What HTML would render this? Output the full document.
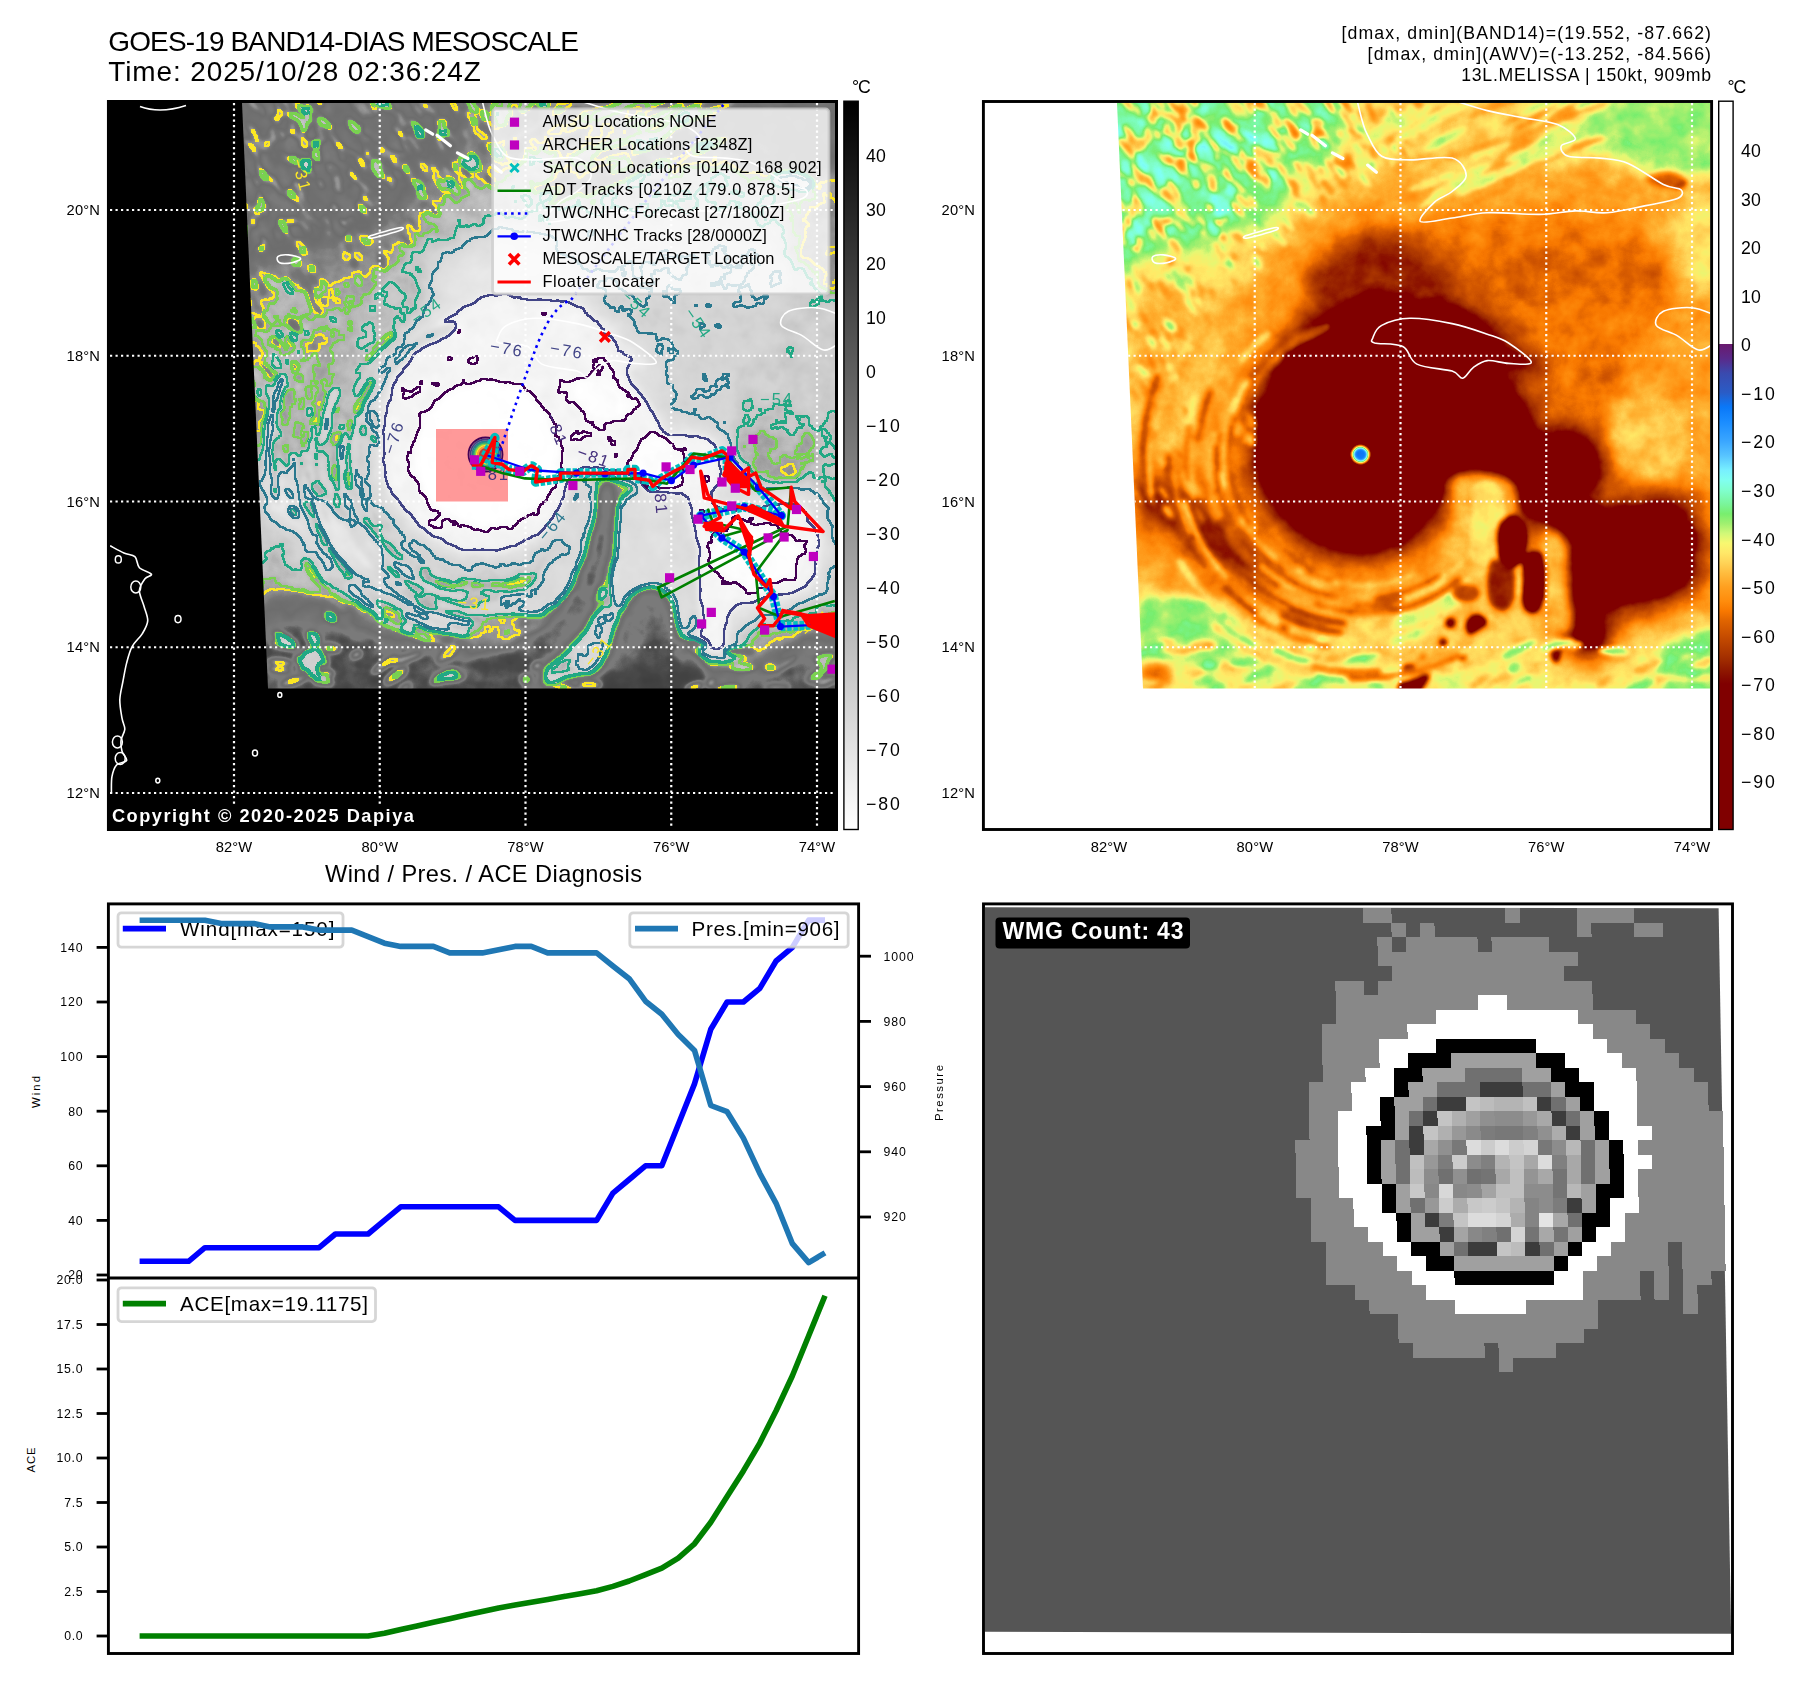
<!DOCTYPE html>
<html><head><meta charset="utf-8"><title>GOES-19 BAND14-DIAS MESOSCALE</title>
<style>html,body{margin:0;padding:0;background:#fff}svg{display:block}text{font-family:"Liberation Sans",sans-serif}</style>
</head><body>
<svg width="1801" height="1690" viewBox="0 0 1801 1690">
<rect width="1801" height="1690" fill="#fff"/>
<defs>
<linearGradient id="cb1" x1="0" y1="0" x2="0" y2="1"><stop offset="0" stop-color="#000"/><stop offset="1" stop-color="#fff"/></linearGradient>
<linearGradient id="cb2" x1="0" y1="0" x2="0" y2="1"><stop offset="0" stop-color="#fff"/><stop offset="0.3333" stop-color="#fff"/><stop offset="0.3333" stop-color="#6a1a6e"/><stop offset="0.3533" stop-color="#5a2a8a"/><stop offset="0.3733" stop-color="#3a4aae"/><stop offset="0.4000" stop-color="#2a5cc6"/><stop offset="0.4200" stop-color="#0a78f8"/><stop offset="0.4400" stop-color="#1a8cff"/><stop offset="0.4667" stop-color="#3aa6ff"/><stop offset="0.4867" stop-color="#58c4ff"/><stop offset="0.5067" stop-color="#78f0ff"/><stop offset="0.5200" stop-color="#80fff0"/><stop offset="0.5333" stop-color="#80ffd0"/><stop offset="0.5533" stop-color="#7af59a"/><stop offset="0.5667" stop-color="#78ee6e"/><stop offset="0.5800" stop-color="#a0f070"/><stop offset="0.5933" stop-color="#d0f878"/><stop offset="0.6067" stop-color="#f8f870"/><stop offset="0.6200" stop-color="#ffe868"/><stop offset="0.6333" stop-color="#ffd458"/><stop offset="0.6467" stop-color="#ffbe40"/><stop offset="0.6667" stop-color="#ffa020"/><stop offset="0.6867" stop-color="#ff8c0c"/><stop offset="0.7000" stop-color="#f87800"/><stop offset="0.7133" stop-color="#e06400"/><stop offset="0.7333" stop-color="#c84e00"/><stop offset="0.7533" stop-color="#b03a00"/><stop offset="0.7667" stop-color="#a02c00"/><stop offset="0.7800" stop-color="#901a00"/><stop offset="0.7933" stop-color="#840800"/><stop offset="0.8000" stop-color="#800000"/><stop offset="1.0000" stop-color="#800000"/></linearGradient>
<clipPath id="clip1"><path d="M242 103H835V688.5H268Z"/></clipPath>
<clipPath id="clip2"><path d="M1117 103H1710.2V688.5H1143Z"/></clipPath>
<clipPath id="clip3"><rect x="109.8" y="905.3" width="747.4" height="746.8"/></clipPath>
<clipPath id="clipax1"><rect x="109.8" y="102.9" width="725.3" height="725.2"/></clipPath>
</defs>

<defs>
<filter id="bl" filterUnits="userSpaceOnUse" x="200" y="60" width="680" height="680"><feGaussianBlur stdDeviation="11"/></filter>
<filter id="bm" filterUnits="userSpaceOnUse" x="200" y="60" width="680" height="680"><feGaussianBlur stdDeviation="5"/></filter>
<filter id="bs" filterUnits="userSpaceOnUse" x="200" y="60" width="680" height="680"><feGaussianBlur stdDeviation="2"/></filter>
<filter id="bx" filterUnits="userSpaceOnUse" x="200" y="60" width="680" height="680"><feGaussianBlur stdDeviation="1.3"/></filter>
<g id="field">
<rect x="200" y="60" width="680" height="680" fill="#808080"/>
<g filter="url(#bl)"><path d="M230.0 90.0C285.8 32.3 513.3 79.2 565.0 90.0C616.7 100.8 560.0 135.8 540.0 155.0C520.0 174.2 470.0 187.8 445.0 205.0C420.0 222.2 408.2 238.8 390.0 258.0C371.8 277.2 352.3 296.7 336.0 320.0C319.7 343.3 304.0 379.3 292.0 398.0C280.0 416.7 274.3 425.7 264.0 432.0C253.7 438.3 235.7 493.0 230.0 436.0C224.3 379.0 174.2 147.7 230.0 90.0Z" fill="#969696"/>
<path d="M225.0 85.0C270.3 55.5 453.5 82.0 497.0 85.0C540.5 88.0 492.2 95.5 486.0 103.0C479.8 110.5 465.8 120.8 460.0 130.0C454.2 139.2 458.5 150.2 451.0 158.0C443.5 165.8 422.5 168.8 415.0 177.0C407.5 185.2 413.5 199.0 406.0 207.0C398.5 215.0 382.0 219.0 370.0 225.0C358.0 231.0 349.0 238.5 334.0 243.0C319.0 247.5 298.2 248.8 280.0 252.0C261.8 255.2 234.2 289.8 225.0 262.0C215.8 234.2 179.7 114.5 225.0 85.0Z" fill="#b6b6b6"/>
<path d="M492.0 85.0C523.2 72.5 686.5 74.2 722.0 85.0C757.5 95.8 717.0 133.8 705.0 150.0C693.0 166.2 667.5 174.0 650.0 182.0C632.5 190.0 615.0 196.7 600.0 198.0C585.0 199.3 570.8 196.3 560.0 190.0C549.2 183.7 546.3 177.5 535.0 160.0C523.7 142.5 460.8 97.5 492.0 85.0Z" fill="#8f8f8f"/>
<path d="M705.0 85.0C736.7 79.2 825.8 70.5 850.0 85.0C874.2 99.5 862.5 156.8 850.0 172.0C837.5 187.2 796.3 179.0 775.0 176.0C753.7 173.0 737.8 156.7 722.0 154.0C706.2 151.3 690.3 165.7 680.0 160.0C669.7 154.3 655.8 132.5 660.0 120.0C664.2 107.5 673.3 90.8 705.0 85.0Z" fill="#a9a9a9"/>
<path d="M800.0 205.0C807.5 192.5 841.7 191.7 850.0 205.0C858.3 218.3 857.5 272.5 850.0 285.0C842.5 297.5 813.3 293.3 805.0 280.0C796.7 266.7 792.5 217.5 800.0 205.0Z" fill="#969696"/>
<path d="M545.0 222.0C567.5 211.2 659.2 211.2 700.0 215.0C740.8 218.8 773.3 230.8 790.0 245.0C806.7 259.2 804.2 283.3 800.0 300.0C795.8 316.7 775.0 325.0 765.0 345.0C755.0 365.0 750.8 405.8 740.0 420.0C729.2 434.2 715.0 434.2 700.0 430.0C685.0 425.8 665.0 411.7 650.0 395.0C635.0 378.3 624.2 349.2 610.0 330.0C595.8 310.8 575.8 298.0 565.0 280.0C554.2 262.0 522.5 232.8 545.0 222.0Z" fill="#707070"/>
<path d="M255.0 580.0C262.5 561.7 284.2 595.7 300.0 600.0C315.8 604.3 331.7 604.3 350.0 606.0C368.3 607.7 390.0 609.3 410.0 610.0C430.0 610.7 450.0 611.0 470.0 610.0C490.0 609.0 512.5 607.3 530.0 604.0C547.5 600.7 563.3 596.3 575.0 590.0C586.7 583.7 589.2 566.8 600.0 566.0C610.8 565.2 625.0 572.7 640.0 585.0C655.0 597.3 666.7 632.8 690.0 640.0C713.3 647.2 753.3 632.7 780.0 628.0C806.7 623.3 838.3 598.3 850.0 612.0C861.7 625.7 949.2 693.7 850.0 710.0C750.8 726.3 354.2 731.7 255.0 710.0C155.8 688.3 247.5 598.3 255.0 580.0Z" fill="#8f8f8f"/>
<path d="M255.0 606.0C262.5 587.0 284.8 596.0 300.0 596.0C315.2 596.0 334.0 599.3 346.0 606.0C358.0 612.7 362.7 628.0 372.0 636.0C381.3 644.0 384.0 651.3 402.0 654.0C420.0 656.7 457.0 652.7 480.0 652.0C503.0 651.3 513.3 648.3 540.0 650.0C566.7 651.7 610.0 659.0 640.0 662.0C670.0 665.0 695.0 671.0 720.0 668.0C745.0 665.0 768.3 649.3 790.0 644.0C811.7 638.7 840.0 625.0 850.0 636.0C860.0 647.0 949.2 697.7 850.0 710.0C750.8 722.3 354.2 727.3 255.0 710.0C155.8 692.7 247.5 625.0 255.0 606.0Z" fill="#9c9c9c"/>
<path d="M258.0 440.0C265.0 428.0 284.7 441.7 300.0 450.0C315.3 458.3 334.2 474.2 350.0 490.0C365.8 505.8 386.3 528.0 395.0 545.0C403.7 562.0 409.5 584.2 402.0 592.0C394.5 599.8 368.3 598.7 350.0 592.0C331.7 585.3 307.3 563.7 292.0 552.0C276.7 540.3 263.7 540.7 258.0 522.0C252.3 503.3 251.0 452.0 258.0 440.0Z" fill="#6c6c6c"/>
<path d="M262.0 300.0C273.3 273.3 313.7 285.0 330.0 290.0C346.3 295.0 358.3 311.7 360.0 330.0C361.7 348.3 346.7 380.0 340.0 400.0C333.3 420.0 333.0 441.7 320.0 450.0C307.0 458.3 271.7 475.0 262.0 450.0C252.3 425.0 250.7 326.7 262.0 300.0Z" fill="#898989"/>
<path d="M379.9 452.1C379.5 443.1 381.4 418.9 383.5 409.9C385.5 400.8 393.0 382.9 397.5 374.6C402.1 366.4 415.6 346.8 422.2 339.4C428.8 332.0 444.8 317.0 453.9 311.3C462.9 305.5 491.0 291.8 499.6 290.1C508.3 288.5 518.8 295.5 527.8 297.2C536.9 298.8 567.3 300.9 577.1 304.2C587.0 307.5 604.9 319.6 612.3 325.4C619.7 331.1 635.4 349.2 640.5 353.5C645.6 357.8 657.6 360.1 656.3 362.3C655.1 364.6 631.0 368.6 629.9 372.9C628.9 377.2 643.4 392.1 647.5 399.3C651.6 406.5 660.2 430.6 665.1 434.5C670.1 438.4 684.0 432.1 689.8 432.7C695.5 433.4 710.3 435.1 714.4 439.8C718.5 444.5 725.2 466.5 725.0 473.2C724.8 480.0 711.4 493.8 712.7 497.9C713.9 502.0 728.4 507.8 735.6 508.5C742.8 509.1 766.1 503.4 774.3 503.2C782.5 503.0 800.6 502.4 806.0 506.7C811.3 511.0 819.2 531.3 820.1 540.1C820.9 549.0 818.4 575.4 813.0 582.4C807.7 589.4 783.7 596.7 774.3 600.0C764.8 603.3 737.8 604.8 732.0 610.6C726.3 616.3 728.9 645.4 725.0 649.3C721.1 653.2 702.7 650.6 698.6 644.0C694.5 637.4 691.2 604.7 689.8 593.0C688.4 581.3 688.3 551.9 686.3 543.7C684.2 535.4 676.7 525.8 672.2 522.5C667.7 519.2 651.8 519.6 647.5 515.5C643.2 511.4 639.3 492.0 635.2 487.3C631.1 482.6 619.1 476.4 612.3 475.0C605.5 473.6 582.9 471.5 577.1 475.0C571.4 478.5 567.1 498.2 563.0 504.9C558.9 511.7 548.5 527.8 541.9 533.1C535.3 538.4 514.9 548.4 506.7 550.7C498.5 553.0 479.7 553.7 471.5 552.5C463.3 551.2 443.7 544.5 436.3 540.1C428.9 535.8 413.8 521.7 408.1 515.5C402.3 509.3 390.3 494.7 387.0 487.3C383.7 479.9 380.3 461.2 379.9 452.1Z" fill="#535353" stroke="#535353" stroke-width="34" stroke-linejoin="round"/>
<path d="M436.3 265.5C442.7 256.1 458.6 246.7 471.5 240.8C484.4 235.0 502.0 230.3 513.7 230.3C525.5 230.3 531.3 234.4 541.9 240.8C552.5 247.3 571.2 258.5 577.1 269.0C583.0 279.6 585.3 299.5 577.1 304.2C568.9 308.9 540.7 299.5 527.8 297.2C514.9 294.8 512.0 287.8 499.6 290.1C487.3 292.5 465.0 310.1 453.9 311.3C442.7 312.4 435.7 304.8 432.7 297.2C429.8 289.6 429.8 274.9 436.3 265.5Z" fill="#4c4c4c"/></g>
<g filter="url(#bm)"><path d="M379.9 452.1C379.5 443.1 381.4 418.9 383.5 409.9C385.5 400.8 393.0 382.9 397.5 374.6C402.1 366.4 415.6 346.8 422.2 339.4C428.8 332.0 444.8 317.0 453.9 311.3C462.9 305.5 491.0 291.8 499.6 290.1C508.3 288.5 518.8 295.5 527.8 297.2C536.9 298.8 567.3 300.9 577.1 304.2C587.0 307.5 604.9 319.6 612.3 325.4C619.7 331.1 635.4 349.2 640.5 353.5C645.6 357.8 657.6 360.1 656.3 362.3C655.1 364.6 631.0 368.6 629.9 372.9C628.9 377.2 643.4 392.1 647.5 399.3C651.6 406.5 660.2 430.6 665.1 434.5C670.1 438.4 684.0 432.1 689.8 432.7C695.5 433.4 710.3 435.1 714.4 439.8C718.5 444.5 725.2 466.5 725.0 473.2C724.8 480.0 711.4 493.8 712.7 497.9C713.9 502.0 728.4 507.8 735.6 508.5C742.8 509.1 766.1 503.4 774.3 503.2C782.5 503.0 800.6 502.4 806.0 506.7C811.3 511.0 819.2 531.3 820.1 540.1C820.9 549.0 818.4 575.4 813.0 582.4C807.7 589.4 783.7 596.7 774.3 600.0C764.8 603.3 737.8 604.8 732.0 610.6C726.3 616.3 728.9 645.4 725.0 649.3C721.1 653.2 702.7 650.6 698.6 644.0C694.5 637.4 691.2 604.7 689.8 593.0C688.4 581.3 688.3 551.9 686.3 543.7C684.2 535.4 676.7 525.8 672.2 522.5C667.7 519.2 651.8 519.6 647.5 515.5C643.2 511.4 639.3 492.0 635.2 487.3C631.1 482.6 619.1 476.4 612.3 475.0C605.5 473.6 582.9 471.5 577.1 475.0C571.4 478.5 567.1 498.2 563.0 504.9C558.9 511.7 548.5 527.8 541.9 533.1C535.3 538.4 514.9 548.4 506.7 550.7C498.5 553.0 479.7 553.7 471.5 552.5C463.3 551.2 443.7 544.5 436.3 540.1C428.9 535.8 413.8 521.7 408.1 515.5C402.3 509.3 390.3 494.7 387.0 487.3C383.7 479.9 380.3 461.2 379.9 452.1Z" fill="#2b2b2b"/>
<ellipse cx="486.5" cy="454.5" rx="73" ry="73" fill="#101010"/>
<ellipse cx="655" cy="470" rx="26" ry="34" fill="#131313"/>
<ellipse cx="755" cy="555" rx="45" ry="32" fill="#131313"/>
<ellipse cx="600" cy="400" rx="30" ry="22" fill="#161616" transform="rotate(30 600 400)"/>
<path d="M268.0 478.0C273.7 475.0 288.0 481.3 300.0 488.0C312.0 494.7 327.2 508.3 340.0 518.0C352.8 527.7 371.3 537.0 377.0 546.0C382.7 555.0 380.2 569.3 374.0 572.0C367.8 574.7 352.3 568.7 340.0 562.0C327.7 555.3 312.3 541.3 300.0 532.0C287.7 522.7 271.3 515.0 266.0 506.0C260.7 497.0 262.3 481.0 268.0 478.0Z" fill="#494949"/>
<path d="M580.6 478.5C589.7 472.9 623.5 475.9 633.5 482.0C643.4 488.2 641.7 502.9 640.5 515.5C639.3 528.1 632.9 543.7 626.4 557.7C620.0 571.8 612.3 587.1 601.8 600.0C591.2 612.9 577.7 624.6 563.0 635.2C548.4 645.8 524.9 661.0 513.7 663.4C502.6 665.7 492.0 658.7 496.1 649.3C500.2 639.9 526.6 622.3 538.4 607.0C550.1 591.8 559.8 573.0 566.5 557.7C573.3 542.5 576.5 528.7 578.9 515.5C581.2 502.3 571.5 484.1 580.6 478.5Z" fill="#898989"/>
<path d="M520.0 614.0C526.7 604.0 548.3 597.7 560.0 592.0C571.7 586.3 585.7 578.3 590.0 580.0C594.3 581.7 591.7 594.0 586.0 602.0C580.3 610.0 567.0 619.7 556.0 628.0C545.0 636.3 526.0 654.3 520.0 652.0C514.0 649.7 513.3 624.0 520.0 614.0Z" fill="#a3a3a3"/>
<path d="M666.9 536.6C671.0 529.0 685.4 530.8 689.8 540.1C694.2 549.5 692.4 578.3 693.3 593.0C694.2 607.6 698.6 622.3 695.1 628.2C691.5 634.0 677.2 635.2 672.2 628.2C667.2 621.1 666.0 601.2 665.1 585.9C664.3 570.7 662.8 544.2 666.9 536.6Z" fill="#898989"/>
<ellipse cx="645" cy="277" rx="50" ry="20" fill="#666666" transform="rotate(-8 645 277)"/>
<ellipse cx="730" cy="272" rx="52" ry="20" fill="#696969" transform="rotate(5 730 272)"/>
<ellipse cx="720" cy="375" rx="18" ry="9" fill="#666666"/>
<path d="M745.0 400.0C755.8 394.2 788.3 396.7 800.0 405.0C811.7 413.3 816.7 437.5 815.0 450.0C813.3 462.5 800.8 476.7 790.0 480.0C779.2 483.3 759.2 476.7 750.0 470.0C740.8 463.3 735.8 451.7 735.0 440.0C734.2 428.3 734.2 405.8 745.0 400.0Z" fill="#8c8c8c"/>
<ellipse cx="282" cy="676" rx="16" ry="14" fill="#6c6c6c"/>
<path d="M266.0 604.0C271.7 595.0 286.8 595.7 300.0 596.0C313.2 596.3 334.0 599.7 345.0 606.0C356.0 612.3 363.5 625.5 366.0 634.0C368.5 642.5 371.0 652.3 360.0 657.0C349.0 661.7 315.7 663.2 300.0 662.0C284.3 660.8 271.7 659.7 266.0 650.0C260.3 640.3 260.3 613.0 266.0 604.0Z" fill="#acacac"/>
<path d="M791.0 644.0C800.8 633.3 840.2 626.7 850.0 636.0C859.8 645.3 859.8 689.3 850.0 700.0C840.2 710.7 800.8 709.3 791.0 700.0C781.2 690.7 781.2 654.7 791.0 644.0Z" fill="#acacac"/></g>
<g filter="url(#bs)"><path d="M598.2 485.6C603.1 481.2 621.7 480.0 626.4 489.1C631.1 498.2 629.3 527.5 626.4 540.1C623.5 552.8 614.1 562.4 608.8 564.8C603.5 567.1 596.6 562.4 594.7 554.2C592.8 546.0 596.9 526.9 597.5 515.5C598.1 504.0 593.4 490.0 598.2 485.6Z" fill="#969696"/>
<path d="M645.8 540.1C645.8 544.8 646.4 559.5 645.8 568.3C645.2 577.1 642.8 588.8 642.3 593.0" fill="none" stroke="#999999" stroke-width="6" stroke-linecap="round" stroke-linejoin="round"/>
<path d="M624.6 522.5C628.0 517.3 637.7 513.7 642.3 515.5C646.8 517.3 650.9 525.5 651.8 533.1C652.6 540.7 651.2 555.4 647.5 561.3C643.9 567.1 634.2 570.7 629.9 568.3C625.7 566.0 623.1 554.8 622.2 547.2C621.3 539.6 621.3 527.8 624.6 522.5Z" fill="#262626"/>
<path d="M615.8 561.3C619.7 556.0 632.9 563.0 637.0 568.3C641.1 573.6 641.7 585.9 640.5 593.0C639.3 600.0 634.3 609.4 629.9 610.6C625.5 611.7 616.4 608.2 614.1 600.0C611.7 591.8 612.0 566.5 615.8 561.3Z" fill="#4c4c4c"/>
<path d="M649.3 556.0C652.6 551.9 663.6 548.1 666.9 554.2C670.2 560.4 670.2 583.3 669.4 593.0C668.5 602.6 665.0 610.0 661.6 612.3C658.3 614.7 651.8 612.6 649.3 607.0C646.8 601.5 646.8 587.4 646.8 578.9C646.8 570.4 646.0 560.1 649.3 556.0Z" fill="#262626"/>
<ellipse cx="601.7605633802817" cy="626.4084507042254" rx="11" ry="12" fill="#262626"/>
<ellipse cx="575.3521126760563" cy="622.887323943662" rx="5" ry="5" fill="#2d2d2d"/>
<ellipse cx="568.3098591549297" cy="642.2535211267606" rx="4" ry="4" fill="#333333"/>
<ellipse cx="587.6760563380282" cy="656.3380281690141" rx="4" ry="5" fill="#333333"/>
<ellipse cx="680.9859154929577" cy="651.0563380281691" rx="5" ry="12" fill="#2d2d2d"/>
<path d="M524.3 695.1C522.2 690.4 523.1 676.9 526.1 670.4C529.0 664.0 536.6 658.1 541.9 656.3C547.2 654.6 556.0 655.8 557.7 659.9C559.5 664.0 555.7 674.5 552.5 681.0C549.2 687.4 543.1 696.2 538.4 698.6C533.7 700.9 526.3 699.8 524.3 695.1Z" fill="#2d2d2d"/>
<ellipse cx="591.1971830985915" cy="592.9577464788733" rx="14" ry="9" fill="#595959"/>
<ellipse cx="408.09859154929575" cy="628.1690140845071" rx="6" ry="5" fill="#606060"/>
<ellipse cx="802" cy="183" rx="10" ry="6" fill="#4c4c4c"/>
<ellipse cx="790" cy="180" rx="18" ry="8" fill="#666666"/>
<ellipse cx="320.4" cy="124.4" rx="8.8" ry="2.1" fill="#858585" transform="rotate(44.7 320.4 124.4)"/>
<ellipse cx="256.0" cy="182.2" rx="4.6" ry="1.7" fill="#6e6e6e" transform="rotate(53.4 256.0 182.2)"/>
<ellipse cx="344.7" cy="234.0" rx="9.6" ry="3.2" fill="#717171" transform="rotate(48.4 344.7 234.0)"/>
<ellipse cx="381.7" cy="164.3" rx="11.7" ry="2.0" fill="#929292" transform="rotate(44.1 381.7 164.3)"/>
<ellipse cx="276.9" cy="119.1" rx="5.6" ry="2.5" fill="#787878" transform="rotate(62.6 276.9 119.1)"/>
<ellipse cx="396.6" cy="160.3" rx="4.5" ry="1.9" fill="#818181" transform="rotate(44.5 396.6 160.3)"/>
<ellipse cx="406.7" cy="169.3" rx="8.1" ry="2.0" fill="#787878" transform="rotate(57.1 406.7 169.3)"/>
<ellipse cx="301.1" cy="193.1" rx="10.6" ry="2.0" fill="#808080" transform="rotate(64.0 301.1 193.1)"/>
<ellipse cx="343.2" cy="222.7" rx="4.4" ry="2.7" fill="#727272" transform="rotate(54.7 343.2 222.7)"/>
<ellipse cx="382.3" cy="173.9" rx="8.3" ry="2.7" fill="#8d8d8d" transform="rotate(65.7 382.3 173.9)"/>
<ellipse cx="256.7" cy="213.6" rx="11.4" ry="2.0" fill="#858585" transform="rotate(66.8 256.7 213.6)"/>
<ellipse cx="335.4" cy="208.3" rx="5.5" ry="1.7" fill="#6d6d6d" transform="rotate(54.1 335.4 208.3)"/>
<ellipse cx="256.3" cy="224.5" rx="7.5" ry="3.0" fill="#717171" transform="rotate(48.9 256.3 224.5)"/>
<ellipse cx="261.5" cy="172.8" rx="11.4" ry="3.0" fill="#818181" transform="rotate(64.2 261.5 172.8)"/>
<ellipse cx="309.4" cy="167.3" rx="12.6" ry="1.8" fill="#7a7a7a" transform="rotate(64.2 309.4 167.3)"/>
<ellipse cx="284.6" cy="137.6" rx="9.3" ry="2.0" fill="#757575" transform="rotate(54.6 284.6 137.6)"/>
<ellipse cx="243.0" cy="167.9" rx="12.6" ry="2.7" fill="#7a7a7a" transform="rotate(56.6 243.0 167.9)"/>
<ellipse cx="366.7" cy="200.1" rx="12.1" ry="2.9" fill="#868686" transform="rotate(44.3 366.7 200.1)"/>
<ellipse cx="337.0" cy="164.6" rx="4.6" ry="1.6" fill="#707070" transform="rotate(58.2 337.0 164.6)"/>
<ellipse cx="292.5" cy="126.3" rx="4.0" ry="1.8" fill="#797979" transform="rotate(44.3 292.5 126.3)"/>
<ellipse cx="266.6" cy="158.9" rx="9.5" ry="1.8" fill="#6d6d6d" transform="rotate(64.0 266.6 158.9)"/>
<ellipse cx="303.0" cy="156.3" rx="11.6" ry="3.2" fill="#7a7a7a" transform="rotate(45.9 303.0 156.3)"/>
<ellipse cx="354.8" cy="178.4" rx="7.1" ry="2.0" fill="#707070" transform="rotate(45.5 354.8 178.4)"/>
<ellipse cx="442.6" cy="126.2" rx="8.8" ry="1.8" fill="#6d6d6d" transform="rotate(65.8 442.6 126.2)"/>
<ellipse cx="373.4" cy="104.4" rx="11.8" ry="2.7" fill="#818181" transform="rotate(66.5 373.4 104.4)"/>
<ellipse cx="305.2" cy="159.4" rx="8.8" ry="2.9" fill="#737373" transform="rotate(61.5 305.2 159.4)"/>
<ellipse cx="321.8" cy="136.1" rx="11.7" ry="2.9" fill="#8b8b8b" transform="rotate(66.6 321.8 136.1)"/>
<ellipse cx="296.9" cy="183.9" rx="4.3" ry="2.0" fill="#7a7a7a" transform="rotate(43.7 296.9 183.9)"/>
<ellipse cx="304.7" cy="212.2" rx="12.4" ry="3.2" fill="#919191" transform="rotate(53.7 304.7 212.2)"/>
<ellipse cx="295.4" cy="136.7" rx="9.6" ry="3.1" fill="#747474" transform="rotate(47.9 295.4 136.7)"/>
<ellipse cx="262.5" cy="207.0" rx="10.8" ry="2.3" fill="#8f8f8f" transform="rotate(61.8 262.5 207.0)"/>
<ellipse cx="285.2" cy="227.8" rx="12.7" ry="2.2" fill="#797979" transform="rotate(62.2 285.2 227.8)"/>
<ellipse cx="417.4" cy="127.5" rx="12.1" ry="2.9" fill="#717171" transform="rotate(46.6 417.4 127.5)"/>
<ellipse cx="277.4" cy="233.9" rx="7.2" ry="2.5" fill="#929292" transform="rotate(58.8 277.4 233.9)"/>
<ellipse cx="273.7" cy="102.3" rx="8.7" ry="3.1" fill="#929292" transform="rotate(58.6 273.7 102.3)"/>
<ellipse cx="441.9" cy="134.2" rx="6.2" ry="2.5" fill="#767676" transform="rotate(50.0 441.9 134.2)"/>
<ellipse cx="304.8" cy="167.9" rx="7.2" ry="2.3" fill="#717171" transform="rotate(64.8 304.8 167.9)"/>
<ellipse cx="363.4" cy="186.2" rx="8.0" ry="1.8" fill="#808080" transform="rotate(43.4 363.4 186.2)"/>
<ellipse cx="243.0" cy="229.5" rx="10.5" ry="2.5" fill="#737373" transform="rotate(54.4 243.0 229.5)"/>
<ellipse cx="320.9" cy="184.0" rx="5.0" ry="2.5" fill="#828282" transform="rotate(61.8 320.9 184.0)"/>
<ellipse cx="302.1" cy="144.9" rx="9.1" ry="2.8" fill="#8a8a8a" transform="rotate(55.2 302.1 144.9)"/>
<ellipse cx="390.2" cy="181.9" rx="8.1" ry="2.4" fill="#808080" transform="rotate(59.6 390.2 181.9)"/>
<ellipse cx="445.3" cy="122.2" rx="4.7" ry="1.9" fill="#717171" transform="rotate(53.6 445.3 122.2)"/>
<ellipse cx="259.7" cy="208.5" rx="5.4" ry="2.8" fill="#8a8a8a" transform="rotate(64.5 259.7 208.5)"/>
<ellipse cx="401.8" cy="123.2" rx="6.0" ry="3.2" fill="#8e8e8e" transform="rotate(66.2 401.8 123.2)"/>
<ellipse cx="338.4" cy="178.9" rx="5.5" ry="2.3" fill="#929292" transform="rotate(63.0 338.4 178.9)"/>
<ellipse cx="366.8" cy="154.9" rx="10.5" ry="1.5" fill="#747474" transform="rotate(50.6 366.8 154.9)"/>
<ellipse cx="376.1" cy="171.4" rx="9.6" ry="2.4" fill="#6d6d6d" transform="rotate(51.0 376.1 171.4)"/>
<ellipse cx="267.4" cy="143.0" rx="6.4" ry="1.7" fill="#6e6e6e" transform="rotate(61.7 267.4 143.0)"/>
<ellipse cx="440.2" cy="141.9" rx="9.1" ry="2.7" fill="#727272" transform="rotate(65.1 440.2 141.9)"/>
<ellipse cx="263.6" cy="109.3" rx="4.7" ry="3.1" fill="#878787" transform="rotate(53.2 263.6 109.3)"/>
<ellipse cx="262.3" cy="238.7" rx="8.1" ry="2.1" fill="#6f6f6f" transform="rotate(63.7 262.3 238.7)"/>
<ellipse cx="306.8" cy="120.9" rx="5.0" ry="1.8" fill="#818181" transform="rotate(48.7 306.8 120.9)"/>
<ellipse cx="254.2" cy="132.7" rx="10.8" ry="2.0" fill="#787878" transform="rotate(50.3 254.2 132.7)"/>
<ellipse cx="363.0" cy="128.8" rx="6.3" ry="1.5" fill="#7a7a7a" transform="rotate(43.4 363.0 128.8)"/>
<ellipse cx="287.8" cy="176.9" rx="11.4" ry="2.3" fill="#909090" transform="rotate(45.6 287.8 176.9)"/>
<ellipse cx="337.1" cy="182.1" rx="7.1" ry="3.0" fill="#878787" transform="rotate(66.6 337.1 182.1)"/>
<ellipse cx="339.9" cy="156.3" rx="4.6" ry="2.8" fill="#6e6e6e" transform="rotate(46.1 339.9 156.3)"/>
<ellipse cx="303.9" cy="126.4" rx="11.8" ry="2.7" fill="#707070" transform="rotate(63.2 303.9 126.4)"/>
<ellipse cx="310.2" cy="139.2" rx="5.4" ry="2.3" fill="#787878" transform="rotate(54.0 310.2 139.2)"/>
<ellipse cx="316.9" cy="157.8" rx="8.3" ry="2.4" fill="#6c6c6c" transform="rotate(52.2 316.9 157.8)"/>
<ellipse cx="290.6" cy="181.8" rx="4.8" ry="2.2" fill="#6d6d6d" transform="rotate(49.3 290.6 181.8)"/>
<ellipse cx="252.1" cy="103.6" rx="9.3" ry="2.4" fill="#787878" transform="rotate(48.6 252.1 103.6)"/>
<ellipse cx="336.3" cy="152.8" rx="10.5" ry="2.6" fill="#929292" transform="rotate(46.6 336.3 152.8)"/>
<ellipse cx="252.6" cy="235.3" rx="10.6" ry="2.9" fill="#8e8e8e" transform="rotate(58.1 252.6 235.3)"/>
<ellipse cx="275.7" cy="184.8" rx="11.2" ry="2.9" fill="#808080" transform="rotate(63.0 275.7 184.8)"/>
<ellipse cx="297.6" cy="105.0" rx="4.9" ry="3.0" fill="#717171" transform="rotate(51.7 297.6 105.0)"/>
<ellipse cx="377.2" cy="201.7" rx="8.4" ry="1.5" fill="#848484" transform="rotate(59.3 377.2 201.7)"/>
<ellipse cx="363.7" cy="186.7" rx="10.6" ry="1.9" fill="#868686" transform="rotate(44.6 363.7 186.7)"/>
<ellipse cx="260.0" cy="143.0" rx="10.7" ry="3.2" fill="#888888" transform="rotate(47.9 260.0 143.0)"/>
<ellipse cx="361.5" cy="162.0" rx="10.9" ry="2.6" fill="#7f7f7f" transform="rotate(59.4 361.5 162.0)"/>
<ellipse cx="397.5" cy="112.6" rx="10.7" ry="2.0" fill="#727272" transform="rotate(49.1 397.5 112.6)"/>
<ellipse cx="379.4" cy="102.0" rx="10.0" ry="2.7" fill="#6f6f6f" transform="rotate(49.5 379.4 102.0)"/>
<ellipse cx="405.5" cy="147.1" rx="8.2" ry="1.7" fill="#808080" transform="rotate(54.2 405.5 147.1)"/>
<ellipse cx="246.2" cy="174.4" rx="8.0" ry="2.0" fill="#8c8c8c" transform="rotate(66.2 246.2 174.4)"/>
<ellipse cx="293.0" cy="194.2" rx="12.6" ry="1.7" fill="#727272" transform="rotate(55.6 293.0 194.2)"/>
<ellipse cx="298.0" cy="245.4" rx="4.0" ry="2.4" fill="#7f7f7f" transform="rotate(43.6 298.0 245.4)"/>
<ellipse cx="351.1" cy="148.9" rx="6.8" ry="3.0" fill="#727272" transform="rotate(51.3 351.1 148.9)"/>
<ellipse cx="242.4" cy="221.6" rx="12.3" ry="2.7" fill="#8c8c8c" transform="rotate(45.9 242.4 221.6)"/>
<ellipse cx="332.1" cy="163.6" rx="7.2" ry="2.2" fill="#939393" transform="rotate(57.1 332.1 163.6)"/>
<ellipse cx="308.6" cy="107.8" rx="6.6" ry="3.1" fill="#707070" transform="rotate(63.0 308.6 107.8)"/>
<ellipse cx="302.3" cy="143.0" rx="7.4" ry="3.2" fill="#808080" transform="rotate(47.6 302.3 143.0)"/>
<ellipse cx="416.1" cy="108.0" rx="10.8" ry="2.6" fill="#888888" transform="rotate(53.8 416.1 108.0)"/>
<ellipse cx="311.3" cy="107.9" rx="8.2" ry="2.1" fill="#909090" transform="rotate(46.1 311.3 107.9)"/>
<ellipse cx="314.1" cy="219.7" rx="9.9" ry="2.0" fill="#929292" transform="rotate(49.2 314.1 219.7)"/>
<ellipse cx="376.9" cy="163.9" rx="5.9" ry="3.1" fill="#737373" transform="rotate(46.9 376.9 163.9)"/>
<ellipse cx="362.3" cy="135.6" rx="8.0" ry="1.7" fill="#8f8f8f" transform="rotate(66.9 362.3 135.6)"/>
<ellipse cx="288.6" cy="114.7" rx="6.2" ry="2.0" fill="#797979" transform="rotate(45.2 288.6 114.7)"/>
<ellipse cx="423.4" cy="166.9" rx="7.4" ry="2.1" fill="#7c7c7c" transform="rotate(55.6 423.4 166.9)"/>
<ellipse cx="257.0" cy="145.0" rx="8.5" ry="2.6" fill="#919191" transform="rotate(46.0 257.0 145.0)"/>
<ellipse cx="450.8" cy="135.0" rx="7.6" ry="2.3" fill="#777777" transform="rotate(49.0 450.8 135.0)"/>
<ellipse cx="453.2" cy="103.5" rx="12.1" ry="2.3" fill="#6e6e6e" transform="rotate(60.0 453.2 103.5)"/>
<ellipse cx="384.1" cy="100.0" rx="11.4" ry="3.0" fill="#7b7b7b" transform="rotate(65.2 384.1 100.0)"/>
<ellipse cx="268.4" cy="125.0" rx="12.5" ry="2.8" fill="#808080" transform="rotate(59.4 268.4 125.0)"/>
<ellipse cx="352.7" cy="189.3" rx="6.1" ry="3.1" fill="#6e6e6e" transform="rotate(61.8 352.7 189.3)"/>
<ellipse cx="398.2" cy="149.2" rx="9.7" ry="2.7" fill="#717171" transform="rotate(49.0 398.2 149.2)"/>
<ellipse cx="269.1" cy="111.4" rx="7.5" ry="1.9" fill="#808080" transform="rotate(57.0 269.1 111.4)"/>
<ellipse cx="387.5" cy="101.7" rx="12.6" ry="2.6" fill="#787878" transform="rotate(54.1 387.5 101.7)"/>
<ellipse cx="298.8" cy="140.0" rx="6.8" ry="1.5" fill="#919191" transform="rotate(59.9 298.8 140.0)"/>
<ellipse cx="362.6" cy="209.3" rx="10.0" ry="3.1" fill="#7c7c7c" transform="rotate(49.2 362.6 209.3)"/>
<ellipse cx="296.9" cy="105.5" rx="10.1" ry="1.8" fill="#797979" transform="rotate(53.1 296.9 105.5)"/>
<ellipse cx="364.2" cy="133.2" rx="11.4" ry="1.9" fill="#919191" transform="rotate(50.5 364.2 133.2)"/>
<ellipse cx="295.6" cy="223.2" rx="8.5" ry="1.8" fill="#787878" transform="rotate(65.8 295.6 223.2)"/>
<ellipse cx="296.0" cy="167.6" rx="5.3" ry="2.2" fill="#868686" transform="rotate(65.8 296.0 167.6)"/>
<ellipse cx="276.3" cy="108.4" rx="12.1" ry="3.0" fill="#6f6f6f" transform="rotate(52.4 276.3 108.4)"/>
<ellipse cx="422.6" cy="105.2" rx="7.4" ry="2.1" fill="#868686" transform="rotate(52.1 422.6 105.2)"/>
<ellipse cx="283.0" cy="100.5" rx="12.6" ry="1.7" fill="#777777" transform="rotate(51.4 283.0 100.5)"/>
<ellipse cx="328.3" cy="233.1" rx="4.4" ry="2.3" fill="#8c8c8c" transform="rotate(53.4 328.3 233.1)"/>
<ellipse cx="288.7" cy="159.0" rx="7.7" ry="2.9" fill="#8f8f8f" transform="rotate(43.7 288.7 159.0)"/>
<ellipse cx="427.5" cy="106.6" rx="12.3" ry="1.9" fill="#6e6e6e" transform="rotate(44.5 427.5 106.6)"/>
<ellipse cx="324.1" cy="144.1" rx="6.4" ry="2.8" fill="#919191" transform="rotate(57.8 324.1 144.1)"/>
<ellipse cx="318.6" cy="144.7" rx="12.2" ry="2.6" fill="#6d6d6d" transform="rotate(61.1 318.6 144.7)"/>
<ellipse cx="470.3" cy="103.9" rx="12.6" ry="3.2" fill="#757575" transform="rotate(54.4 470.3 103.9)"/>
<ellipse cx="335.5" cy="140.7" rx="12.4" ry="1.8" fill="#7d7d7d" transform="rotate(54.8 335.5 140.7)"/>
<ellipse cx="389.0" cy="153.1" rx="11.0" ry="1.6" fill="#797979" transform="rotate(51.7 389.0 153.1)"/>
<ellipse cx="289.7" cy="222.0" rx="4.3" ry="2.5" fill="#767676" transform="rotate(44.6 289.7 222.0)"/>
<ellipse cx="306.1" cy="113.6" rx="10.4" ry="2.3" fill="#707070" transform="rotate(55.0 306.1 113.6)"/>
<ellipse cx="298.7" cy="167.5" rx="10.7" ry="3.0" fill="#848484" transform="rotate(59.2 298.7 167.5)"/>
<ellipse cx="402.8" cy="119.6" rx="9.1" ry="2.2" fill="#8d8d8d" transform="rotate(50.1 402.8 119.6)"/>
<ellipse cx="420.6" cy="132.3" rx="5.4" ry="3.0" fill="#767676" transform="rotate(48.9 420.6 132.3)"/>
<ellipse cx="381.9" cy="152.9" rx="8.6" ry="1.9" fill="#7c7c7c" transform="rotate(66.8 381.9 152.9)"/>
<ellipse cx="251.8" cy="147.6" rx="12.8" ry="2.5" fill="#717171" transform="rotate(47.5 251.8 147.6)"/>
<ellipse cx="304.9" cy="226.0" rx="9.4" ry="2.6" fill="#919191" transform="rotate(45.5 304.9 226.0)"/>
<ellipse cx="294.7" cy="159.7" rx="6.3" ry="2.5" fill="#727272" transform="rotate(47.9 294.7 159.7)"/>
<ellipse cx="399.7" cy="133.0" rx="10.1" ry="1.8" fill="#6d6d6d" transform="rotate(50.9 399.7 133.0)"/>
<ellipse cx="317.6" cy="133.0" rx="4.6" ry="1.7" fill="#8b8b8b" transform="rotate(56.2 317.6 133.0)"/>
<ellipse cx="337.7" cy="189.1" rx="5.5" ry="2.7" fill="#858585" transform="rotate(45.2 337.7 189.1)"/>
<ellipse cx="341.2" cy="145.9" rx="6.8" ry="2.5" fill="#787878" transform="rotate(65.9 341.2 145.9)"/>
<ellipse cx="328.4" cy="167.5" rx="7.3" ry="1.8" fill="#8d8d8d" transform="rotate(66.9 328.4 167.5)"/>
<ellipse cx="418.2" cy="133.0" rx="7.8" ry="2.9" fill="#6d6d6d" transform="rotate(64.6 418.2 133.0)"/>
<ellipse cx="353.5" cy="126.3" rx="9.8" ry="3.1" fill="#6d6d6d" transform="rotate(56.2 353.5 126.3)"/>
<ellipse cx="263.5" cy="200.8" rx="5.3" ry="2.0" fill="#7b7b7b" transform="rotate(55.1 263.5 200.8)"/>
<ellipse cx="268.3" cy="179.5" rx="5.8" ry="1.7" fill="#8b8b8b" transform="rotate(66.2 268.3 179.5)"/>
<ellipse cx="358.8" cy="108.6" rx="12.1" ry="2.6" fill="#909090" transform="rotate(52.3 358.8 108.6)"/>
<ellipse cx="441.5" cy="126.0" rx="7.6" ry="3.0" fill="#8a8a8a" transform="rotate(48.3 441.5 126.0)"/>
<ellipse cx="442.7" cy="129.6" rx="8.7" ry="2.2" fill="#757575" transform="rotate(52.6 442.7 129.6)"/>
<ellipse cx="271.8" cy="140.0" rx="4.4" ry="2.5" fill="#888888" transform="rotate(64.5 271.8 140.0)"/>
<ellipse cx="425.3" cy="106.2" rx="9.4" ry="2.5" fill="#8c8c8c" transform="rotate(45.8 425.3 106.2)"/>
<ellipse cx="393.7" cy="149.6" rx="7.8" ry="2.7" fill="#7c7c7c" transform="rotate(57.0 393.7 149.6)"/>
<ellipse cx="350.1" cy="171.0" rx="8.4" ry="1.9" fill="#6d6d6d" transform="rotate(57.9 350.1 171.0)"/>
<ellipse cx="352.9" cy="129.1" rx="5.2" ry="2.3" fill="#7e7e7e" transform="rotate(45.6 352.9 129.1)"/>
<ellipse cx="264.2" cy="171.6" rx="9.7" ry="1.6" fill="#808080" transform="rotate(44.0 264.2 171.6)"/>
<ellipse cx="365.8" cy="108.8" rx="12.6" ry="1.7" fill="#808080" transform="rotate(52.1 365.8 108.8)"/>
<ellipse cx="257.9" cy="156.8" rx="12.1" ry="2.0" fill="#898989" transform="rotate(46.8 257.9 156.8)"/>
<ellipse cx="439.4" cy="123.3" rx="5.9" ry="2.0" fill="#808080" transform="rotate(65.1 439.4 123.3)"/>
<ellipse cx="364.5" cy="151.7" rx="5.5" ry="3.1" fill="#6e6e6e" transform="rotate(47.4 364.5 151.7)"/>
<ellipse cx="282.8" cy="227.1" rx="9.7" ry="2.1" fill="#717171" transform="rotate(55.7 282.8 227.1)"/>
<ellipse cx="394.4" cy="163.9" rx="12.9" ry="2.5" fill="#8b8b8b" transform="rotate(49.4 394.4 163.9)"/>
<ellipse cx="329.2" cy="223.9" rx="10.7" ry="1.6" fill="#7d7d7d" transform="rotate(47.2 329.2 223.9)"/>
<ellipse cx="440.4" cy="141.1" rx="9.3" ry="2.7" fill="#858585" transform="rotate(66.6 440.4 141.1)"/>
<ellipse cx="317.7" cy="100.3" rx="9.5" ry="2.3" fill="#6e6e6e" transform="rotate(46.6 317.7 100.3)"/>
<ellipse cx="273.9" cy="136.8" rx="4.0" ry="2.1" fill="#858585" transform="rotate(43.5 273.9 136.8)"/>
<ellipse cx="267.7" cy="157.9" rx="9.3" ry="1.9" fill="#757575" transform="rotate(57.0 267.7 157.9)"/>
<ellipse cx="393.0" cy="176.9" rx="6.2" ry="1.8" fill="#727272" transform="rotate(65.5 393.0 176.9)"/>
<ellipse cx="265.2" cy="203.4" rx="7.6" ry="2.0" fill="#8e8e8e" transform="rotate(61.8 265.2 203.4)"/>
<ellipse cx="244.8" cy="204.5" rx="9.8" ry="2.3" fill="#828282" transform="rotate(51.4 244.8 204.5)"/>
<ellipse cx="302.1" cy="246.4" rx="7.7" ry="1.9" fill="#6e6e6e" transform="rotate(55.8 302.1 246.4)"/>
<ellipse cx="256.1" cy="226.2" rx="12.5" ry="1.7" fill="#6d6d6d" transform="rotate(56.2 256.1 226.2)"/>
<ellipse cx="290.3" cy="198.5" rx="11.3" ry="1.8" fill="#808080" transform="rotate(58.4 290.3 198.5)"/>
<ellipse cx="316.9" cy="148.6" rx="11.0" ry="2.8" fill="#6e6e6e" transform="rotate(64.3 316.9 148.6)"/>
<ellipse cx="243.5" cy="236.8" rx="10.7" ry="2.3" fill="#898989" transform="rotate(54.2 243.5 236.8)"/>
<ellipse cx="296.7" cy="117.1" rx="7.0" ry="2.8" fill="#757575" transform="rotate(43.9 296.7 117.1)"/>
<ellipse cx="414.2" cy="143.1" rx="11.1" ry="2.4" fill="#828282" transform="rotate(53.5 414.2 143.1)"/>
<ellipse cx="306.2" cy="204.0" rx="11.9" ry="1.5" fill="#919191" transform="rotate(48.2 306.2 204.0)"/>
<ellipse cx="305.0" cy="138.2" rx="10.7" ry="2.1" fill="#898989" transform="rotate(65.7 305.0 138.2)"/>
<ellipse cx="299.9" cy="247.0" rx="10.0" ry="3.2" fill="#848484" transform="rotate(59.6 299.9 247.0)"/>
<ellipse cx="347.8" cy="217.4" rx="5.9" ry="2.6" fill="#828282" transform="rotate(50.4 347.8 217.4)"/>
<ellipse cx="260.8" cy="247.5" rx="5.0" ry="3.1" fill="#727272" transform="rotate(43.6 260.8 247.5)"/>
<ellipse cx="325.5" cy="123.0" rx="10.2" ry="2.6" fill="#6d6d6d" transform="rotate(44.0 325.5 123.0)"/>
<ellipse cx="257.9" cy="195.7" rx="11.4" ry="3.1" fill="#7a7a7a" transform="rotate(62.6 257.9 195.7)"/>
<ellipse cx="258.0" cy="240.6" rx="5.9" ry="3.8" fill="#c5c5c5" transform="rotate(72.2 258.0 240.6)"/>
<ellipse cx="269.1" cy="105.6" rx="10.1" ry="6.3" fill="#c5c5c5" transform="rotate(65.6 269.1 105.6)"/>
<ellipse cx="394.8" cy="146.6" rx="11.1" ry="3.8" fill="#c0c0c0" transform="rotate(29.9 394.8 146.6)"/>
<ellipse cx="319.2" cy="168.6" rx="7.3" ry="5.9" fill="#bfbfbf" transform="rotate(37.8 319.2 168.6)"/>
<ellipse cx="331.1" cy="152.0" rx="11.8" ry="5.5" fill="#c5c5c5" transform="rotate(50.2 331.1 152.0)"/>
<ellipse cx="249.5" cy="166.9" rx="7.8" ry="5.8" fill="#c2c2c2" transform="rotate(63.7 249.5 166.9)"/>
<ellipse cx="372.2" cy="135.1" rx="11.6" ry="3.7" fill="#c5c5c5" transform="rotate(29.5 372.2 135.1)"/>
<ellipse cx="242.3" cy="132.7" rx="5.0" ry="5.0" fill="#c4c4c4" transform="rotate(73.9 242.3 132.7)"/>
<ellipse cx="286.7" cy="180.1" rx="7.1" ry="6.8" fill="#c1c1c1" transform="rotate(66.6 286.7 180.1)"/>
<ellipse cx="310.7" cy="134.8" rx="5.9" ry="5.5" fill="#c4c4c4" transform="rotate(49.9 310.7 134.8)"/>
<ellipse cx="261.6" cy="227.6" rx="10.0" ry="4.4" fill="#c4c4c4" transform="rotate(64.3 261.6 227.6)"/>
<ellipse cx="339.1" cy="163.9" rx="12.1" ry="3.1" fill="#c5c5c5" transform="rotate(29.3 339.1 163.9)"/>
<ellipse cx="291.9" cy="142.6" rx="8.0" ry="6.5" fill="#c5c5c5" transform="rotate(50.1 291.9 142.6)"/>
<ellipse cx="298.5" cy="174.7" rx="11.0" ry="5.6" fill="#c3c3c3" transform="rotate(62.7 298.5 174.7)"/>
<ellipse cx="326.3" cy="152.9" rx="10.3" ry="6.0" fill="#c0c0c0" transform="rotate(67.2 326.3 152.9)"/>
<ellipse cx="283.0" cy="171.1" rx="6.0" ry="4.8" fill="#c4c4c4" transform="rotate(54.0 283.0 171.1)"/>
<ellipse cx="288.4" cy="148.8" rx="6.2" ry="3.6" fill="#c4c4c4" transform="rotate(67.2 288.4 148.8)"/>
<ellipse cx="301.9" cy="152.9" rx="7.6" ry="3.8" fill="#c3c3c3" transform="rotate(33.0 301.9 152.9)"/>
<ellipse cx="266.6" cy="162.2" rx="10.9" ry="4.7" fill="#c6c6c6" transform="rotate(64.7 266.6 162.2)"/>
<ellipse cx="289.5" cy="203.4" rx="8.1" ry="3.1" fill="#c0c0c0" transform="rotate(35.3 289.5 203.4)"/>
<ellipse cx="338.6" cy="228.1" rx="10.1" ry="4.9" fill="#c4c4c4" transform="rotate(50.0 338.6 228.1)"/>
<ellipse cx="276.3" cy="197.8" rx="12.3" ry="4.7" fill="#c2c2c2" transform="rotate(62.0 276.3 197.8)"/>
<ellipse cx="343.9" cy="137.0" rx="11.2" ry="5.8" fill="#c4c4c4" transform="rotate(69.0 343.9 137.0)"/>
<ellipse cx="397.3" cy="173.5" rx="5.8" ry="4.7" fill="#c1c1c1" transform="rotate(56.4 397.3 173.5)"/>
<ellipse cx="394.4" cy="140.5" rx="10.0" ry="4.6" fill="#c2c2c2" transform="rotate(47.8 394.4 140.5)"/>
<ellipse cx="286.3" cy="206.0" rx="8.9" ry="6.9" fill="#c4c4c4" transform="rotate(44.4 286.3 206.0)"/>
<ellipse cx="251.2" cy="188.0" rx="12.5" ry="5.1" fill="#c0c0c0" transform="rotate(64.1 251.2 188.0)"/>
<ellipse cx="266.5" cy="193.1" rx="9.1" ry="5.6" fill="#c3c3c3" transform="rotate(60.9 266.5 193.1)"/>
<ellipse cx="292.8" cy="210.9" rx="6.0" ry="6.9" fill="#c2c2c2" transform="rotate(63.1 292.8 210.9)"/>
<ellipse cx="328.0" cy="109.2" rx="5.1" ry="4.7" fill="#c1c1c1" transform="rotate(45.0 328.0 109.2)"/>
<ellipse cx="343.8" cy="213.1" rx="6.8" ry="6.0" fill="#c1c1c1" transform="rotate(38.3 343.8 213.1)"/>
<ellipse cx="295.0" cy="229.8" rx="6.0" ry="6.1" fill="#c2c2c2" transform="rotate(35.6 295.0 229.8)"/>
<ellipse cx="355.5" cy="191.1" rx="7.8" ry="5.6" fill="#c1c1c1" transform="rotate(73.2 355.5 191.1)"/>
<ellipse cx="355.3" cy="147.7" rx="11.7" ry="4.4" fill="#c3c3c3" transform="rotate(31.3 355.3 147.7)"/>
<ellipse cx="447.9" cy="143.3" rx="8.4" ry="3.7" fill="#c2c2c2" transform="rotate(37.7 447.9 143.3)"/>
<ellipse cx="242.7" cy="216.9" rx="7.4" ry="4.9" fill="#c1c1c1" transform="rotate(37.2 242.7 216.9)"/>
<ellipse cx="345.7" cy="203.2" rx="12.4" ry="6.4" fill="#c3c3c3" transform="rotate(43.1 345.7 203.2)"/>
<ellipse cx="255.8" cy="234.1" rx="6.1" ry="6.3" fill="#c5c5c5" transform="rotate(64.2 255.8 234.1)"/>
<ellipse cx="395.2" cy="102.4" rx="10.2" ry="4.0" fill="#bfbfbf" transform="rotate(72.6 395.2 102.4)"/>
<ellipse cx="266.6" cy="123.1" rx="7.8" ry="3.6" fill="#c1c1c1" transform="rotate(63.8 266.6 123.1)"/>
<ellipse cx="304.8" cy="328.6" rx="7.5" ry="2.8" fill="#7a7a7a" transform="rotate(60.8 304.8 328.6)"/>
<ellipse cx="418.5" cy="187.3" rx="7.9" ry="1.6" fill="#727272" transform="rotate(46.3 418.5 187.3)"/>
<ellipse cx="361.2" cy="238.2" rx="9.1" ry="2.5" fill="#858585" transform="rotate(44.8 361.2 238.2)"/>
<ellipse cx="251.1" cy="301.2" rx="6.6" ry="3.0" fill="#7e7e7e" transform="rotate(65.4 251.1 301.2)"/>
<ellipse cx="527.4" cy="111.2" rx="6.7" ry="2.8" fill="#7f7f7f" transform="rotate(58.0 527.4 111.2)"/>
<ellipse cx="358.4" cy="256.6" rx="5.7" ry="2.2" fill="#7a7a7a" transform="rotate(61.5 358.4 256.6)"/>
<ellipse cx="337.2" cy="293.5" rx="4.3" ry="2.6" fill="#7d7d7d" transform="rotate(61.8 337.2 293.5)"/>
<ellipse cx="458.6" cy="170.1" rx="10.1" ry="1.7" fill="#7d7d7d" transform="rotate(54.0 458.6 170.1)"/>
<ellipse cx="420.7" cy="185.1" rx="6.5" ry="2.1" fill="#747474" transform="rotate(53.1 420.7 185.1)"/>
<ellipse cx="259.4" cy="287.3" rx="10.5" ry="2.4" fill="#6d6d6d" transform="rotate(45.9 259.4 287.3)"/>
<ellipse cx="447.0" cy="170.1" rx="4.0" ry="2.5" fill="#707070" transform="rotate(43.4 447.0 170.1)"/>
<ellipse cx="270.0" cy="387.0" rx="9.8" ry="1.9" fill="#707070" transform="rotate(43.4 270.0 387.0)"/>
<ellipse cx="475.3" cy="161.8" rx="9.7" ry="2.8" fill="#6e6e6e" transform="rotate(61.6 475.3 161.8)"/>
<ellipse cx="474.1" cy="127.8" rx="7.7" ry="2.9" fill="#7c7c7c" transform="rotate(60.0 474.1 127.8)"/>
<ellipse cx="246.7" cy="314.7" rx="6.5" ry="2.6" fill="#818181" transform="rotate(44.9 246.7 314.7)"/>
<ellipse cx="294.8" cy="384.1" rx="6.9" ry="2.4" fill="#797979" transform="rotate(44.4 294.8 384.1)"/>
<ellipse cx="288.1" cy="363.1" rx="9.0" ry="2.1" fill="#767676" transform="rotate(58.5 288.1 363.1)"/>
<ellipse cx="422.2" cy="196.5" rx="9.6" ry="2.7" fill="#6e6e6e" transform="rotate(66.4 422.2 196.5)"/>
<ellipse cx="347.6" cy="299.9" rx="8.8" ry="2.0" fill="#858585" transform="rotate(63.0 347.6 299.9)"/>
<ellipse cx="255.5" cy="375.0" rx="8.6" ry="1.9" fill="#818181" transform="rotate(63.8 255.5 375.0)"/>
<ellipse cx="305.7" cy="347.6" rx="8.9" ry="2.5" fill="#848484" transform="rotate(48.6 305.7 347.6)"/>
<ellipse cx="269.9" cy="366.2" rx="8.6" ry="2.8" fill="#808080" transform="rotate(48.6 269.9 366.2)"/>
<ellipse cx="299.5" cy="331.4" rx="7.2" ry="2.3" fill="#767676" transform="rotate(56.5 299.5 331.4)"/>
<ellipse cx="275.7" cy="308.8" rx="8.8" ry="2.0" fill="#808080" transform="rotate(46.7 275.7 308.8)"/>
<ellipse cx="252.7" cy="426.8" rx="8.5" ry="1.9" fill="#828282" transform="rotate(54.7 252.7 426.8)"/>
<ellipse cx="531.4" cy="121.2" rx="5.0" ry="2.9" fill="#7c7c7c" transform="rotate(52.5 531.4 121.2)"/>
<ellipse cx="323.8" cy="286.3" rx="9.4" ry="2.1" fill="#7d7d7d" transform="rotate(66.0 323.8 286.3)"/>
<ellipse cx="508.2" cy="115.5" rx="9.2" ry="3.0" fill="#808080" transform="rotate(60.0 508.2 115.5)"/>
<ellipse cx="470.1" cy="164.4" rx="5.8" ry="2.9" fill="#6d6d6d" transform="rotate(65.3 470.1 164.4)"/>
<ellipse cx="272.8" cy="406.5" rx="7.6" ry="2.0" fill="#828282" transform="rotate(58.1 272.8 406.5)"/>
<ellipse cx="288.0" cy="387.3" rx="5.2" ry="1.9" fill="#737373" transform="rotate(52.9 288.0 387.3)"/>
<ellipse cx="295.4" cy="262.0" rx="4.9" ry="3.0" fill="#747474" transform="rotate(64.7 295.4 262.0)"/>
<ellipse cx="260.1" cy="395.4" rx="7.8" ry="1.9" fill="#7d7d7d" transform="rotate(48.1 260.1 395.4)"/>
<ellipse cx="527.0" cy="119.0" rx="11.8" ry="1.5" fill="#7f7f7f" transform="rotate(50.0 527.0 119.0)"/>
<ellipse cx="299.3" cy="354.2" rx="4.6" ry="1.6" fill="#7f7f7f" transform="rotate(47.7 299.3 354.2)"/>
<ellipse cx="471.5" cy="118.3" rx="10.7" ry="2.8" fill="#818181" transform="rotate(51.0 471.5 118.3)"/>
<ellipse cx="301.2" cy="374.4" rx="7.0" ry="2.4" fill="#767676" transform="rotate(46.9 301.2 374.4)"/>
<ellipse cx="243.5" cy="271.5" rx="5.0" ry="2.6" fill="#787878" transform="rotate(55.4 243.5 271.5)"/>
<ellipse cx="261.5" cy="388.0" rx="8.1" ry="2.3" fill="#858585" transform="rotate(54.9 261.5 388.0)"/>
<ellipse cx="464.3" cy="164.4" rx="8.6" ry="2.3" fill="#6d6d6d" transform="rotate(57.4 464.3 164.4)"/>
<ellipse cx="465.4" cy="133.9" rx="4.4" ry="1.7" fill="#838383" transform="rotate(60.2 465.4 133.9)"/>
<ellipse cx="288.8" cy="289.0" rx="10.6" ry="2.9" fill="#7f7f7f" transform="rotate(46.9 288.8 289.0)"/>
<ellipse cx="365.6" cy="238.8" rx="7.2" ry="2.9" fill="#828282" transform="rotate(55.6 365.6 238.8)"/>
<ellipse cx="259.0" cy="270.7" rx="6.0" ry="2.1" fill="#858585" transform="rotate(65.4 259.0 270.7)"/>
<ellipse cx="523.3" cy="111.3" rx="9.4" ry="1.9" fill="#7d7d7d" transform="rotate(49.4 523.3 111.3)"/>
<ellipse cx="439.6" cy="182.7" rx="11.6" ry="1.9" fill="#7a7a7a" transform="rotate(53.4 439.6 182.7)"/>
<ellipse cx="280.3" cy="296.1" rx="6.1" ry="2.2" fill="#858585" transform="rotate(55.3 280.3 296.1)"/>
<ellipse cx="269.9" cy="280.3" rx="8.6" ry="2.5" fill="#828282" transform="rotate(57.6 269.9 280.3)"/>
<ellipse cx="306.0" cy="334.4" rx="8.9" ry="2.2" fill="#787878" transform="rotate(56.2 306.0 334.4)"/>
<ellipse cx="312.5" cy="269.1" rx="4.1" ry="2.0" fill="#767676" transform="rotate(57.1 312.5 269.1)"/>
<ellipse cx="532.9" cy="142.0" rx="10.1" ry="2.4" fill="#838383" transform="rotate(43.1 532.9 142.0)"/>
<ellipse cx="385.8" cy="251.1" rx="7.1" ry="2.3" fill="#7f7f7f" transform="rotate(50.0 385.8 251.1)"/>
<ellipse cx="288.1" cy="289.9" rx="11.4" ry="2.0" fill="#7b7b7b" transform="rotate(45.1 288.1 289.9)"/>
<ellipse cx="454.5" cy="164.9" rx="6.1" ry="2.5" fill="#797979" transform="rotate(56.3 454.5 164.9)"/>
<ellipse cx="483.5" cy="135.2" rx="8.2" ry="2.7" fill="#6f6f6f" transform="rotate(47.1 483.5 135.2)"/>
<ellipse cx="273.6" cy="398.3" rx="7.6" ry="2.1" fill="#7b7b7b" transform="rotate(51.4 273.6 398.3)"/>
<ellipse cx="259.4" cy="393.9" rx="7.5" ry="2.4" fill="#7b7b7b" transform="rotate(66.0 259.4 393.9)"/>
<ellipse cx="470.5" cy="173.1" rx="7.9" ry="2.7" fill="#747474" transform="rotate(64.0 470.5 173.1)"/>
<ellipse cx="411.7" cy="227.2" rx="5.0" ry="2.7" fill="#777777" transform="rotate(44.6 411.7 227.2)"/>
<ellipse cx="291.6" cy="332.9" rx="10.7" ry="1.7" fill="#6f6f6f" transform="rotate(49.5 291.6 332.9)"/>
<ellipse cx="498.0" cy="152.5" rx="7.0" ry="2.9" fill="#757575" transform="rotate(60.3 498.0 152.5)"/>
<ellipse cx="466.7" cy="186.1" rx="6.9" ry="1.9" fill="#838383" transform="rotate(57.1 466.7 186.1)"/>
<ellipse cx="435.4" cy="170.1" rx="8.1" ry="2.3" fill="#838383" transform="rotate(45.9 435.4 170.1)"/>
<ellipse cx="422.5" cy="202.6" rx="5.4" ry="2.8" fill="#767676" transform="rotate(45.1 422.5 202.6)"/>
<ellipse cx="276.6" cy="285.5" rx="6.4" ry="1.6" fill="#767676" transform="rotate(55.0 276.6 285.5)"/>
<ellipse cx="282.1" cy="336.5" rx="11.3" ry="2.7" fill="#747474" transform="rotate(52.7 282.1 336.5)"/>
<ellipse cx="251.4" cy="324.3" rx="7.3" ry="2.5" fill="#7d7d7d" transform="rotate(51.4 251.4 324.3)"/>
<ellipse cx="464.4" cy="182.0" rx="9.0" ry="1.8" fill="#828282" transform="rotate(51.5 464.4 182.0)"/>
<ellipse cx="278.6" cy="401.2" rx="4.3" ry="1.6" fill="#7f7f7f" transform="rotate(60.1 278.6 401.2)"/>
<ellipse cx="469.9" cy="184.1" rx="6.8" ry="1.5" fill="#777777" transform="rotate(59.4 469.9 184.1)"/>
<ellipse cx="277.4" cy="361.2" rx="10.0" ry="1.6" fill="#727272" transform="rotate(64.9 277.4 361.2)"/>
<ellipse cx="259.3" cy="330.4" rx="11.4" ry="1.7" fill="#777777" transform="rotate(55.3 259.3 330.4)"/>
<ellipse cx="484.3" cy="114.4" rx="6.1" ry="2.3" fill="#7e7e7e" transform="rotate(62.3 484.3 114.4)"/>
<ellipse cx="415.0" cy="182.4" rx="7.3" ry="1.8" fill="#6e6e6e" transform="rotate(51.6 415.0 182.4)"/>
<ellipse cx="287.1" cy="285.9" rx="8.4" ry="2.6" fill="#757575" transform="rotate(62.6 287.1 285.9)"/>
<ellipse cx="295.8" cy="320.0" rx="10.1" ry="2.7" fill="#7c7c7c" transform="rotate(54.1 295.8 320.0)"/>
<ellipse cx="304.7" cy="331.5" rx="6.6" ry="2.2" fill="#787878" transform="rotate(45.7 304.7 331.5)"/>
<ellipse cx="268.7" cy="336.7" rx="4.9" ry="2.2" fill="#858585" transform="rotate(56.5 268.7 336.7)"/>
<ellipse cx="449.5" cy="183.0" rx="4.2" ry="2.7" fill="#737373" transform="rotate(46.3 449.5 183.0)"/>
<ellipse cx="301.1" cy="310.6" rx="5.3" ry="2.7" fill="#828282" transform="rotate(65.2 301.1 310.6)"/>
<ellipse cx="359.2" cy="281.9" rx="5.9" ry="1.6" fill="#767676" transform="rotate(63.0 359.2 281.9)"/>
<ellipse cx="460.8" cy="154.0" rx="4.7" ry="1.6" fill="#787878" transform="rotate(66.3 460.8 154.0)"/>
<ellipse cx="332.1" cy="318.3" rx="6.7" ry="2.2" fill="#797979" transform="rotate(53.1 332.1 318.3)"/>
<ellipse cx="529.5" cy="154.3" rx="8.5" ry="2.0" fill="#747474" transform="rotate(53.6 529.5 154.3)"/>
<ellipse cx="344.9" cy="252.0" rx="10.9" ry="3.0" fill="#858585" transform="rotate(64.8 344.9 252.0)"/>
<ellipse cx="499.9" cy="119.8" rx="6.4" ry="2.4" fill="#7e7e7e" transform="rotate(57.6 499.9 119.8)"/>
<ellipse cx="447.9" cy="198.8" rx="4.2" ry="1.8" fill="#757575" transform="rotate(64.2 447.9 198.8)"/>
<ellipse cx="269.1" cy="318.0" rx="7.3" ry="2.3" fill="#767676" transform="rotate(56.9 269.1 318.0)"/>
<ellipse cx="277.7" cy="384.5" rx="8.2" ry="1.9" fill="#737373" transform="rotate(45.3 277.7 384.5)"/>
<ellipse cx="314.0" cy="289.0" rx="8.7" ry="1.6" fill="#6f6f6f" transform="rotate(55.3 314.0 289.0)"/>
<ellipse cx="482.7" cy="137.8" rx="4.8" ry="2.7" fill="#868686" transform="rotate(60.3 482.7 137.8)"/>
<ellipse cx="488.4" cy="145.1" rx="5.9" ry="2.1" fill="#808080" transform="rotate(44.4 488.4 145.1)"/>
<ellipse cx="246.8" cy="296.1" rx="9.7" ry="2.1" fill="#727272" transform="rotate(50.2 246.8 296.1)"/>
<ellipse cx="295.4" cy="346.0" rx="9.4" ry="2.7" fill="#757575" transform="rotate(61.3 295.4 346.0)"/>
<ellipse cx="277.9" cy="405.4" rx="5.5" ry="2.2" fill="#7e7e7e" transform="rotate(49.1 277.9 405.4)"/>
<ellipse cx="277.1" cy="364.2" rx="6.3" ry="2.5" fill="#717171" transform="rotate(56.3 277.1 364.2)"/>
<ellipse cx="543.7" cy="104.6" rx="8.0" ry="2.8" fill="#757575" transform="rotate(46.6 543.7 104.6)"/>
<ellipse cx="496.5" cy="111.7" rx="9.4" ry="2.1" fill="#717171" transform="rotate(62.6 496.5 111.7)"/>
<ellipse cx="243.9" cy="291.1" rx="7.7" ry="3.0" fill="#757575" transform="rotate(43.5 243.9 291.1)"/>
<ellipse cx="455.4" cy="190.0" rx="6.1" ry="2.4" fill="#737373" transform="rotate(55.0 455.4 190.0)"/>
<ellipse cx="395.1" cy="221.2" rx="6.4" ry="1.8" fill="#a8a8a8" transform="rotate(47.0 395.1 221.2)"/>
<ellipse cx="386.1" cy="247.0" rx="5.2" ry="1.6" fill="#ababab" transform="rotate(49.1 386.1 247.0)"/>
<ellipse cx="263.5" cy="259.9" rx="5.8" ry="1.5" fill="#aeaeae" transform="rotate(48.3 263.5 259.9)"/>
<ellipse cx="466.0" cy="172.0" rx="8.2" ry="3.2" fill="#aaaaaa" transform="rotate(46.0 466.0 172.0)"/>
<ellipse cx="448.1" cy="164.9" rx="8.2" ry="1.7" fill="#adadad" transform="rotate(68.9 448.1 164.9)"/>
<ellipse cx="301.8" cy="277.2" rx="10.5" ry="1.9" fill="#aeaeae" transform="rotate(59.2 301.8 277.2)"/>
<ellipse cx="256.5" cy="306.7" rx="8.2" ry="2.0" fill="#a9a9a9" transform="rotate(54.8 256.5 306.7)"/>
<ellipse cx="486.0" cy="129.7" rx="7.8" ry="2.7" fill="#aeaeae" transform="rotate(52.7 486.0 129.7)"/>
<ellipse cx="433.3" cy="209.2" rx="9.0" ry="3.0" fill="#adadad" transform="rotate(47.7 433.3 209.2)"/>
<ellipse cx="482.6" cy="129.7" rx="4.4" ry="2.5" fill="#a6a6a6" transform="rotate(44.0 482.6 129.7)"/>
<ellipse cx="489.4" cy="180.1" rx="8.5" ry="2.2" fill="#afafaf" transform="rotate(55.0 489.4 180.1)"/>
<ellipse cx="276.3" cy="342.0" rx="6.8" ry="3.2" fill="#a6a6a6" transform="rotate(59.4 276.3 342.0)"/>
<ellipse cx="261.1" cy="286.2" rx="10.6" ry="2.8" fill="#aaaaaa" transform="rotate(67.6 261.1 286.2)"/>
<ellipse cx="310.9" cy="287.9" rx="10.1" ry="2.0" fill="#a7a7a7" transform="rotate(65.9 310.9 287.9)"/>
<ellipse cx="293.4" cy="325.3" rx="8.1" ry="3.3" fill="#ababab" transform="rotate(53.6 293.4 325.3)"/>
<ellipse cx="516.5" cy="160.2" rx="6.1" ry="1.5" fill="#aeaeae" transform="rotate(69.8 516.5 160.2)"/>
<ellipse cx="290.0" cy="342.9" rx="8.8" ry="1.7" fill="#a7a7a7" transform="rotate(45.1 290.0 342.9)"/>
<ellipse cx="553.5" cy="110.9" rx="8.8" ry="1.6" fill="#a8a8a8" transform="rotate(63.8 553.5 110.9)"/>
<ellipse cx="248.3" cy="427.0" rx="4.8" ry="2.5" fill="#a9a9a9" transform="rotate(66.4 248.3 427.0)"/>
<ellipse cx="298.9" cy="326.2" rx="7.5" ry="1.7" fill="#a7a7a7" transform="rotate(62.1 298.9 326.2)"/>
<ellipse cx="354.4" cy="263.8" rx="5.5" ry="3.4" fill="#afafaf" transform="rotate(50.5 354.4 263.8)"/>
<ellipse cx="255.7" cy="267.9" rx="6.5" ry="1.5" fill="#aaaaaa" transform="rotate(56.7 255.7 267.9)"/>
<ellipse cx="365.1" cy="227.2" rx="11.0" ry="1.5" fill="#aaaaaa" transform="rotate(44.3 365.1 227.2)"/>
<ellipse cx="323.0" cy="301.6" rx="5.4" ry="1.7" fill="#a9a9a9" transform="rotate(47.2 323.0 301.6)"/>
<ellipse cx="530.9" cy="116.3" rx="8.5" ry="2.6" fill="#acacac" transform="rotate(49.7 530.9 116.3)"/>
<ellipse cx="316.6" cy="307.7" rx="9.0" ry="2.3" fill="#adadad" transform="rotate(51.4 316.6 307.7)"/>
<ellipse cx="313.0" cy="302.1" rx="7.3" ry="2.9" fill="#a8a8a8" transform="rotate(67.3 313.0 302.1)"/>
<ellipse cx="296.8" cy="371.2" rx="9.8" ry="3.3" fill="#aaaaaa" transform="rotate(59.2 296.8 371.2)"/>
<ellipse cx="518.0" cy="114.3" rx="9.7" ry="1.7" fill="#a9a9a9" transform="rotate(65.0 518.0 114.3)"/>
<ellipse cx="483.3" cy="149.5" rx="7.6" ry="2.0" fill="#acacac" transform="rotate(51.0 483.3 149.5)"/>
<ellipse cx="305.9" cy="288.3" rx="9.0" ry="2.0" fill="#a6a6a6" transform="rotate(45.4 305.9 288.3)"/>
<ellipse cx="507.3" cy="130.1" rx="5.4" ry="2.3" fill="#acacac" transform="rotate(65.8 507.3 130.1)"/>
<ellipse cx="382.7" cy="221.2" rx="6.9" ry="2.8" fill="#adadad" transform="rotate(48.9 382.7 221.2)"/>
<ellipse cx="250.1" cy="295.6" rx="9.9" ry="2.3" fill="#aaaaaa" transform="rotate(53.9 250.1 295.6)"/>
<ellipse cx="381.9" cy="262.1" rx="8.7" ry="3.0" fill="#ababab" transform="rotate(64.7 381.9 262.1)"/>
<ellipse cx="266.5" cy="369.8" rx="9.3" ry="2.6" fill="#a7a7a7" transform="rotate(42.6 266.5 369.8)"/>
<ellipse cx="259.5" cy="324.7" rx="4.4" ry="2.9" fill="#adadad" transform="rotate(54.5 259.5 324.7)"/>
<ellipse cx="519.3" cy="148.0" rx="4.0" ry="3.5" fill="#a9a9a9" transform="rotate(55.5 519.3 148.0)"/>
<ellipse cx="404.5" cy="238.7" rx="10.1" ry="3.1" fill="#a6a6a6" transform="rotate(49.1 404.5 238.7)"/>
<ellipse cx="412.7" cy="223.4" rx="8.1" ry="2.2" fill="#aaaaaa" transform="rotate(54.7 412.7 223.4)"/>
<ellipse cx="496.9" cy="166.1" rx="4.4" ry="2.1" fill="#afafaf" transform="rotate(56.7 496.9 166.1)"/>
<ellipse cx="421.6" cy="206.8" rx="6.0" ry="2.9" fill="#a8a8a8" transform="rotate(63.9 421.6 206.8)"/>
<ellipse cx="516.3" cy="123.7" rx="10.5" ry="2.6" fill="#ababab" transform="rotate(45.4 516.3 123.7)"/>
<ellipse cx="508.6" cy="148.1" rx="4.7" ry="1.7" fill="#afafaf" transform="rotate(46.2 508.6 148.1)"/>
<ellipse cx="460.1" cy="151.1" rx="4.3" ry="3.2" fill="#a6a6a6" transform="rotate(60.9 460.1 151.1)"/>
<ellipse cx="427.1" cy="205.2" rx="10.4" ry="2.1" fill="#ababab" transform="rotate(44.6 427.1 205.2)"/>
<ellipse cx="509.5" cy="150.1" rx="6.7" ry="1.6" fill="#adadad" transform="rotate(69.4 509.5 150.1)"/>
<ellipse cx="313.0" cy="280.1" rx="9.1" ry="2.4" fill="#a7a7a7" transform="rotate(53.9 313.0 280.1)"/>
<ellipse cx="457.9" cy="137.7" rx="10.5" ry="3.5" fill="#aeaeae" transform="rotate(43.7 457.9 137.7)"/>
<ellipse cx="537.7" cy="130.7" rx="8.2" ry="2.6" fill="#aaaaaa" transform="rotate(65.9 537.7 130.7)"/>
<ellipse cx="536.0" cy="110.7" rx="6.4" ry="3.4" fill="#ababab" transform="rotate(69.0 536.0 110.7)"/>
<ellipse cx="347.9" cy="248.4" rx="5.3" ry="3.1" fill="#a8a8a8" transform="rotate(62.3 347.9 248.4)"/>
<ellipse cx="252.7" cy="269.4" rx="4.9" ry="2.7" fill="#a7a7a7" transform="rotate(59.4 252.7 269.4)"/>
<ellipse cx="452.9" cy="154.1" rx="6.3" ry="3.2" fill="#a7a7a7" transform="rotate(68.2 452.9 154.1)"/>
<ellipse cx="521.5" cy="138.6" rx="4.8" ry="2.4" fill="#aaaaaa" transform="rotate(56.1 521.5 138.6)"/>
<ellipse cx="294.2" cy="276.7" rx="5.4" ry="2.3" fill="#ababab" transform="rotate(51.0 294.2 276.7)"/>
<ellipse cx="246.8" cy="411.3" rx="8.0" ry="2.9" fill="#aaaaaa" transform="rotate(63.7 246.8 411.3)"/>
<ellipse cx="314.9" cy="347.5" rx="4.2" ry="2.3" fill="#a7a7a7" transform="rotate(47.9 314.9 347.5)"/>
<ellipse cx="525.2" cy="127.8" rx="8.2" ry="3.1" fill="#ababab" transform="rotate(47.0 525.2 127.8)"/>
<ellipse cx="468.0" cy="120.5" rx="10.9" ry="1.6" fill="#a8a8a8" transform="rotate(58.0 468.0 120.5)"/>
<ellipse cx="634.2" cy="167.8" rx="40.3" ry="3.4" fill="#848484" transform="rotate(-27.5 634.2 167.8)"/>
<ellipse cx="703.8" cy="101.1" rx="30.2" ry="2.7" fill="#858585" transform="rotate(-26.4 703.8 101.1)"/>
<ellipse cx="548.3" cy="171.9" rx="28.6" ry="2.8" fill="#828282" transform="rotate(-30.6 548.3 171.9)"/>
<ellipse cx="537.6" cy="121.5" rx="44.9" ry="4.1" fill="#7d7d7d" transform="rotate(-17.4 537.6 121.5)"/>
<ellipse cx="602.3" cy="148.7" rx="38.8" ry="3.8" fill="#838383" transform="rotate(-18.5 602.3 148.7)"/>
<ellipse cx="537.8" cy="161.3" rx="22.3" ry="3.9" fill="#848484" transform="rotate(-20.4 537.8 161.3)"/>
<ellipse cx="572.3" cy="115.9" rx="38.6" ry="2.8" fill="#858585" transform="rotate(-22.2 572.3 115.9)"/>
<ellipse cx="627.8" cy="142.7" rx="41.8" ry="3.1" fill="#848484" transform="rotate(-20.4 627.8 142.7)"/>
<ellipse cx="709.6" cy="111.4" rx="26.3" ry="4.2" fill="#858585" transform="rotate(-20.4 709.6 111.4)"/>
<ellipse cx="545.4" cy="119.4" rx="32.3" ry="4.3" fill="#7f7f7f" transform="rotate(-29.2 545.4 119.4)"/>
<ellipse cx="649.6" cy="169.6" rx="39.8" ry="3.9" fill="#7e7e7e" transform="rotate(-20.5 649.6 169.6)"/>
<ellipse cx="585.4" cy="108.5" rx="28.5" ry="3.7" fill="#818181" transform="rotate(-19.6 585.4 108.5)"/>
<ellipse cx="678.8" cy="141.0" rx="28.4" ry="2.9" fill="#818181" transform="rotate(-25.7 678.8 141.0)"/>
<ellipse cx="573.4" cy="182.8" rx="22.2" ry="3.0" fill="#818181" transform="rotate(-28.3 573.4 182.8)"/>
<ellipse cx="653.3" cy="143.3" rx="23.0" ry="3.9" fill="#828282" transform="rotate(-20.1 653.3 143.3)"/>
<ellipse cx="534.3" cy="126.6" rx="25.6" ry="4.3" fill="#858585" transform="rotate(-27.2 534.3 126.6)"/>
<ellipse cx="632.4" cy="187.6" rx="43.9" ry="3.5" fill="#7e7e7e" transform="rotate(-25.0 632.4 187.6)"/>
<ellipse cx="683.0" cy="115.9" rx="24.4" ry="4.4" fill="#808080" transform="rotate(-33.0 683.0 115.9)"/>
<ellipse cx="596.6" cy="179.3" rx="22.5" ry="3.6" fill="#7c7c7c" transform="rotate(-27.4 596.6 179.3)"/>
<ellipse cx="690.3" cy="150.4" rx="42.3" ry="3.8" fill="#7e7e7e" transform="rotate(-18.1 690.3 150.4)"/>
<ellipse cx="594.1" cy="193.9" rx="35.8" ry="3.3" fill="#7e7e7e" transform="rotate(-22.4 594.1 193.9)"/>
<ellipse cx="612.1" cy="166.3" rx="29.1" ry="4.5" fill="#858585" transform="rotate(-25.0 612.1 166.3)"/>
<ellipse cx="649.2" cy="154.6" rx="42.3" ry="4.0" fill="#7f7f7f" transform="rotate(-21.0 649.2 154.6)"/>
<ellipse cx="664.5" cy="103.4" rx="43.8" ry="4.3" fill="#7d7d7d" transform="rotate(-30.8 664.5 103.4)"/>
<ellipse cx="624.7" cy="104.6" rx="36.0" ry="3.1" fill="#7e7e7e" transform="rotate(-21.0 624.7 104.6)"/>
<ellipse cx="667.4" cy="128.5" rx="44.5" ry="3.8" fill="#808080" transform="rotate(-26.3 667.4 128.5)"/>
<ellipse cx="655.2" cy="167.7" rx="34.4" ry="4.2" fill="#7d7d7d" transform="rotate(-30.4 655.2 167.7)"/>
<ellipse cx="674.5" cy="134.0" rx="41.9" ry="2.8" fill="#7b7b7b" transform="rotate(-24.7 674.5 134.0)"/>
<ellipse cx="661.8" cy="116.7" rx="27.4" ry="3.3" fill="#7d7d7d" transform="rotate(-32.1 661.8 116.7)"/>
<ellipse cx="535.0" cy="130.3" rx="28.0" ry="3.4" fill="#858585" transform="rotate(-29.8 535.0 130.3)"/>
<ellipse cx="516.9" cy="125.5" rx="44.1" ry="3.0" fill="#9f9f9f" transform="rotate(-26.8 516.9 125.5)"/>
<ellipse cx="595.6" cy="182.0" rx="27.9" ry="2.8" fill="#a0a0a0" transform="rotate(-20.5 595.6 182.0)"/>
<ellipse cx="666.1" cy="146.1" rx="38.8" ry="3.1" fill="#a0a0a0" transform="rotate(-22.3 666.1 146.1)"/>
<ellipse cx="575.4" cy="189.9" rx="35.8" ry="3.0" fill="#a0a0a0" transform="rotate(-28.4 575.4 189.9)"/>
<ellipse cx="669.4" cy="104.1" rx="28.8" ry="4.4" fill="#a1a1a1" transform="rotate(-23.9 669.4 104.1)"/>
<ellipse cx="553.1" cy="123.9" rx="38.8" ry="3.9" fill="#9d9d9d" transform="rotate(-24.2 553.1 123.9)"/>
<ellipse cx="586.9" cy="179.2" rx="36.1" ry="4.4" fill="#9d9d9d" transform="rotate(-28.1 586.9 179.2)"/>
<ellipse cx="637.8" cy="167.8" rx="43.5" ry="4.0" fill="#a1a1a1" transform="rotate(-26.7 637.8 167.8)"/>
<ellipse cx="570.6" cy="138.5" rx="24.6" ry="4.2" fill="#a1a1a1" transform="rotate(-27.4 570.6 138.5)"/>
<ellipse cx="614.3" cy="151.1" rx="23.3" ry="3.2" fill="#a0a0a0" transform="rotate(-18.6 614.3 151.1)"/>
<ellipse cx="607.5" cy="183.5" rx="30.1" ry="3.6" fill="#a0a0a0" transform="rotate(-23.8 607.5 183.5)"/>
<ellipse cx="555.0" cy="182.8" rx="23.8" ry="3.8" fill="#a1a1a1" transform="rotate(-19.6 555.0 182.8)"/>
<ellipse cx="665.4" cy="149.1" rx="38.6" ry="4.1" fill="#a2a2a2" transform="rotate(-18.6 665.4 149.1)"/>
<ellipse cx="653.9" cy="160.0" rx="35.1" ry="4.1" fill="#9e9e9e" transform="rotate(-31.9 653.9 160.0)"/>
<ellipse cx="554.8" cy="120.9" rx="36.9" ry="4.4" fill="#9e9e9e" transform="rotate(-31.5 554.8 120.9)"/>
<ellipse cx="676.5" cy="135.3" rx="41.0" ry="3.2" fill="#a1a1a1" transform="rotate(-31.8 676.5 135.3)"/>
<ellipse cx="523.9" cy="127.0" rx="33.9" ry="4.1" fill="#9d9d9d" transform="rotate(-25.9 523.9 127.0)"/>
<ellipse cx="517.4" cy="122.0" rx="28.3" ry="3.6" fill="#a0a0a0" transform="rotate(-27.6 517.4 122.0)"/>
<ellipse cx="678.0" cy="152.6" rx="20.7" ry="3.5" fill="#9c9c9c" transform="rotate(-20.6 678.0 152.6)"/>
<ellipse cx="589.5" cy="106.2" rx="34.6" ry="3.3" fill="#a0a0a0" transform="rotate(-21.4 589.5 106.2)"/>
<ellipse cx="559.8" cy="669.4" rx="19.9" ry="4.5" fill="#898989" transform="rotate(-0.3 559.8 669.4)"/>
<ellipse cx="814.1" cy="656.5" rx="13.2" ry="2.8" fill="#969696" transform="rotate(-32.1 814.1 656.5)"/>
<ellipse cx="526.9" cy="674.1" rx="11.4" ry="3.0" fill="#919191" transform="rotate(-16.8 526.9 674.1)"/>
<ellipse cx="498.0" cy="654.1" rx="13.7" ry="3.6" fill="#898989" transform="rotate(-5.6 498.0 654.1)"/>
<ellipse cx="381.9" cy="675.2" rx="14.3" ry="4.3" fill="#898989" transform="rotate(-24.4 381.9 675.2)"/>
<ellipse cx="820.7" cy="677.4" rx="16.4" ry="4.3" fill="#959595" transform="rotate(1.8 820.7 677.4)"/>
<ellipse cx="305.5" cy="650.3" rx="16.4" ry="4.1" fill="#868686" transform="rotate(-0.5 305.5 650.3)"/>
<ellipse cx="419.3" cy="657.8" rx="19.9" ry="3.3" fill="#888888" transform="rotate(-9.7 419.3 657.8)"/>
<ellipse cx="295.0" cy="648.8" rx="17.5" ry="3.6" fill="#8c8c8c" transform="rotate(1.0 295.0 648.8)"/>
<ellipse cx="327.8" cy="645.3" rx="13.1" ry="5.0" fill="#888888" transform="rotate(-3.9 327.8 645.3)"/>
<ellipse cx="786.0" cy="679.7" rx="8.7" ry="2.8" fill="#8d8d8d" transform="rotate(-2.1 786.0 679.7)"/>
<ellipse cx="588.9" cy="665.4" rx="7.3" ry="4.8" fill="#898989" transform="rotate(-24.9 588.9 665.4)"/>
<ellipse cx="672.0" cy="687.3" rx="16.5" ry="3.5" fill="#969696" transform="rotate(-17.5 672.0 687.3)"/>
<ellipse cx="729.5" cy="682.1" rx="9.8" ry="4.0" fill="#888888" transform="rotate(-34.5 729.5 682.1)"/>
<ellipse cx="484.5" cy="640.5" rx="13.0" ry="2.6" fill="#939393" transform="rotate(-3.6 484.5 640.5)"/>
<ellipse cx="773.2" cy="666.7" rx="15.1" ry="4.7" fill="#878787" transform="rotate(-22.1 773.2 666.7)"/>
<ellipse cx="544.2" cy="672.0" rx="18.8" ry="3.5" fill="#898989" transform="rotate(-25.3 544.2 672.0)"/>
<ellipse cx="328.9" cy="669.6" rx="12.9" ry="4.0" fill="#888888" transform="rotate(-27.0 328.9 669.6)"/>
<ellipse cx="630.2" cy="675.3" rx="16.4" ry="2.6" fill="#8d8d8d" transform="rotate(-32.3 630.2 675.3)"/>
<ellipse cx="536.4" cy="660.0" rx="10.1" ry="4.1" fill="#919191" transform="rotate(-6.5 536.4 660.0)"/>
<ellipse cx="661.7" cy="663.6" rx="14.8" ry="2.7" fill="#888888" transform="rotate(1.4 661.7 663.6)"/>
<ellipse cx="405.0" cy="689.3" rx="17.2" ry="4.6" fill="#8a8a8a" transform="rotate(-19.3 405.0 689.3)"/>
<ellipse cx="628.8" cy="677.1" rx="19.7" ry="4.5" fill="#868686" transform="rotate(-31.2 628.8 677.1)"/>
<ellipse cx="291.5" cy="642.4" rx="9.9" ry="4.2" fill="#8a8a8a" transform="rotate(2.2 291.5 642.4)"/>
<ellipse cx="796.6" cy="671.9" rx="9.0" ry="2.5" fill="#959595" transform="rotate(-24.5 796.6 671.9)"/>
<ellipse cx="698.5" cy="645.2" rx="9.4" ry="4.5" fill="#959595" transform="rotate(-6.6 698.5 645.2)"/>
<ellipse cx="362.2" cy="665.6" rx="18.6" ry="4.8" fill="#888888" transform="rotate(-3.5 362.2 665.6)"/>
<ellipse cx="271.3" cy="682.6" rx="13.5" ry="4.0" fill="#8f8f8f" transform="rotate(-2.1 271.3 682.6)"/>
<ellipse cx="606.5" cy="680.0" rx="14.1" ry="3.2" fill="#878787" transform="rotate(-32.8 606.5 680.0)"/>
<ellipse cx="494.7" cy="640.4" rx="17.8" ry="4.5" fill="#929292" transform="rotate(-34.0 494.7 640.4)"/>
<ellipse cx="529.2" cy="646.1" rx="12.6" ry="2.8" fill="#909090" transform="rotate(-26.7 529.2 646.1)"/>
<ellipse cx="822.7" cy="667.3" rx="16.5" ry="4.6" fill="#8b8b8b" transform="rotate(-31.2 822.7 667.3)"/>
<ellipse cx="750.2" cy="645.1" rx="16.9" ry="2.9" fill="#8c8c8c" transform="rotate(-22.9 750.2 645.1)"/>
<ellipse cx="613.2" cy="688.9" rx="8.0" ry="2.8" fill="#929292" transform="rotate(-34.7 613.2 688.9)"/>
<ellipse cx="661.9" cy="669.9" rx="12.3" ry="4.0" fill="#8e8e8e" transform="rotate(-16.8 661.9 669.9)"/>
<ellipse cx="637.1" cy="685.8" rx="18.9" ry="4.6" fill="#929292" transform="rotate(-3.1 637.1 685.8)"/>
<ellipse cx="675.6" cy="641.5" rx="12.6" ry="4.7" fill="#919191" transform="rotate(-1.0 675.6 641.5)"/>
<ellipse cx="371.8" cy="687.1" rx="10.3" ry="3.3" fill="#8d8d8d" transform="rotate(-6.7 371.8 687.1)"/>
<ellipse cx="467.2" cy="656.2" rx="19.8" ry="4.1" fill="#878787" transform="rotate(-17.3 467.2 656.2)"/>
<ellipse cx="797.6" cy="678.1" rx="16.8" ry="3.2" fill="#939393" transform="rotate(4.8 797.6 678.1)"/>
<ellipse cx="411.4" cy="660.6" rx="18.5" ry="5.8" fill="#acacac" transform="rotate(-20.8 411.4 660.6)"/>
<ellipse cx="456.0" cy="678.5" rx="17.3" ry="4.6" fill="#b1b1b1" transform="rotate(5.6 456.0 678.5)"/>
<ellipse cx="329.3" cy="681.3" rx="11.8" ry="4.6" fill="#aeaeae" transform="rotate(-4.9 329.3 681.3)"/>
<ellipse cx="816.6" cy="648.1" rx="14.0" ry="5.8" fill="#b0b0b0" transform="rotate(-4.0 816.6 648.1)"/>
<ellipse cx="500.6" cy="685.7" rx="8.2" ry="3.6" fill="#b1b1b1" transform="rotate(8.7 500.6 685.7)"/>
<ellipse cx="432.7" cy="685.3" rx="16.3" ry="6.0" fill="#acacac" transform="rotate(-19.6 432.7 685.3)"/>
<ellipse cx="369.8" cy="661.9" rx="16.7" ry="5.3" fill="#b1b1b1" transform="rotate(-2.4 369.8 661.9)"/>
<ellipse cx="410.6" cy="652.9" rx="9.7" ry="3.8" fill="#acacac" transform="rotate(-2.4 410.6 652.9)"/>
<ellipse cx="815.8" cy="672.2" rx="14.8" ry="5.1" fill="#b0b0b0" transform="rotate(-3.8 815.8 672.2)"/>
<ellipse cx="442.0" cy="643.2" rx="11.7" ry="3.4" fill="#adadad" transform="rotate(-29.4 442.0 643.2)"/>
<ellipse cx="333.9" cy="664.7" rx="10.6" ry="5.3" fill="#b2b2b2" transform="rotate(-2.5 333.9 664.7)"/>
<ellipse cx="370.7" cy="645.0" rx="16.0" ry="4.3" fill="#aeaeae" transform="rotate(-13.6 370.7 645.0)"/>
<ellipse cx="682.2" cy="644.7" rx="17.8" ry="3.1" fill="#b2b2b2" transform="rotate(-16.3 682.2 644.7)"/>
<ellipse cx="739.1" cy="651.3" rx="15.7" ry="3.8" fill="#b2b2b2" transform="rotate(2.1 739.1 651.3)"/>
<ellipse cx="275.5" cy="649.5" rx="15.6" ry="4.8" fill="#b2b2b2" transform="rotate(-23.7 275.5 649.5)"/>
<ellipse cx="644.3" cy="649.0" rx="19.8" ry="4.1" fill="#adadad" transform="rotate(-26.1 644.3 649.0)"/>
<ellipse cx="639.2" cy="668.5" rx="7.2" ry="5.6" fill="#aeaeae" transform="rotate(-27.4 639.2 668.5)"/>
<ellipse cx="343.6" cy="688.2" rx="8.8" ry="5.4" fill="#aeaeae" transform="rotate(-1.1 343.6 688.2)"/>
<ellipse cx="412.4" cy="658.3" rx="10.2" ry="5.4" fill="#afafaf" transform="rotate(-25.5 412.4 658.3)"/>
<ellipse cx="431.5" cy="659.0" rx="9.5" ry="3.7" fill="#b1b1b1" transform="rotate(-21.0 431.5 659.0)"/>
<ellipse cx="487.4" cy="658.3" rx="18.3" ry="3.2" fill="#b0b0b0" transform="rotate(-11.1 487.4 658.3)"/>
<ellipse cx="645.6" cy="681.8" rx="12.7" ry="3.3" fill="#aeaeae" transform="rotate(-28.8 645.6 681.8)"/>
<ellipse cx="530.3" cy="675.6" rx="13.2" ry="3.5" fill="#adadad" transform="rotate(-25.3 530.3 675.6)"/>
<ellipse cx="400.6" cy="662.0" rx="11.7" ry="4.4" fill="#adadad" transform="rotate(-27.3 400.6 662.0)"/>
<ellipse cx="800.1" cy="667.7" rx="16.7" ry="4.7" fill="#adadad" transform="rotate(-21.1 800.1 667.7)"/>
<ellipse cx="762.5" cy="688.1" rx="19.3" ry="4.6" fill="#b2b2b2" transform="rotate(-25.6 762.5 688.1)"/>
<ellipse cx="405.7" cy="648.5" rx="8.1" ry="3.8" fill="#b2b2b2" transform="rotate(-21.5 405.7 648.5)"/>
<ellipse cx="793.0" cy="663.0" rx="12.9" ry="4.0" fill="#b1b1b1" transform="rotate(-27.0 793.0 663.0)"/>
<ellipse cx="386.2" cy="673.1" rx="19.8" ry="4.4" fill="#aeaeae" transform="rotate(-25.2 386.2 673.1)"/>
<ellipse cx="371.9" cy="640.5" rx="7.3" ry="4.4" fill="#b0b0b0" transform="rotate(-9.4 371.9 640.5)"/>
<ellipse cx="349.4" cy="483.6" rx="13.0" ry="3.0" fill="#757575" transform="rotate(62.0 349.4 483.6)"/>
<ellipse cx="373.6" cy="517.2" rx="16.0" ry="2.3" fill="#8a8a8a" transform="rotate(59.4 373.6 517.2)"/>
<ellipse cx="288.8" cy="493.7" rx="9.2" ry="2.1" fill="#8c8c8c" transform="rotate(53.6 288.8 493.7)"/>
<ellipse cx="313.8" cy="418.2" rx="12.8" ry="3.4" fill="#737373" transform="rotate(67.0 313.8 418.2)"/>
<ellipse cx="309.4" cy="507.1" rx="9.3" ry="2.7" fill="#6d6d6d" transform="rotate(71.0 309.4 507.1)"/>
<ellipse cx="322.4" cy="551.5" rx="13.2" ry="2.3" fill="#7e7e7e" transform="rotate(71.8 322.4 551.5)"/>
<ellipse cx="360.4" cy="428.3" rx="9.3" ry="3.4" fill="#8f8f8f" transform="rotate(61.1 360.4 428.3)"/>
<ellipse cx="300.0" cy="462.2" rx="7.2" ry="2.6" fill="#787878" transform="rotate(65.4 300.0 462.2)"/>
<ellipse cx="262.0" cy="495.2" rx="12.6" ry="3.1" fill="#757575" transform="rotate(61.1 262.0 495.2)"/>
<ellipse cx="278.2" cy="434.7" rx="8.5" ry="2.2" fill="#717171" transform="rotate(71.2 278.2 434.7)"/>
<ellipse cx="323.6" cy="490.9" rx="9.3" ry="2.3" fill="#8b8b8b" transform="rotate(53.1 323.6 490.9)"/>
<ellipse cx="331.1" cy="469.6" rx="13.6" ry="3.3" fill="#7b7b7b" transform="rotate(69.8 331.1 469.6)"/>
<ellipse cx="374.9" cy="439.4" rx="7.5" ry="3.4" fill="#8d8d8d" transform="rotate(60.2 374.9 439.4)"/>
<ellipse cx="274.3" cy="397.9" rx="16.7" ry="3.3" fill="#777777" transform="rotate(57.8 274.3 397.9)"/>
<ellipse cx="311.6" cy="482.3" rx="13.5" ry="2.8" fill="#8a8a8a" transform="rotate(68.1 311.6 482.3)"/>
<ellipse cx="275.8" cy="435.2" rx="15.0" ry="3.3" fill="#838383" transform="rotate(63.7 275.8 435.2)"/>
<ellipse cx="375.6" cy="426.8" rx="12.7" ry="2.3" fill="#6f6f6f" transform="rotate(70.0 375.6 426.8)"/>
<ellipse cx="343.7" cy="437.2" rx="12.2" ry="3.0" fill="#757575" transform="rotate(59.3 343.7 437.2)"/>
<ellipse cx="335.7" cy="472.8" rx="7.1" ry="2.7" fill="#848484" transform="rotate(68.0 335.7 472.8)"/>
<ellipse cx="342.0" cy="512.0" rx="16.6" ry="3.2" fill="#838383" transform="rotate(55.6 342.0 512.0)"/>
<ellipse cx="289.5" cy="466.1" rx="11.1" ry="3.4" fill="#8e8e8e" transform="rotate(56.1 289.5 466.1)"/>
<ellipse cx="368.2" cy="433.4" rx="13.6" ry="3.2" fill="#868686" transform="rotate(59.2 368.2 433.4)"/>
<ellipse cx="277.1" cy="431.7" rx="7.4" ry="2.2" fill="#747474" transform="rotate(57.3 277.1 431.7)"/>
<ellipse cx="309.9" cy="464.4" rx="16.4" ry="2.9" fill="#6f6f6f" transform="rotate(63.6 309.9 464.4)"/>
<ellipse cx="304.0" cy="511.2" rx="11.8" ry="2.0" fill="#7c7c7c" transform="rotate(55.5 304.0 511.2)"/>
<ellipse cx="341.8" cy="421.6" rx="14.7" ry="3.3" fill="#797979" transform="rotate(71.2 341.8 421.6)"/>
<ellipse cx="337.8" cy="499.7" rx="9.0" ry="3.1" fill="#858585" transform="rotate(71.3 337.8 499.7)"/>
<ellipse cx="297.5" cy="437.2" rx="15.5" ry="3.3" fill="#898989" transform="rotate(64.0 297.5 437.2)"/>
<ellipse cx="331.5" cy="427.7" rx="14.3" ry="2.4" fill="#6d6d6d" transform="rotate(62.7 331.5 427.7)"/>
<ellipse cx="270.3" cy="395.8" rx="7.0" ry="2.3" fill="#727272" transform="rotate(65.9 270.3 395.8)"/>
<ellipse cx="293.3" cy="512.3" rx="8.1" ry="3.4" fill="#8f8f8f" transform="rotate(52.4 293.3 512.3)"/>
<ellipse cx="376.5" cy="419.5" rx="10.2" ry="2.6" fill="#787878" transform="rotate(62.4 376.5 419.5)"/>
<ellipse cx="318.5" cy="437.7" rx="8.6" ry="2.1" fill="#6e6e6e" transform="rotate(53.7 318.5 437.7)"/>
<ellipse cx="335.6" cy="509.9" rx="14.3" ry="2.5" fill="#767676" transform="rotate(67.8 335.6 509.9)"/>
<ellipse cx="320.0" cy="426.1" rx="7.5" ry="2.2" fill="#8d8d8d" transform="rotate(63.2 320.0 426.1)"/>
<ellipse cx="343.7" cy="458.6" rx="15.0" ry="3.2" fill="#868686" transform="rotate(56.6 343.7 458.6)"/>
<ellipse cx="273.1" cy="491.7" rx="15.0" ry="3.2" fill="#737373" transform="rotate(66.2 273.1 491.7)"/>
<ellipse cx="289.3" cy="410.4" rx="8.4" ry="2.3" fill="#848484" transform="rotate(63.3 289.3 410.4)"/>
<ellipse cx="330.7" cy="412.8" rx="9.6" ry="2.6" fill="#838383" transform="rotate(56.8 330.7 412.8)"/>
<ellipse cx="324.9" cy="514.5" rx="9.2" ry="2.4" fill="#6d6d6d" transform="rotate(66.5 324.9 514.5)"/>
<path d="M349.9 576.3A182 182 0 0 1 309.7 502.6" fill="none" stroke="#8e8e8e" stroke-width="5.9" stroke-linecap="round"/>
<path d="M342.2 482.2A146 146 0 0 1 341.1 433.5" fill="none" stroke="#939393" stroke-width="6.5" stroke-linecap="round"/>
<path d="M531.0 605.2A157 157 0 0 1 499.7 611.3" fill="none" stroke="#919191" stroke-width="7.2" stroke-linecap="round"/>
<path d="M614.3 636.9A223 223 0 0 1 516.0 675.7" fill="none" stroke="#909090" stroke-width="6.6" stroke-linecap="round"/>
<path d="M503.4 582.7A129 129 0 0 1 459.5 581.3" fill="none" stroke="#898989" stroke-width="4.2" stroke-linecap="round"/>
<path d="M463.4 583.5A131 131 0 0 1 423.9 570.0" fill="none" stroke="#939393" stroke-width="5.8" stroke-linecap="round"/>
<path d="M312.7 533.7A190 190 0 0 1 296.3 473.2" fill="none" stroke="#8d8d8d" stroke-width="6.6" stroke-linecap="round"/>
<path d="M437.9 674.2A225 225 0 0 1 340.6 626.3" fill="none" stroke="#919191" stroke-width="7.4" stroke-linecap="round"/>
<path d="M419.4 589.5A150 150 0 0 1 386.3 567.4" fill="none" stroke="#929292" stroke-width="4.3" stroke-linecap="round"/>
<path d="M343.8 609.7A210 210 0 0 1 304.7 561.6" fill="none" stroke="#939393" stroke-width="7.8" stroke-linecap="round"/>
<path d="M586.8 562.8A148 148 0 0 1 528.1 596.6" fill="none" stroke="#959595" stroke-width="5.9" stroke-linecap="round"/>
<path d="M399.4 558.6A135 135 0 0 1 367.4 520.1" fill="none" stroke="#8a8a8a" stroke-width="7.1" stroke-linecap="round"/>
<path d="M555.9 598.5A160 160 0 0 1 481.9 614.7" fill="none" stroke="#888888" stroke-width="7.0" stroke-linecap="round"/>
<path d="M451.6 588.1A138 138 0 0 1 426.6 579.1" fill="none" stroke="#898989" stroke-width="7.2" stroke-linecap="round"/>
<path d="M319.0 495.2A171 171 0 0 1 314.1 455.4" fill="none" stroke="#888888" stroke-width="6.9" stroke-linecap="round"/>
<path d="M346.2 451.5A139 139 0 0 1 353.6 409.6" fill="none" stroke="#8a8a8a" stroke-width="4.9" stroke-linecap="round"/>
<path d="M396.7 649.0A214 214 0 0 1 352.9 622.2" fill="none" stroke="#939393" stroke-width="5.6" stroke-linecap="round"/>
<path d="M348.1 464.7A138 138 0 0 1 359.2 399.5" fill="none" stroke="#8a8a8a" stroke-width="4.9" stroke-linecap="round"/>
<path d="M344.9 378.4A160 160 0 0 1 370.0 343.9" fill="none" stroke="#878787" stroke-width="4.3" stroke-linecap="round"/>
<path d="M337.6 487.8A152 152 0 0 1 335.4 433.1" fill="none" stroke="#8d8d8d" stroke-width="5.5" stroke-linecap="round"/>
<path d="M277.1 493.4A212 212 0 0 1 273.7 444.5" fill="none" stroke="#949494" stroke-width="4.6" stroke-linecap="round"/>
<path d="M366.4 359.8A152 152 0 0 1 391.6 334.7" fill="none" stroke="#959595" stroke-width="7.0" stroke-linecap="round"/>
<path d="M497.9 674.3A220 220 0 0 1 400.7 657.7" fill="none" stroke="#8d8d8d" stroke-width="6.4" stroke-linecap="round"/>
<path d="M536.3 576.1A132 132 0 0 1 474.8 585.8" fill="none" stroke="#919191" stroke-width="5.0" stroke-linecap="round"/>
<path d="M443.9 658.2A208 208 0 0 1 374.5 630.3" fill="none" stroke="#898989" stroke-width="5.2" stroke-linecap="round"/>
<path d="M357.8 411.9A135 135 0 0 1 372.0 382.0" fill="none" stroke="#939393" stroke-width="6.2" stroke-linecap="round"/>
<path d="M332.3 479.2A155 155 0 0 1 337.4 408.2" fill="none" stroke="#868686" stroke-width="4.8" stroke-linecap="round"/>
<path d="M430.2 616.6A171 171 0 0 1 400.1 602.9" fill="none" stroke="#8c8c8c" stroke-width="4.7" stroke-linecap="round"/>
<path d="M348.2 485.4A141 141 0 0 1 345.1 445.1" fill="none" stroke="#969696" stroke-width="7.6" stroke-linecap="round"/>
<path d="M290.6 446.2A195 195 0 0 1 305.9 378.4" fill="none" stroke="#868686" stroke-width="4.6" stroke-linecap="round"/>
<path d="M617.7 625.6A216 216 0 0 1 541.8 663.3" fill="none" stroke="#868686" stroke-width="7.9" stroke-linecap="round"/>
<path d="M311.0 463.8A175 175 0 0 1 321.4 394.5" fill="none" stroke="#969696" stroke-width="5.3" stroke-linecap="round"/>
<path d="M566.1 616.6A181 181 0 0 1 495.5 635.2" fill="none" stroke="#929292" stroke-width="7.6" stroke-linecap="round"/>
<path d="M283.0 422.8A205 205 0 0 1 318.4 335.8" fill="none" stroke="#919191" stroke-width="5.4" stroke-linecap="round"/>
<path d="M330.0 566.7A192 192 0 0 1 298.3 495.9" fill="none" stroke="#565656" stroke-width="4.6" stroke-linecap="round"/>
<path d="M402.2 584.7A155 155 0 0 1 353.3 534.6" fill="none" stroke="#636363" stroke-width="6.8" stroke-linecap="round"/>
<path d="M298.8 500.0A192 192 0 0 1 293.4 457.2" fill="none" stroke="#5a5a5a" stroke-width="5.8" stroke-linecap="round"/>
<path d="M399.2 352.3A134 134 0 0 1 453.6 324.7" fill="none" stroke="#656565" stroke-width="4.3" stroke-linecap="round"/>
<path d="M415.7 606.5A167 167 0 0 1 354.6 558.6" fill="none" stroke="#575757" stroke-width="4.1" stroke-linecap="round"/>
<path d="M583.9 655.5A224 224 0 0 1 474.4 678.0" fill="none" stroke="#606060" stroke-width="4.5" stroke-linecap="round"/>
<path d="M523.6 608.2A158 158 0 0 1 462.1 611.1" fill="none" stroke="#666666" stroke-width="4.7" stroke-linecap="round"/>
<path d="M563.8 576.1A145 145 0 0 1 501.8 598.2" fill="none" stroke="#5f5f5f" stroke-width="5.6" stroke-linecap="round"/>
<path d="M313.1 480.1A174 174 0 0 1 313.5 426.5" fill="none" stroke="#666666" stroke-width="4.1" stroke-linecap="round"/>
<path d="M323.7 439.2A163 163 0 0 1 335.5 391.8" fill="none" stroke="#656565" stroke-width="6.8" stroke-linecap="round"/>
<path d="M526.2 599.7A151 151 0 0 1 481.2 605.2" fill="none" stroke="#686868" stroke-width="6.0" stroke-linecap="round"/>
<path d="M374.9 524.2A131 131 0 0 1 355.4 467.6" fill="none" stroke="#626262" stroke-width="5.7" stroke-linecap="round"/>
<path d="M467.8 623.0A169 169 0 0 1 417.2 609.6" fill="none" stroke="#585858" stroke-width="7.1" stroke-linecap="round"/>
<path d="M349.8 506.2A145 145 0 0 1 340.4 446.8" fill="none" stroke="#5c5c5c" stroke-width="4.1" stroke-linecap="round"/>
<path d="M379.4 611.8A190 190 0 0 1 351.2 588.6" fill="none" stroke="#5b5b5b" stroke-width="5.8" stroke-linecap="round"/>
<path d="M448.2 624.7A174 174 0 0 1 370.0 584.9" fill="none" stroke="#6b6b6b" stroke-width="5.9" stroke-linecap="round"/>
<path d="M503.7 671.4A218 218 0 0 1 438.4 667.0" fill="none" stroke="#676767" stroke-width="4.8" stroke-linecap="round"/>
<path d="M414.6 347.2A129 129 0 0 1 445.6 332.2" fill="none" stroke="#5e5e5e" stroke-width="7.1" stroke-linecap="round"/>
<path d="M455.6 579.8A129 129 0 0 1 432.7 572.0" fill="none" stroke="#6c6c6c" stroke-width="6.5" stroke-linecap="round"/>
<path d="M583.7 579.9A159 159 0 0 1 519.4 610.1" fill="none" stroke="#646464" stroke-width="7.3" stroke-linecap="round"/>
<path d="M464.9 632.5A179 179 0 0 1 406.6 615.3" fill="none" stroke="#5c5c5c" stroke-width="6.5" stroke-linecap="round"/>
<path d="M515.3 607.9A156 156 0 0 1 441.2 604.3" fill="none" stroke="#6b6b6b" stroke-width="5.1" stroke-linecap="round"/>
<path d="M312.8 546.2A196 196 0 0 1 290.4 467.8" fill="none" stroke="#5c5c5c" stroke-width="4.9" stroke-linecap="round"/>
<path d="M453.2 646.1A194 194 0 0 1 378.4 616.6" fill="none" stroke="#6a6a6a" stroke-width="4.5" stroke-linecap="round"/>
<path d="M377.4 560.5A151 151 0 0 1 349.1 520.3" fill="none" stroke="#636363" stroke-width="7.9" stroke-linecap="round"/>
<path d="M270.6 486.3A217 217 0 0 1 282.4 377.3" fill="none" stroke="#5f5f5f" stroke-width="7.0" stroke-linecap="round"/>
<path d="M409.3 571.9A140 140 0 0 1 367.7 530.1" fill="none" stroke="#636363" stroke-width="5.5" stroke-linecap="round"/>
<path d="M419.2 557.7A123 123 0 0 1 393.2 535.4" fill="none" stroke="#626262" stroke-width="5.2" stroke-linecap="round"/>
<path d="M363.1 479.0A125 125 0 0 1 361.3 441.4" fill="none" stroke="#707070" stroke-width="4.3" stroke-linecap="round"/>
<path d="M367.1 452.8A118 118 0 0 1 372.7 418.3" fill="none" stroke="#707070" stroke-width="3.4" stroke-linecap="round"/>
<path d="M357.5 389.1A144 144 0 0 1 400.9 338.2" fill="none" stroke="#727272" stroke-width="5.2" stroke-linecap="round"/>
<path d="M370.5 402.4A126 126 0 0 1 407.2 355.5" fill="none" stroke="#6e6e6e" stroke-width="4.5" stroke-linecap="round"/>
<path d="M354.7 470.2A132 132 0 0 1 356.5 427.7" fill="none" stroke="#666666" stroke-width="4.3" stroke-linecap="round"/>
<path d="M460.4 596.5A144 144 0 0 1 400.0 570.6" fill="none" stroke="#6d6d6d" stroke-width="6.0" stroke-linecap="round"/>
<path d="M344.4 470.1A142 142 0 0 1 345.0 434.5" fill="none" stroke="#686868" stroke-width="5.0" stroke-linecap="round"/>
<path d="M439.5 570.2A124 124 0 0 1 400.5 545.4" fill="none" stroke="#686868" stroke-width="3.8" stroke-linecap="round"/>
<path d="M354.9 450.7A131 131 0 0 1 359.9 418.4" fill="none" stroke="#646464" stroke-width="4.5" stroke-linecap="round"/>
<path d="M419.2 559.6A124 124 0 0 1 389.2 533.0" fill="none" stroke="#6c6c6c" stroke-width="3.2" stroke-linecap="round"/>
<path d="M402.2 354.0A130 130 0 0 1 452.4 328.3" fill="none" stroke="#606060" stroke-width="5.8" stroke-linecap="round"/>
<path d="M452.1 594.4A144 144 0 0 1 392.1 563.8" fill="none" stroke="#636363" stroke-width="4.9" stroke-linecap="round"/>
<path d="M365.9 537.9A146 146 0 0 1 340.8 472.1" fill="none" stroke="#646464" stroke-width="5.4" stroke-linecap="round"/>
<path d="M378.8 380.2A130 130 0 0 1 420.0 342.2" fill="none" stroke="#727272" stroke-width="3.4" stroke-linecap="round"/></g>
<g filter="url(#bx)"><circle cx="485.5" cy="454.5" r="10" fill="#9f9f9f"/>
<ellipse cx="485.5" cy="454.5" rx="6.5" ry="6.5" fill="#f2f2f2"/></g>
</g>
<g id="fx1"><g filter="url(#bl)"><path d="M255.0 636.0C267.5 620.8 302.5 622.3 330.0 624.0C357.5 625.7 388.3 640.3 420.0 646.0C451.7 651.7 490.0 654.7 520.0 658.0C550.0 661.3 580.0 661.0 600.0 666.0C620.0 671.0 633.3 679.8 640.0 688.0C646.7 696.2 704.2 710.5 640.0 715.0C575.8 719.5 319.2 728.2 255.0 715.0C190.8 701.8 242.5 651.2 255.0 636.0Z" fill="#efefef" fill-opacity="0.8"/>
<path d="M640.0 668.0C650.0 660.8 680.0 672.0 700.0 672.0C720.0 672.0 743.3 670.8 760.0 668.0C776.7 665.2 785.0 658.0 800.0 655.0C815.0 652.0 841.7 640.0 850.0 650.0C858.3 660.0 885.0 704.2 850.0 715.0C815.0 725.8 675.0 722.8 640.0 715.0C605.0 707.2 630.0 675.2 640.0 668.0Z" fill="#efefef" fill-opacity="0.7"/>
<path d="M600.0 300.0C626.0 283.3 796.7 280.0 836.0 300.0C875.3 320.0 852.0 398.3 836.0 420.0C820.0 441.7 766.0 433.3 740.0 430.0C714.0 426.7 703.3 421.7 680.0 400.0C656.7 378.3 574.0 316.7 600.0 300.0Z" fill="#6c6c6c" fill-opacity="0.5"/></g><g filter="url(#bm)"><path d="M622.9 497.9C634.0 487.9 671.0 487.9 682.7 497.9C694.5 507.9 692.1 536.0 693.3 557.7C694.5 579.5 697.4 615.3 689.8 628.2C682.2 641.1 659.3 638.1 647.5 635.2C635.8 632.3 624.6 623.5 619.4 610.6C614.1 597.7 615.3 576.5 615.8 557.7C616.4 539.0 611.7 507.9 622.9 497.9Z" fill="#595959"/>
<path d="M563.0 628.2C574.8 615.3 598.2 607.0 612.3 607.0C626.4 607.0 644.6 618.8 647.5 628.2C650.5 637.6 641.7 655.2 629.9 663.4C618.2 671.6 591.8 673.9 577.1 677.5C562.4 681.0 544.2 692.7 541.9 684.5C539.6 676.3 551.3 641.1 563.0 628.2Z" fill="#666666"/>
<path d="M573.6 483.8C578.6 479.1 595.3 477.9 598.2 487.3C601.2 496.7 595.3 523.7 591.2 540.1C587.1 556.6 581.8 573.6 573.6 585.9C565.4 598.2 550.7 610.6 541.9 614.1C533.1 617.6 519.0 616.4 520.8 607.0C522.5 597.7 544.5 573.0 552.5 557.7C560.4 542.5 564.8 527.8 568.3 515.5C571.8 503.2 568.6 488.5 573.6 483.8Z" fill="#606060"/>
<path d="M603.5 485.6C605.8 480.9 611.3 478.2 612.3 487.3C613.3 496.4 611.9 522.5 609.5 540.1C607.2 557.7 603.6 577.1 598.2 593.0C592.8 608.8 587.7 622.3 577.1 635.2C566.5 648.1 548.9 663.4 534.9 670.4C520.8 677.5 503.2 678.6 492.6 677.5C482.0 676.3 466.2 669.2 471.5 663.4C476.8 657.5 509.0 651.6 524.3 642.3C539.6 632.9 552.5 621.1 563.0 607.0C573.6 593.0 581.7 573.0 587.7 557.7C593.7 542.5 596.3 527.5 598.9 515.5C601.6 503.5 601.3 490.3 603.5 485.6Z" fill="#e9e9e9" fill-opacity="0.8"/>
<path d="M628.0 604.0C634.0 594.0 641.3 590.7 648.0 590.0C654.7 589.3 662.7 591.7 668.0 600.0C673.3 608.3 674.3 629.7 680.0 640.0C685.7 650.3 698.3 651.2 702.0 662.0C705.7 672.8 719.7 697.8 702.0 705.0C684.3 712.2 611.0 714.2 596.0 705.0C581.0 695.8 606.7 666.8 612.0 650.0C617.3 633.2 622.0 614.0 628.0 604.0Z" fill="#ececec" fill-opacity="0.8"/></g><g filter="url(#bs)"><ellipse cx="326.1" cy="674.5" rx="7.6" ry="4.5" fill="#858585" transform="rotate(-13 326.1 674.5)"/>
<ellipse cx="537.0" cy="665.6" rx="5.0" ry="3.4" fill="#838383" transform="rotate(-25 537.0 665.6)"/>
<ellipse cx="559.0" cy="670.8" rx="11.0" ry="2.8" fill="#7a7a7a" transform="rotate(-21 559.0 670.8)"/>
<ellipse cx="322.8" cy="680.9" rx="10.4" ry="3.9" fill="#7c7c7c" transform="rotate(9 322.8 680.9)"/>
<ellipse cx="384.5" cy="664.2" rx="15.4" ry="3.1" fill="#7d7d7d" transform="rotate(-35 384.5 664.2)"/>
<ellipse cx="589.8" cy="684.7" rx="12.0" ry="4.3" fill="#888888" transform="rotate(1 589.8 684.7)"/>
<ellipse cx="312.2" cy="663.8" rx="16.1" ry="4.7" fill="#898989" transform="rotate(-27 312.2 663.8)"/>
<ellipse cx="406.3" cy="658.3" rx="16.9" ry="3.5" fill="#828282" transform="rotate(-18 406.3 658.3)"/>
<ellipse cx="280.8" cy="644.7" rx="11.0" ry="3.7" fill="#878787" transform="rotate(13 280.8 644.7)"/>
<ellipse cx="452.5" cy="677.4" rx="11.7" ry="4.1" fill="#7d7d7d" transform="rotate(-7 452.5 677.4)"/>
<ellipse cx="331.3" cy="648.5" rx="9.2" ry="4.0" fill="#808080" transform="rotate(9 331.3 648.5)"/>
<ellipse cx="293.5" cy="680.7" rx="13.2" ry="4.2" fill="#888888" transform="rotate(-18 293.5 680.7)"/>
<ellipse cx="566.8" cy="687.9" rx="16.5" ry="4.0" fill="#818181" transform="rotate(12 566.8 687.9)"/>
<ellipse cx="561.7" cy="664.5" rx="15.5" ry="2.9" fill="#808080" transform="rotate(-25 561.7 664.5)"/>
<ellipse cx="294.7" cy="680.3" rx="15.0" ry="2.6" fill="#888888" transform="rotate(-13 294.7 680.3)"/>
<ellipse cx="356.6" cy="654.5" rx="5.8" ry="3.3" fill="#818181" transform="rotate(-28 356.6 654.5)"/>
<ellipse cx="566.9" cy="689.2" rx="8.0" ry="4.9" fill="#878787" transform="rotate(-13 566.9 689.2)"/>
<ellipse cx="444.4" cy="676.4" rx="15.1" ry="4.5" fill="#7a7a7a" transform="rotate(-26 444.4 676.4)"/>
<ellipse cx="561.1" cy="670.1" rx="15.2" ry="3.3" fill="#818181" transform="rotate(-8 561.1 670.1)"/>
<ellipse cx="447.3" cy="653.8" rx="13.2" ry="4.9" fill="#888888" transform="rotate(-36 447.3 653.8)"/>
<ellipse cx="279.7" cy="669.7" rx="12.0" ry="3.1" fill="#858585" transform="rotate(6 279.7 669.7)"/>
<ellipse cx="405.0" cy="687.9" rx="6.1" ry="2.7" fill="#8a8a8a" transform="rotate(-30 405.0 687.9)"/>
<ellipse cx="280.3" cy="662.3" rx="12.9" ry="2.8" fill="#7c7c7c" transform="rotate(6 280.3 662.3)"/>
<ellipse cx="448.7" cy="656.2" rx="7.0" ry="3.0" fill="#838383" transform="rotate(-26 448.7 656.2)"/>
<ellipse cx="395.9" cy="675.5" rx="13.5" ry="4.7" fill="#848484" transform="rotate(-35 395.9 675.5)"/>
<ellipse cx="526.0" cy="679.5" rx="5.8" ry="4.4" fill="#797979" transform="rotate(-14 526.0 679.5)"/>
<ellipse cx="829.9" cy="655.6" rx="6.8" ry="2.8" fill="#7a7a7a" transform="rotate(5 829.9 655.6)"/>
<ellipse cx="785.1" cy="663.8" rx="14.6" ry="3.3" fill="#8a8a8a" transform="rotate(-33 785.1 663.8)"/>
<ellipse cx="777.8" cy="687.3" rx="12.1" ry="2.6" fill="#868686" transform="rotate(1 777.8 687.3)"/>
<ellipse cx="818.7" cy="673.6" rx="13.5" ry="4.0" fill="#7f7f7f" transform="rotate(-35 818.7 673.6)"/>
<ellipse cx="826.9" cy="681.0" rx="12.0" ry="4.0" fill="#8c8c8c" transform="rotate(-17 826.9 681.0)"/>
<ellipse cx="727.7" cy="688.3" rx="14.5" ry="4.1" fill="#7f7f7f" transform="rotate(-6 727.7 688.3)"/>
<ellipse cx="710.8" cy="683.0" rx="5.5" ry="3.8" fill="#868686" transform="rotate(-36 710.8 683.0)"/>
<ellipse cx="694.7" cy="687.0" rx="9.1" ry="4.2" fill="#838383" transform="rotate(-19 694.7 687.0)"/>
<ellipse cx="823.8" cy="662.3" rx="8.0" ry="4.0" fill="#808080" transform="rotate(-16 823.8 662.3)"/>
<ellipse cx="769.3" cy="667.3" rx="5.9" ry="5.0" fill="#868686" transform="rotate(-19 769.3 667.3)"/>
<ellipse cx="741.9" cy="667.3" rx="14.5" ry="3.8" fill="#818181" transform="rotate(1 741.9 667.3)"/>
<ellipse cx="820.7" cy="656.9" rx="8.3" ry="3.4" fill="#848484" transform="rotate(-28 820.7 656.9)"/>
<ellipse cx="313.6" cy="637.3" rx="8.9" ry="5.3" fill="#777777" transform="rotate(38 313.6 637.3)"/>
<ellipse cx="285.0" cy="640.0" rx="14.1" ry="5.3" fill="#6d6d6d" transform="rotate(35 285.0 640.0)"/>
<ellipse cx="307.5" cy="664.6" rx="14.8" ry="5.8" fill="#737373" transform="rotate(33 307.5 664.6)"/>
<ellipse cx="318.7" cy="654.6" rx="14.6" ry="5.1" fill="#7f7f7f" transform="rotate(52 318.7 654.6)"/>
<ellipse cx="312.0" cy="658.1" rx="11.7" ry="6.2" fill="#727272" transform="rotate(35 312.0 658.1)"/>
<ellipse cx="313.5" cy="639.4" rx="8.8" ry="5.0" fill="#797979" transform="rotate(41 313.5 639.4)"/>
<ellipse cx="330.8" cy="617.2" rx="7.4" ry="4.8" fill="#6f6f6f" transform="rotate(36 330.8 617.2)"/>
<ellipse cx="312.1" cy="672.2" rx="9.9" ry="4.9" fill="#737373" transform="rotate(52 312.1 672.2)"/></g></g>
<filter id="f2" filterUnits="userSpaceOnUse" x="1080" y="95" width="640" height="600" color-interpolation-filters="sRGB"><feGaussianBlur in="SourceGraphic" stdDeviation="1.2" result="b"/><feTurbulence type="fractalNoise" baseFrequency="0.045" numOctaves="3" seed="5" result="n"/><feColorMatrix in="n" type="matrix" values="1 0 0 0 0 1 0 0 0 0 1 0 0 0 0 0 0 0 0 1" result="n1"/><feComposite in="b" in2="n1" operator="arithmetic" k1="0" k2="1" k3="0.11" k4="-0.055" result="f"/><feComponentTransfer in="f"><feFuncR type="table" tableValues="0.502 0.502 0.502 0.502 0.502 0.502 0.502 0.502 0.502 0.557 0.627 0.706 0.784 0.863 0.973 1.000 1.000 1.000 1.000 1.000 0.894 0.659 0.471 0.478 0.502 0.502 0.439 0.329 0.227 0.125 0.055 0.063 0.165"/><feFuncG type="table" tableValues="0.000 0.000 0.000 0.000 0.000 0.000 0.000 0.000 0.000 0.086 0.173 0.243 0.306 0.376 0.471 0.549 0.627 0.722 0.831 0.925 0.973 0.941 0.933 0.973 1.000 1.000 0.894 0.753 0.651 0.565 0.502 0.439 0.361"/><feFuncB type="table" tableValues="0.000 0.000 0.000 0.000 0.000 0.000 0.000 0.000 0.000 0.000 0.000 0.000 0.000 0.000 0.000 0.047 0.125 0.220 0.345 0.408 0.455 0.439 0.431 0.627 0.816 0.957 1.000 1.000 1.000 1.000 0.988 0.941 0.776"/></feComponentTransfer></filter>
<filter id="f1" filterUnits="userSpaceOnUse" x="205" y="95" width="640" height="600" color-interpolation-filters="sRGB"><feGaussianBlur in="SourceGraphic" stdDeviation="1.2" result="b"/><feTurbulence type="fractalNoise" baseFrequency="0.045" numOctaves="3" seed="5" result="n"/><feColorMatrix in="n" type="matrix" values="1 0 0 0 0 1 0 0 0 0 1 0 0 0 0 0 0 0 0 1" result="n1"/><feComposite in="b" in2="n1" operator="arithmetic" k1="0" k2="1" k3="0.11" k4="-0.055" result="f"/><feComponentTransfer in="f" result="gray"><feFuncR type="table" tableValues="1.000 1.000 1.000 0.994 0.979 0.964 0.950 0.935 0.920 0.905 0.890 0.875 0.861 0.846 0.831 0.801 0.764 0.697 0.608 0.534 0.467 0.445 0.430 0.445 0.460 0.482 0.482 0.371 0.297 0.267 0.252 0.237 0.230"/><feFuncG type="table" tableValues="1.000 1.000 1.000 0.994 0.979 0.964 0.950 0.935 0.920 0.905 0.890 0.875 0.861 0.846 0.831 0.801 0.764 0.697 0.608 0.534 0.467 0.445 0.430 0.445 0.460 0.482 0.482 0.371 0.297 0.267 0.252 0.237 0.230"/><feFuncB type="table" tableValues="1.000 1.000 1.000 0.994 0.979 0.964 0.950 0.935 0.920 0.905 0.890 0.875 0.861 0.846 0.831 0.801 0.764 0.697 0.608 0.534 0.467 0.445 0.430 0.445 0.460 0.482 0.482 0.371 0.297 0.267 0.252 0.237 0.230"/></feComponentTransfer><feComponentTransfer in="f" result="q"><feFuncR type="discrete" tableValues="0.750 0.750 0.750 0.750 0.750 0.750 0.750 0.750 0.750 0.750 0.750 0.750 0.750 0.750 0.750 0.750 0.750 0.750 0.750 0.750 0.750 0.750 0.750 0.750 0.750 0.750 0.750 0.750 0.750 0.750 0.750 0.750 0.750 0.750 0.750 0.750 0.750 0.750 0.750 0.750 0.750 0.750 0.750 0.750 0.750 0.625 0.625 0.625 0.625 0.625 0.625 0.625 0.625 0.625 0.625 0.625 0.625 0.625 0.625 0.625 0.625 0.625 0.625 0.625 0.625 0.625 0.625 0.625 0.625 0.625 0.500 0.500 0.500 0.500 0.500 0.500 0.500 0.500 0.500 0.500 0.500 0.500 0.500 0.500 0.500 0.500 0.500 0.500 0.500 0.500 0.500 0.500 0.500 0.500 0.500 0.500 0.500 0.500 0.500 0.500 0.500 0.500 0.500 0.500 0.500 0.500 0.500 0.500 0.500 0.500 0.500 0.500 0.500 0.500 0.500 0.500 0.500 0.500 0.500 0.500 0.500 0.500 0.500 0.500 0.500 0.500 0.500 0.500 0.500 0.500 0.375 0.375 0.375 0.375 0.375 0.375 0.375 0.375 0.375 0.375 0.375 0.375 0.375 0.375 0.375 0.375 0.375 0.375 0.375 0.375 0.375 0.375 0.375 0.375 0.375 0.375 0.375 0.375 0.250 0.250 0.250 0.250 0.250 0.250 0.250 0.250 0.250 0.250 0.250 0.250 0.250 0.250 0.125 0.125 0.125 0.125 0.125 0.125 0.125 0.125 0.125 0.000 0.000 0.000 0.000 0.000 0.000 0.000 0.000 0.000 0.000 0.000 0.000 0.000 0.000 0.000 0.000 0.000 0.000 0.000 0.000 0.000 0.000 0.000 0.000 0.000 0.000 0.000 0.000 0.000 0.000 0.000 0.000 0.000 0.000 0.000 0.000 0.000 0.000 0.000 0.000 0.000 0.000 0.000 0.000 0.000 0.000 0.000 0.000 0.000 0.000 0.000 0.000 0.000 0.000 0.000 0.000 0.000 0.000 0.000 0.000 0.000 0.000 0.000 0.000 0.000 0.000 0.000 0.000 0.000 0.000 0.000 0.000 0.000 0.000 0.000 0.000 0.000 0.000 0.000 0.000 0.000 0.000 0.000 0.000 0.000 0.000 0.000 0.000 0.000 0.000 0.000 0.000 0.000 0.000 0.000 0.000 0.000 0.000 0.000 0.000 0.000 0.000 0.000 0.000 0.000 0.000 0.000 0.000 0.000 0.000 0.000 0.000 0.000 0.000 0.000 0.000 0.000 0.000 0.000 0.000 0.000 0.000 0.000 0.000 0.000 0.000 0.000 0.000 0.000 0.000 0.000 0.000 0.000 0.000 0.000 0.000 0.000 0.000 0.000"/><feFuncG type="discrete" tableValues="0.750 0.750 0.750 0.750 0.750 0.750 0.750 0.750 0.750 0.750 0.750 0.750 0.750 0.750 0.750 0.750 0.750 0.750 0.750 0.750 0.750 0.750 0.750 0.750 0.750 0.750 0.750 0.750 0.750 0.750 0.750 0.750 0.750 0.750 0.750 0.750 0.750 0.750 0.750 0.750 0.750 0.750 0.750 0.750 0.750 0.625 0.625 0.625 0.625 0.625 0.625 0.625 0.625 0.625 0.625 0.625 0.625 0.625 0.625 0.625 0.625 0.625 0.625 0.625 0.625 0.625 0.625 0.625 0.625 0.625 0.500 0.500 0.500 0.500 0.500 0.500 0.500 0.500 0.500 0.500 0.500 0.500 0.500 0.500 0.500 0.500 0.500 0.500 0.500 0.500 0.500 0.500 0.500 0.500 0.500 0.500 0.500 0.500 0.500 0.500 0.500 0.500 0.500 0.500 0.500 0.500 0.500 0.500 0.500 0.500 0.500 0.500 0.500 0.500 0.500 0.500 0.500 0.500 0.500 0.500 0.500 0.500 0.500 0.500 0.500 0.500 0.500 0.500 0.500 0.500 0.375 0.375 0.375 0.375 0.375 0.375 0.375 0.375 0.375 0.375 0.375 0.375 0.375 0.375 0.375 0.375 0.375 0.375 0.375 0.375 0.375 0.375 0.375 0.375 0.375 0.375 0.375 0.375 0.250 0.250 0.250 0.250 0.250 0.250 0.250 0.250 0.250 0.250 0.250 0.250 0.250 0.250 0.125 0.125 0.125 0.125 0.125 0.125 0.125 0.125 0.125 0.000 0.000 0.000 0.000 0.000 0.000 0.000 0.000 0.000 0.000 0.000 0.000 0.000 0.000 0.000 0.000 0.000 0.000 0.000 0.000 0.000 0.000 0.000 0.000 0.000 0.000 0.000 0.000 0.000 0.000 0.000 0.000 0.000 0.000 0.000 0.000 0.000 0.000 0.000 0.000 0.000 0.000 0.000 0.000 0.000 0.000 0.000 0.000 0.000 0.000 0.000 0.000 0.000 0.000 0.000 0.000 0.000 0.000 0.000 0.000 0.000 0.000 0.000 0.000 0.000 0.000 0.000 0.000 0.000 0.000 0.000 0.000 0.000 0.000 0.000 0.000 0.000 0.000 0.000 0.000 0.000 0.000 0.000 0.000 0.000 0.000 0.000 0.000 0.000 0.000 0.000 0.000 0.000 0.000 0.000 0.000 0.000 0.000 0.000 0.000 0.000 0.000 0.000 0.000 0.000 0.000 0.000 0.000 0.000 0.000 0.000 0.000 0.000 0.000 0.000 0.000 0.000 0.000 0.000 0.000 0.000 0.000 0.000 0.000 0.000 0.000 0.000 0.000 0.000 0.000 0.000 0.000 0.000 0.000 0.000 0.000 0.000 0.000 0.000"/><feFuncB type="discrete" tableValues="0.750 0.750 0.750 0.750 0.750 0.750 0.750 0.750 0.750 0.750 0.750 0.750 0.750 0.750 0.750 0.750 0.750 0.750 0.750 0.750 0.750 0.750 0.750 0.750 0.750 0.750 0.750 0.750 0.750 0.750 0.750 0.750 0.750 0.750 0.750 0.750 0.750 0.750 0.750 0.750 0.750 0.750 0.750 0.750 0.750 0.625 0.625 0.625 0.625 0.625 0.625 0.625 0.625 0.625 0.625 0.625 0.625 0.625 0.625 0.625 0.625 0.625 0.625 0.625 0.625 0.625 0.625 0.625 0.625 0.625 0.500 0.500 0.500 0.500 0.500 0.500 0.500 0.500 0.500 0.500 0.500 0.500 0.500 0.500 0.500 0.500 0.500 0.500 0.500 0.500 0.500 0.500 0.500 0.500 0.500 0.500 0.500 0.500 0.500 0.500 0.500 0.500 0.500 0.500 0.500 0.500 0.500 0.500 0.500 0.500 0.500 0.500 0.500 0.500 0.500 0.500 0.500 0.500 0.500 0.500 0.500 0.500 0.500 0.500 0.500 0.500 0.500 0.500 0.500 0.500 0.375 0.375 0.375 0.375 0.375 0.375 0.375 0.375 0.375 0.375 0.375 0.375 0.375 0.375 0.375 0.375 0.375 0.375 0.375 0.375 0.375 0.375 0.375 0.375 0.375 0.375 0.375 0.375 0.250 0.250 0.250 0.250 0.250 0.250 0.250 0.250 0.250 0.250 0.250 0.250 0.250 0.250 0.125 0.125 0.125 0.125 0.125 0.125 0.125 0.125 0.125 0.000 0.000 0.000 0.000 0.000 0.000 0.000 0.000 0.000 0.000 0.000 0.000 0.000 0.000 0.000 0.000 0.000 0.000 0.000 0.000 0.000 0.000 0.000 0.000 0.000 0.000 0.000 0.000 0.000 0.000 0.000 0.000 0.000 0.000 0.000 0.000 0.000 0.000 0.000 0.000 0.000 0.000 0.000 0.000 0.000 0.000 0.000 0.000 0.000 0.000 0.000 0.000 0.000 0.000 0.000 0.000 0.000 0.000 0.000 0.000 0.000 0.000 0.000 0.000 0.000 0.000 0.000 0.000 0.000 0.000 0.000 0.000 0.000 0.000 0.000 0.000 0.000 0.000 0.000 0.000 0.000 0.000 0.000 0.000 0.000 0.000 0.000 0.000 0.000 0.000 0.000 0.000 0.000 0.000 0.000 0.000 0.000 0.000 0.000 0.000 0.000 0.000 0.000 0.000 0.000 0.000 0.000 0.000 0.000 0.000 0.000 0.000 0.000 0.000 0.000 0.000 0.000 0.000 0.000 0.000 0.000 0.000 0.000 0.000 0.000 0.000 0.000 0.000 0.000 0.000 0.000 0.000 0.000 0.000 0.000 0.000 0.000 0.000 0.000"/></feComponentTransfer><feMorphology in="q" operator="dilate" radius="1" result="d"/><feMorphology in="q" operator="erode" radius="1" result="e"/><feBlend in="d" in2="e" mode="difference" result="df"/><feColorMatrix in="df" type="matrix" values="0 0 0 0 0 0 0 0 0 0 0 0 0 0 0 255 0 0 0 0" result="mask0"/><feGaussianBlur in="mask0" stdDeviation="0.7" result="mask1"/><feComponentTransfer in="mask1" result="mask"><feFuncA type="linear" slope="2.4" intercept="-0.1"/></feComponentTransfer><feMorphology in="d" operator="dilate" radius="1" result="d2"/><feComponentTransfer in="d2" result="col"><feFuncR type="discrete" tableValues="0.000 0.992 0.478 0.133 0.165 0.255 0.267 0.000 0.000"/><feFuncG type="discrete" tableValues="0.000 0.906 0.820 0.659 0.471 0.267 0.004 0.000 0.000"/><feFuncB type="discrete" tableValues="0.000 0.145 0.318 0.518 0.557 0.529 0.329 0.000 0.000"/></feComponentTransfer><feComposite in="col" in2="mask" operator="in" result="lines"/><feMerge><feMergeNode in="gray"/><feMergeNode in="lines"/></feMerge></filter>
</defs>
<g id="p1">
<rect x="107" y="100" width="731" height="731" fill="#000"/>
<g clip-path="url(#clip1)"><g filter="url(#f1)"><use href="#field"/><use href="#fx1"/></g></g>
</g>
<g id="p2">
<g clip-path="url(#clip2)"><g filter="url(#f2)"><use href="#field" x="875"/></g></g>
</g>
<g stroke="#fff" stroke-width="2.2" stroke-dasharray="2.2 3.3" fill="none">
<path d="M234.0 103V828"/>
<path d="M379.75 103V828"/>
<path d="M525.5 103V828"/>
<path d="M671.25 103V828"/>
<path d="M817.0 103V828"/>
<path d="M110 210.0H835"/>
<path d="M110 355.75H835"/>
<path d="M110 501.5H835"/>
<path d="M110 647.25H835"/>
<path d="M110 793.0H835"/>
</g>
<g stroke="#fff" stroke-width="2.2" stroke-dasharray="2.2 3.3" fill="none" clip-path="url(#clip2)">
<path d="M1109.0 103V828"/>
<path d="M1254.75 103V828"/>
<path d="M1400.5 103V828"/>
<path d="M1546.25 103V828"/>
<path d="M1692.0 103V828"/>
<path d="M985 210.0H1710"/>
<path d="M985 355.75H1710"/>
<path d="M985 501.5H1710"/>
<path d="M985 647.25H1710"/>
<path d="M985 793.0H1710"/>
</g>
<g clip-path="url(#clipax1)"><g fill="none" stroke="#fff" stroke-width="1.6" stroke-linejoin="round"><path d="M482.0 100.0C482.9 103.5 485.6 115.3 487.3 121.1C489.1 127.0 489.4 129.3 492.6 135.2C495.8 141.1 499.6 152.2 506.7 156.3C513.7 160.4 523.1 159.6 534.9 159.9C546.6 160.2 567.7 155.5 577.1 158.1C586.5 160.7 591.2 170.1 591.2 175.7C591.2 181.3 582.4 187.1 577.1 191.5C571.8 196.0 564.8 197.1 559.5 202.1C554.2 207.1 542.5 218.8 545.4 221.5C548.4 224.1 566.0 219.4 577.1 218.0C588.3 216.5 597.7 213.3 612.3 212.7C627.0 212.1 650.5 214.7 665.1 214.4C679.8 214.1 689.2 211.2 700.4 210.9C711.5 210.6 720.3 213.6 732.0 212.7C743.8 211.8 759.0 208.0 770.8 205.6C782.5 203.3 796.6 201.2 802.5 198.6C808.3 196.0 808.3 192.1 806.0 189.8C803.6 187.4 797.2 188.9 788.4 184.5C779.6 180.1 763.7 167.8 753.2 163.4C742.6 159.0 735.0 159.3 725.0 158.1C715.0 156.9 699.8 158.4 693.3 156.3C686.9 154.3 685.1 148.7 686.3 145.8C687.4 142.8 700.9 142.3 700.4 138.7C699.8 135.2 691.5 128.2 682.7 124.6C673.9 121.1 659.3 120.0 647.5 117.6C635.8 115.3 624.1 113.5 612.3 110.6C600.6 107.6 583.0 101.8 577.1 100.0"/><path d="M497.9 337.7C499.1 334.7 500.5 328.6 506.7 325.4C512.9 322.1 523.1 318.6 534.9 318.3C546.6 318.0 564.2 321.0 577.1 323.6C590.0 326.2 602.9 330.9 612.3 334.2C621.7 337.4 626.1 338.3 633.5 343.0C640.8 347.7 656.3 358.9 656.3 362.3C656.3 365.7 640.8 363.7 633.5 363.4C626.1 363.1 618.2 359.9 612.3 360.6C606.5 361.3 602.3 364.7 598.2 367.6C594.1 370.5 591.2 377.6 587.7 378.2C584.2 378.8 584.7 373.5 577.1 371.1C569.5 368.8 550.1 368.2 541.9 364.1C533.7 360.0 534.9 350.0 527.8 346.5C520.8 343.0 504.6 344.4 499.6 343.0C494.7 341.5 496.7 340.6 497.9 337.7Z"/><path d="M839.4 314.8C835.6 313.6 825.1 308.3 816.5 307.7C808.0 307.2 794.2 308.3 788.4 311.3C782.5 314.2 779.0 321.2 781.3 325.4C783.7 329.5 795.4 331.8 802.5 335.9C809.5 340.0 817.4 348.8 823.6 350.0C829.8 351.2 836.8 344.1 839.4 343.0"/><path d="M277.8 256.7C279.3 255.4 284.6 254.6 288.4 254.9C292.2 255.2 300.1 257.2 300.7 258.5C301.3 259.7 295.4 262.0 291.9 262.7C288.4 263.4 281.9 263.7 279.6 262.7C277.2 261.7 276.3 258.0 277.8 256.7Z"/><path d="M371.1 235.6C375.5 233.9 394.4 228.7 399.3 227.8C404.2 226.9 404.8 228.6 400.4 230.3C396.0 232.0 377.8 237.1 372.9 238.0C368.0 238.9 366.7 237.3 371.1 235.6Z"/><path d="M425.7 129.9L432.7 134.2" stroke-width="3.2" stroke-linecap="round"/><path d="M437.0 135.2L450.4 145.8" stroke-width="3.2" stroke-linecap="round"/><path d="M457.4 152.8L468.0 158.5" stroke-width="3.2" stroke-linecap="round"/><path d="M492.6 165.1L501.4 172.2" stroke-width="3.2" stroke-linecap="round"/></g>
<path d="M110.1 545.7C112.4 546.9 119.7 551.2 123.9 553.0C128.0 554.9 132.3 554.3 134.9 556.7C137.5 559.1 136.7 564.8 139.4 567.7C142.2 570.6 150.5 572.3 151.4 574.1C152.3 576.0 146.9 576.0 145.0 578.7C143.0 581.5 139.6 586.1 139.4 590.6C139.3 595.2 142.7 601.2 144.0 606.2C145.4 611.3 148.0 616.3 147.7 620.9C147.4 625.5 144.8 629.5 142.2 633.8C139.6 638.0 134.7 641.7 132.1 646.6C129.5 651.5 128.1 657.3 126.6 663.1C125.1 668.9 124.1 675.4 122.9 681.5C121.8 687.6 120.0 693.7 119.8 699.8C119.7 705.9 121.2 713.3 122.0 718.2C122.8 723.1 124.9 725.5 124.8 729.2C124.6 732.8 121.6 736.5 121.1 740.2C120.6 743.9 121.1 747.8 122.0 751.2C122.9 754.6 127.5 758.1 126.6 760.4C125.7 762.7 119.0 762.2 116.5 765.0C114.1 767.7 112.8 772.1 111.9 776.9C111.1 781.6 111.5 790.6 111.4 793.4" fill="none" stroke="#fff" stroke-width="1.6" stroke-linejoin="round"/>
<ellipse cx="118.3" cy="559.4" rx="3" ry="3.6" fill="none" stroke="#fff" stroke-width="1.5"/>
<ellipse cx="135.8" cy="587.0" rx="5" ry="6.0" fill="none" stroke="#fff" stroke-width="1.5"/>
<ellipse cx="178.0" cy="619.1" rx="3" ry="3.6" fill="none" stroke="#fff" stroke-width="1.5"/>
<ellipse cx="279.8" cy="694.9" rx="2" ry="2.4" fill="none" stroke="#fff" stroke-width="1.5"/>
<ellipse cx="255.0" cy="753.0" rx="2.5" ry="3.0" fill="none" stroke="#fff" stroke-width="1.5"/>
<ellipse cx="157.8" cy="780.6" rx="2" ry="2.4" fill="none" stroke="#fff" stroke-width="1.5"/>
<ellipse cx="117.4" cy="742.0" rx="5" ry="6.0" fill="none" stroke="#fff" stroke-width="1.5"/>
<ellipse cx="120.2" cy="758.5" rx="5" ry="6.0" fill="none" stroke="#fff" stroke-width="1.5"/>
<path d="M140 106.5Q160 114 186 105.5" fill="none" stroke="#fff" stroke-width="1.6"/>
</g>
<rect x="436" y="429" width="72" height="72.5" fill="#ff0000" fill-opacity="0.4"/>
<circle cx="485.5" cy="454.5" r="7.5" fill="#b5403a"/>
<circle cx="485.5" cy="454.5" r="17" fill="none" stroke="#440154" stroke-width="1.8"/>
<circle cx="485.5" cy="454.5" r="15" fill="none" stroke="#414487" stroke-width="1.8"/>
<circle cx="485.5" cy="454.5" r="13.2" fill="none" stroke="#2a788e" stroke-width="1.8"/>
<circle cx="485.5" cy="454.5" r="11.6" fill="none" stroke="#22a884" stroke-width="1.8"/>
<circle cx="485.5" cy="454.5" r="10.2" fill="none" stroke="#7ad151" stroke-width="1.8"/>
<circle cx="485.5" cy="454.5" r="8.8" fill="none" stroke="#fde725" stroke-width="1.8"/>
<circle cx="485.5" cy="454.5" r="7.4" fill="none" stroke="#ff9a3a" stroke-width="1.8"/>
<text transform="translate(399 440) rotate(-72)" font-size="16.5" text-anchor="middle" fill="#414487" textLength="32" lengthAdjust="spacing">−76</text>
<text transform="translate(551 431) rotate(68)" font-size="16.5" text-anchor="middle" fill="#46327e" textLength="32" lengthAdjust="spacing">−81</text>
<text transform="translate(591 462) rotate(20)" font-size="16.5" text-anchor="middle" fill="#46327e" textLength="32" lengthAdjust="spacing">−81</text>
<text transform="translate(655 498) rotate(85)" font-size="16.5" text-anchor="middle" fill="#46327e" textLength="32" lengthAdjust="spacing">−81</text>
<text transform="translate(492 480) rotate(0)" font-size="16.5" text-anchor="middle" fill="#46327e" textLength="32" lengthAdjust="spacing">−81</text>
<text transform="translate(505 354) rotate(10)" font-size="16.5" text-anchor="middle" fill="#414487" textLength="32" lengthAdjust="spacing">−76</text>
<text transform="translate(565 356) rotate(10)" font-size="16.5" text-anchor="middle" fill="#414487" textLength="32" lengthAdjust="spacing">−76</text>
<text transform="translate(429 316) rotate(-35)" font-size="16.5" text-anchor="middle" fill="#22a884" textLength="32" lengthAdjust="spacing">−54</text>
<text transform="translate(632 308) rotate(42)" font-size="16.5" text-anchor="middle" fill="#22a884" textLength="32" lengthAdjust="spacing">−54</text>
<text transform="translate(693 326) rotate(55)" font-size="16.5" text-anchor="middle" fill="#22a884" textLength="32" lengthAdjust="spacing">−54</text>
<text transform="translate(776 405) rotate(0)" font-size="16.5" text-anchor="middle" fill="#22a884" textLength="32" lengthAdjust="spacing">−54</text>
<text transform="translate(556 530) rotate(-50)" font-size="16.5" text-anchor="middle" fill="#2a788e" textLength="32" lengthAdjust="spacing">−64</text>
<text transform="translate(473 609) rotate(5)" font-size="16.5" text-anchor="middle" fill="#fde725" textLength="32" lengthAdjust="spacing">−31</text>
<text transform="translate(602 656) rotate(-50)" font-size="16.5" text-anchor="middle" fill="#fde725" textLength="32" lengthAdjust="spacing">−31</text>
<text transform="translate(820 628) rotate(-40)" font-size="16.5" text-anchor="middle" fill="#fde725" textLength="32" lengthAdjust="spacing">−31</text>
<text transform="translate(296 176) rotate(75)" font-size="16.5" text-anchor="middle" fill="#fde725" textLength="32" lengthAdjust="spacing">−31</text>
<g clip-path="url(#clipax1)" fill="none" stroke-linejoin="round">
<path d="M471.8 465.1L480.7 465.1L494.9 437.6L492.2 462.5L502.0 464.2L509.1 469.6L523.3 471.3L530.4 466.0L532.1 466.0L537.4 469.5L535.6 482.0L560.5 478.4L560.5 473.1L627.9 473.1L627.9 469.5L635.0 469.5L635.0 478.4L649.2 480.2L652.8 486.4L661.6 478.4L674.1 471.3L684.7 466.0L691.8 457.1L702.5 458.9L722.0 450.9L727.3 455.3L727.3 473.1L734.4 478.4L758.4 487.3L781.4 515.7L744.2 506.8L700.7 515.7L722.0 537.9L744.2 552.1L773.4 596.4L780.5 626.6L834.8 623.9" stroke="#00bfbf" stroke-width="9.5" stroke-dasharray="4.5 1.8"/>
<path d="M480.7 466.0L502.0 473.1L525.0 478.4L567.6 480.2L638.6 478.4L667.0 483.7L693.6 453.6L725.5 457.1L755.7 490.8L791.2 487.3L787.6 526.3L658.1 587.5L661.6 597.3L787.6 529.9L755.7 572.5L759.3 608.0L780.5 616.8L834.8 600.9" stroke="#008000" stroke-width="2.6"/>
<path d="M707.8 508.6L713.1 522.8L745.1 529.9L720.2 537.0" stroke="#008000" stroke-width="2.6"/>
<path d="M486.0 455.0L530.0 470.0L576.5 473.1L604.9 474.0L643.0 473.1L671.4 480.7L693.6 465.1L730.0 457.1L758.4 487.3L781.4 515.7L744.2 506.8L700.7 515.7L722.0 537.9L744.2 552.1L773.4 596.4L780.5 626.6L834.8 623.9" stroke="#0000ff" stroke-width="2.3"/>
<g fill="#0000ff" stroke="none"><circle cx="576.5" cy="473.1" r="3.6"/><circle cx="604.9" cy="474.0" r="3.6"/><circle cx="643.0" cy="473.1" r="3.6"/><circle cx="671.4" cy="480.7" r="3.6"/><circle cx="693.6" cy="465.1" r="3.6"/><circle cx="730.0" cy="457.1" r="3.6"/><circle cx="758.4" cy="487.3" r="3.6"/><circle cx="781.4" cy="515.7" r="3.6"/><circle cx="744.2" cy="506.8" r="3.6"/><circle cx="700.7" cy="515.7" r="3.6"/><circle cx="722.0" cy="537.9" r="3.6"/><circle cx="744.2" cy="552.1" r="3.6"/><circle cx="773.4" cy="596.4" r="3.6"/><circle cx="780.5" cy="626.6" r="3.6"/></g>
<path d="M498 457Q520 390 536 348T571 300Q640 205 725 103" stroke="#0000ff" stroke-width="2.6" stroke-dasharray="2.6 4.2"/>
<path d="M471.8 465.1L480.7 465.1L494.9 437.6L492.2 462.5L502.0 464.2L509.1 469.6L523.3 471.3L530.4 466.0L532.1 466.0L537.4 469.5L535.6 482.0L560.5 478.4L560.5 473.1L627.9 473.1L627.9 469.5L635.0 469.5L635.0 478.4L649.2 480.2L652.8 486.4L661.6 478.4L674.1 471.3L684.7 466.0L691.8 457.1L702.5 458.9L722.0 450.9L727.3 455.3L727.3 473.1L734.4 478.4L748.6 467.8L748.6 494.4L734.4 487.3L723.8 474.9L729.1 462.4L745.1 478.4L755.7 473.1L761.0 487.3L791.2 508.6L791.2 487.3L794.7 501.5L823.1 531.6L784.1 526.3L745.1 508.6L704.2 497.9L700.7 471.3L707.8 494.4L713.1 501.5L720.2 517.4L704.2 526.3L723.8 529.9L738.0 515.7L752.2 540.5L748.6 554.7L753.9 574.2L766.3 586.7L769.9 579.6L771.7 592.0L757.5 608.0L764.6 618.6L759.3 625.7L773.4 625.7L780.5 616.8L782.3 611.5L801.8 615.1L808.9 625.7L834.8 636.3L819.6 616.8L834.8 625.7" stroke="#ff0000" stroke-width="3.4"/>
<path d="M725.5 462.4L746.8 478.4L746.8 487.3L734.4 487.3L724.6 474.9Z" fill="#ff0000" stroke="#ff0000" stroke-width="2"/>
<path d="M745.1 508.6L784.1 526.3L780.5 519.2L752.2 505.0Z" fill="#ff0000" stroke="#ff0000" stroke-width="2"/>
<path d="M704.2 522.8L722.0 522.8L723.8 531.6L706.0 529.9Z" fill="#ff0000" stroke="#ff0000" stroke-width="2"/>
<path d="M739.7 522.8L752.2 537.0L750.4 554.7L743.3 533.4Z" fill="#ff0000" stroke="#ff0000" stroke-width="2"/>
<path d="M782.3 609.7L801.8 613.3L812.5 625.7L834.8 634.6L834.8 613.3L808.9 615.1Z" fill="#ff0000" stroke="#ff0000" stroke-width="2"/>
</g>
<g fill="#bf00bf" clip-path="url(#clipax1)"><rect x="661.5" y="462.3" width="9.2" height="9.2"/><rect x="685.4" y="464.9" width="9.2" height="9.2"/><rect x="727.1" y="446.3" width="9.2" height="9.2"/><rect x="748.4" y="434.8" width="9.2" height="9.2"/><rect x="717.4" y="477.4" width="9.2" height="9.2"/><rect x="730.7" y="483.6" width="9.2" height="9.2"/><rect x="568.3" y="480.9" width="9.2" height="9.2"/><rect x="727.1" y="501.3" width="9.2" height="9.2"/><rect x="693.4" y="514.6" width="9.2" height="9.2"/><rect x="763.5" y="533.3" width="9.2" height="9.2"/><rect x="779.5" y="532.4" width="9.2" height="9.2"/><rect x="808.8" y="551.9" width="9.2" height="9.2"/><rect x="791.9" y="504.9" width="9.2" height="9.2"/><rect x="665.0" y="573.2" width="9.2" height="9.2"/><rect x="706.7" y="607.8" width="9.2" height="9.2"/><rect x="697.0" y="619.3" width="9.2" height="9.2"/><rect x="760.0" y="625.5" width="9.2" height="9.2"/><rect x="827.4" y="664.6" width="9.2" height="9.2"/><rect x="469.9" y="455.2" width="9.2" height="9.2"/><rect x="476.1" y="466.7" width="9.2" height="9.2"/><rect x="515.1" y="466.7" width="9.2" height="9.2"/></g>
<path d="M600 332L609.8 341.8M609.8 332L600 341.8" stroke="#ff0000" stroke-width="3.4" fill="none"/>
<rect x="492.6" y="108.9" width="336.3" height="185.1" rx="3.5" fill="#fff" fill-opacity="0.8" stroke="#ccc" stroke-opacity="0.8" stroke-width="2.8"/>
<text x="542.5" y="126.8" font-size="16.4" textLength="174.2" lengthAdjust="spacing">AMSU Locations NONE</text>
<text x="542.5" y="149.6" font-size="16.4" textLength="209.9" lengthAdjust="spacing">ARCHER Locations [2348Z]</text>
<text x="542.5" y="172.5" font-size="16.4" textLength="279.1" lengthAdjust="spacing">SATCON Locations [0140Z 168 902]</text>
<text x="542.5" y="195.3" font-size="16.4" textLength="252.8" lengthAdjust="spacing">ADT Tracks [0210Z 179.0 878.5]</text>
<text x="542.5" y="218.1" font-size="16.4" textLength="241.8" lengthAdjust="spacing">JTWC/NHC Forecast [27/1800Z]</text>
<text x="542.5" y="240.9" font-size="16.4" textLength="224.3" lengthAdjust="spacing">JTWC/NHC Tracks [28/0000Z]</text>
<text x="542.5" y="263.8" font-size="16.4" textLength="231.8" lengthAdjust="spacing">MESOSCALE/TARGET Location</text>
<text x="542.5" y="286.6" font-size="16.4" textLength="117.5" lengthAdjust="spacing">Floater Locater</text>
<rect x="509.9" y="117.6" width="9.2" height="9.2" fill="#bf00bf"/><rect x="509.9" y="140.4" width="9.2" height="9.2" fill="#bf00bf"/>
<path d="M510.3 163.7l8.4 8.4m0 -8.4l-8.4 8.4" stroke="#00bfbf" stroke-width="2.8" fill="none"/>
<path d="M497.5 190.7H530.8" stroke="#008000" stroke-width="2.6"/>
<path d="M497.5 213.5H530.8" stroke="#0000ff" stroke-width="2.6" stroke-dasharray="2.6 4.2"/>
<path d="M497.5 236.3H530.8" stroke="#0000ff" stroke-width="2.3"/><circle cx="514.2" cy="236.3" r="3.8" fill="#0000ff"/>
<path d="M509 254.0l10.4 10.4m0 -10.4l-10.4 10.4" stroke="#ff0000" stroke-width="3.6" fill="none"/>
<path d="M497.5 282.0H530.8" stroke="#ff0000" stroke-width="2.8"/>
<rect x="108" y="805.3" width="309" height="25" rx="4" fill="#000"/>
<text x="111.9" y="821.8" font-size="18.2" font-weight="bold" fill="#fff" textLength="302" lengthAdjust="spacing">Copyright © 2020-2025 Dapiya</text>
<g clip-path="url(#clip2)"><g fill="none" stroke="#fff" stroke-width="1.6" stroke-linejoin="round"><path d="M1357.0 100.0C1357.9 103.5 1360.6 115.3 1362.3 121.1C1364.1 127.0 1364.4 129.3 1367.6 135.2C1370.8 141.1 1374.6 152.2 1381.7 156.3C1388.7 160.4 1398.1 159.6 1409.9 159.9C1421.6 160.2 1442.7 155.5 1452.1 158.1C1461.5 160.7 1466.2 170.1 1466.2 175.7C1466.2 181.3 1457.4 187.1 1452.1 191.5C1446.8 196.0 1439.8 197.1 1434.5 202.1C1429.2 207.1 1417.5 218.8 1420.4 221.5C1423.4 224.1 1441.0 219.4 1452.1 218.0C1463.3 216.5 1472.7 213.3 1487.3 212.7C1502.0 212.1 1525.5 214.7 1540.1 214.4C1554.8 214.1 1564.2 211.2 1575.4 210.9C1586.5 210.6 1595.3 213.6 1607.0 212.7C1618.8 211.8 1634.0 208.0 1645.8 205.6C1657.5 203.3 1671.6 201.2 1677.5 198.6C1683.3 196.0 1683.3 192.1 1681.0 189.8C1678.6 187.4 1672.2 188.9 1663.4 184.5C1654.6 180.1 1638.7 167.8 1628.2 163.4C1617.6 159.0 1610.0 159.3 1600.0 158.1C1590.0 156.9 1574.8 158.4 1568.3 156.3C1561.9 154.3 1560.1 148.7 1561.3 145.8C1562.4 142.8 1575.9 142.3 1575.4 138.7C1574.8 135.2 1566.5 128.2 1557.7 124.6C1548.9 121.1 1534.3 120.0 1522.5 117.6C1510.8 115.3 1499.1 113.5 1487.3 110.6C1475.6 107.6 1458.0 101.8 1452.1 100.0"/><path d="M1372.9 337.7C1374.1 334.7 1375.5 328.6 1381.7 325.4C1387.9 322.1 1398.1 318.6 1409.9 318.3C1421.6 318.0 1439.2 321.0 1452.1 323.6C1465.0 326.2 1477.9 330.9 1487.3 334.2C1496.7 337.4 1501.1 338.3 1508.5 343.0C1515.8 347.7 1531.3 358.9 1531.3 362.3C1531.3 365.7 1515.8 363.7 1508.5 363.4C1501.1 363.1 1493.2 359.9 1487.3 360.6C1481.5 361.3 1477.3 364.7 1473.2 367.6C1469.1 370.5 1466.2 377.6 1462.7 378.2C1459.2 378.8 1459.7 373.5 1452.1 371.1C1444.5 368.8 1425.1 368.2 1416.9 364.1C1408.7 360.0 1409.9 350.0 1402.8 346.5C1395.8 343.0 1379.6 344.4 1374.6 343.0C1369.7 341.5 1371.7 340.6 1372.9 337.7Z"/><path d="M1714.4 314.8C1710.6 313.6 1700.1 308.3 1691.5 307.7C1683.0 307.2 1669.2 308.3 1663.4 311.3C1657.5 314.2 1654.0 321.2 1656.3 325.4C1658.7 329.5 1670.4 331.8 1677.5 335.9C1684.5 340.0 1692.4 348.8 1698.6 350.0C1704.8 351.2 1711.8 344.1 1714.4 343.0"/><path d="M1152.8 256.7C1154.3 255.4 1159.6 254.6 1163.4 254.9C1167.2 255.2 1175.1 257.2 1175.7 258.5C1176.3 259.7 1170.4 262.0 1166.9 262.7C1163.4 263.4 1156.9 263.7 1154.6 262.7C1152.2 261.7 1151.3 258.0 1152.8 256.7Z"/><path d="M1246.1 235.6C1250.5 233.9 1269.4 228.7 1274.3 227.8C1279.2 226.9 1279.8 228.6 1275.4 230.3C1271.0 232.0 1252.8 237.1 1247.9 238.0C1243.0 238.9 1241.7 237.3 1246.1 235.6Z"/><path d="M1300.7 129.9L1307.7 134.2" stroke-width="3.2" stroke-linecap="round"/><path d="M1312.0 135.2L1325.4 145.8" stroke-width="3.2" stroke-linecap="round"/><path d="M1332.4 152.8L1343.0 158.5" stroke-width="3.2" stroke-linecap="round"/><path d="M1367.6 165.1L1376.4 172.2" stroke-width="3.2" stroke-linecap="round"/></g></g>
<rect x="108.4" y="101.5" width="728.1" height="728" fill="none" stroke="#000" stroke-width="2.9"/>
<rect x="983.4" y="101.5" width="728.2" height="728" fill="none" stroke="#000" stroke-width="2.9"/>
<text x="234.0" y="851.5" font-size="14.73" text-anchor="middle" textLength="36.5" lengthAdjust="spacing">82°W</text>
<text x="379.8" y="851.5" font-size="14.73" text-anchor="middle" textLength="36.5" lengthAdjust="spacing">80°W</text>
<text x="525.5" y="851.5" font-size="14.73" text-anchor="middle" textLength="36.5" lengthAdjust="spacing">78°W</text>
<text x="671.2" y="851.5" font-size="14.73" text-anchor="middle" textLength="36.5" lengthAdjust="spacing">76°W</text>
<text x="817.0" y="851.5" font-size="14.73" text-anchor="middle" textLength="36.5" lengthAdjust="spacing">74°W</text>
<text x="100.0" y="215.0" font-size="14.73" text-anchor="end" textLength="33.5" lengthAdjust="spacing">20°N</text>
<text x="100.0" y="360.8" font-size="14.73" text-anchor="end" textLength="33.5" lengthAdjust="spacing">18°N</text>
<text x="100.0" y="506.5" font-size="14.73" text-anchor="end" textLength="33.5" lengthAdjust="spacing">16°N</text>
<text x="100.0" y="652.2" font-size="14.73" text-anchor="end" textLength="33.5" lengthAdjust="spacing">14°N</text>
<text x="100.0" y="798.0" font-size="14.73" text-anchor="end" textLength="33.5" lengthAdjust="spacing">12°N</text>
<text x="1109.0" y="851.5" font-size="14.73" text-anchor="middle" textLength="36.5" lengthAdjust="spacing">82°W</text>
<text x="1254.8" y="851.5" font-size="14.73" text-anchor="middle" textLength="36.5" lengthAdjust="spacing">80°W</text>
<text x="1400.5" y="851.5" font-size="14.73" text-anchor="middle" textLength="36.5" lengthAdjust="spacing">78°W</text>
<text x="1546.2" y="851.5" font-size="14.73" text-anchor="middle" textLength="36.5" lengthAdjust="spacing">76°W</text>
<text x="1692.0" y="851.5" font-size="14.73" text-anchor="middle" textLength="36.5" lengthAdjust="spacing">74°W</text>
<text x="975.0" y="215.0" font-size="14.73" text-anchor="end" textLength="33.5" lengthAdjust="spacing">20°N</text>
<text x="975.0" y="360.8" font-size="14.73" text-anchor="end" textLength="33.5" lengthAdjust="spacing">18°N</text>
<text x="975.0" y="506.5" font-size="14.73" text-anchor="end" textLength="33.5" lengthAdjust="spacing">16°N</text>
<text x="975.0" y="652.2" font-size="14.73" text-anchor="end" textLength="33.5" lengthAdjust="spacing">14°N</text>
<text x="975.0" y="798.0" font-size="14.73" text-anchor="end" textLength="33.5" lengthAdjust="spacing">12°N</text>
<text x="108.3" y="50.5" font-size="27.98" textLength="470.5" lengthAdjust="spacing">GOES-19 BAND14-DIAS MESOSCALE</text>
<text x="108.3" y="80.5" font-size="27.98" textLength="372.5" lengthAdjust="spacing">Time: 2025/10/28 02:36:24Z</text>
<text x="1711.0" y="38.9" font-size="17.70" text-anchor="end" textLength="369.5" lengthAdjust="spacing">[dmax, dmin](BAND14)=(19.552, -87.662)</text>
<text x="1711.0" y="60.0" font-size="17.70" text-anchor="end" textLength="343.4" lengthAdjust="spacing">[dmax, dmin](AWV)=(-13.252, -84.566)</text>
<text x="1711.0" y="81.0" font-size="17.70" text-anchor="end" textLength="249.8" lengthAdjust="spacing">13L.MELISSA | 150kt, 909mb</text>
<rect x="843.9" y="101.2" width="14.3" height="728.3" fill="url(#cb1)" stroke="#000" stroke-width="1.4"/>
<text x="852.0" y="93.2" font-size="17.70" textLength="18.8" lengthAdjust="spacing">°C</text>
<text x="866.0" y="162.0" font-size="17.70" textLength="19.9" lengthAdjust="spacing">40</text>
<text x="866.0" y="216.0" font-size="17.70" textLength="19.9" lengthAdjust="spacing">30</text>
<text x="866.0" y="270.0" font-size="17.70" textLength="19.9" lengthAdjust="spacing">20</text>
<text x="866.0" y="324.0" font-size="17.70" textLength="19.9" lengthAdjust="spacing">10</text>
<text x="866.0" y="378.0" font-size="17.70" textLength="9.3" lengthAdjust="spacing">0</text>
<text x="866.0" y="432.0" font-size="17.70" textLength="33.9" lengthAdjust="spacing">−10</text>
<text x="866.0" y="486.0" font-size="17.70" textLength="33.9" lengthAdjust="spacing">−20</text>
<text x="866.0" y="540.0" font-size="17.70" textLength="33.9" lengthAdjust="spacing">−30</text>
<text x="866.0" y="594.0" font-size="17.70" textLength="33.9" lengthAdjust="spacing">−40</text>
<text x="866.0" y="648.0" font-size="17.70" textLength="33.9" lengthAdjust="spacing">−50</text>
<text x="866.0" y="702.0" font-size="17.70" textLength="33.9" lengthAdjust="spacing">−60</text>
<text x="866.0" y="756.0" font-size="17.70" textLength="33.9" lengthAdjust="spacing">−70</text>
<text x="866.0" y="810.0" font-size="17.70" textLength="33.9" lengthAdjust="spacing">−80</text>
<rect x="1718.7" y="101.2" width="14.4" height="728.3" fill="url(#cb2)" stroke="#000" stroke-width="1.4"/>
<text x="1727.5" y="93.2" font-size="17.70" textLength="18.8" lengthAdjust="spacing">°C</text>
<text x="1741.0" y="156.9" font-size="17.70" textLength="19.9" lengthAdjust="spacing">40</text>
<text x="1741.0" y="205.5" font-size="17.70" textLength="19.9" lengthAdjust="spacing">30</text>
<text x="1741.0" y="254.1" font-size="17.70" textLength="19.9" lengthAdjust="spacing">20</text>
<text x="1741.0" y="302.6" font-size="17.70" textLength="19.9" lengthAdjust="spacing">10</text>
<text x="1741.0" y="351.2" font-size="17.70" textLength="9.3" lengthAdjust="spacing">0</text>
<text x="1741.0" y="399.8" font-size="17.70" textLength="33.9" lengthAdjust="spacing">−10</text>
<text x="1741.0" y="448.4" font-size="17.70" textLength="33.9" lengthAdjust="spacing">−20</text>
<text x="1741.0" y="497.0" font-size="17.70" textLength="33.9" lengthAdjust="spacing">−30</text>
<text x="1741.0" y="545.5" font-size="17.70" textLength="33.9" lengthAdjust="spacing">−40</text>
<text x="1741.0" y="594.1" font-size="17.70" textLength="33.9" lengthAdjust="spacing">−50</text>
<text x="1741.0" y="642.7" font-size="17.70" textLength="33.9" lengthAdjust="spacing">−60</text>
<text x="1741.0" y="691.3" font-size="17.70" textLength="33.9" lengthAdjust="spacing">−70</text>
<text x="1741.0" y="739.9" font-size="17.70" textLength="33.9" lengthAdjust="spacing">−80</text>
<text x="1741.0" y="788.4" font-size="17.70" textLength="33.9" lengthAdjust="spacing">−90</text>
<g id="p3">
<rect x="108.4" y="903.9" width="750.2" height="749.6" fill="#fff" stroke="#000" stroke-width="2.9"/>
<path d="M108.4 1278H858.6" stroke="#000" stroke-width="2.9"/>
<g stroke="#000" stroke-width="2.8">
<path d="M96.6 1275.0H107.4"/>
<path d="M96.6 1220.4H107.4"/>
<path d="M96.6 1165.8H107.4"/>
<path d="M96.6 1111.2H107.4"/>
<path d="M96.6 1056.6H107.4"/>
<path d="M96.6 1002.0H107.4"/>
<path d="M96.6 947.4H107.4"/>
<path d="M860 1217.0H871"/>
<path d="M860 1151.8H871"/>
<path d="M860 1086.6H871"/>
<path d="M860 1021.4H871"/>
<path d="M860 956.2H871"/>
<path d="M96.6 1636.0H107.4"/>
<path d="M96.6 1591.5H107.4"/>
<path d="M96.6 1547.0H107.4"/>
<path d="M96.6 1502.5H107.4"/>
<path d="M96.6 1458.0H107.4"/>
<path d="M96.6 1413.5H107.4"/>
<path d="M96.6 1369.0H107.4"/>
<path d="M96.6 1324.5H107.4"/>
<path d="M96.6 1280.0H107.4"/>
</g>
<text x="82.6" y="1279.4" font-size="12.3" text-anchor="end" textLength="14.4" lengthAdjust="spacing">20</text>
<text x="82.6" y="1224.8" font-size="12.3" text-anchor="end" textLength="14.4" lengthAdjust="spacing">40</text>
<text x="82.6" y="1170.2" font-size="12.3" text-anchor="end" textLength="14.4" lengthAdjust="spacing">60</text>
<text x="82.6" y="1115.6" font-size="12.3" text-anchor="end" textLength="14.4" lengthAdjust="spacing">80</text>
<text x="82.6" y="1061.0" font-size="12.3" text-anchor="end" textLength="22.3" lengthAdjust="spacing">100</text>
<text x="82.6" y="1006.4" font-size="12.3" text-anchor="end" textLength="22.3" lengthAdjust="spacing">120</text>
<text x="82.6" y="951.8" font-size="12.3" text-anchor="end" textLength="22.3" lengthAdjust="spacing">140</text>
<text x="883.6" y="1221.4" font-size="12.3" textLength="22.3" lengthAdjust="spacing">920</text>
<text x="883.6" y="1156.2" font-size="12.3" textLength="22.3" lengthAdjust="spacing">940</text>
<text x="883.6" y="1091.0" font-size="12.3" textLength="22.3" lengthAdjust="spacing">960</text>
<text x="883.6" y="1025.8" font-size="12.3" textLength="22.3" lengthAdjust="spacing">980</text>
<text x="883.6" y="960.6" font-size="12.3" textLength="30.1" lengthAdjust="spacing">1000</text>
<text x="82.6" y="1640.4" font-size="12.3" text-anchor="end" textLength="18.4" lengthAdjust="spacing">0.0</text>
<text x="82.6" y="1595.9" font-size="12.3" text-anchor="end" textLength="18.4" lengthAdjust="spacing">2.5</text>
<text x="82.6" y="1551.4" font-size="12.3" text-anchor="end" textLength="18.4" lengthAdjust="spacing">5.0</text>
<text x="82.6" y="1506.9" font-size="12.3" text-anchor="end" textLength="18.4" lengthAdjust="spacing">7.5</text>
<text x="82.6" y="1462.4" font-size="12.3" text-anchor="end" textLength="26.2" lengthAdjust="spacing">10.0</text>
<text x="82.6" y="1417.9" font-size="12.3" text-anchor="end" textLength="26.2" lengthAdjust="spacing">12.5</text>
<text x="82.6" y="1373.4" font-size="12.3" text-anchor="end" textLength="26.2" lengthAdjust="spacing">15.0</text>
<text x="82.6" y="1328.9" font-size="12.3" text-anchor="end" textLength="26.2" lengthAdjust="spacing">17.5</text>
<text x="82.6" y="1284.4" font-size="12.3" text-anchor="end" textLength="26.2" lengthAdjust="spacing">20.0</text>
<text transform="translate(39.5 1092) rotate(-90)" font-size="11.4" text-anchor="middle" textLength="32" lengthAdjust="spacing">Wind</text>
<text transform="translate(35 1460) rotate(-90)" font-size="11.4" text-anchor="middle" textLength="25" lengthAdjust="spacing">ACE</text>
<text transform="translate(942.5 1093) rotate(-90)" font-size="11.4" text-anchor="middle" textLength="56" lengthAdjust="spacing">Pressure</text>
<text x="483.5" y="881.5" font-size="23.6" text-anchor="middle" textLength="317.0" lengthAdjust="spacing">Wind / Pres. / ACE Diagnosis</text>
<polyline clip-path="url(#clip3)" fill="none" stroke-linejoin="round" stroke="#0000ff" stroke-width="5.6" points="139.6,1261.3 155.9,1261.3 172.2,1261.3 188.6,1261.3 204.9,1247.7 221.2,1247.7 237.5,1247.7 253.8,1247.7 270.2,1247.7 286.5,1247.7 302.8,1247.7 319.1,1247.7 335.4,1234.0 351.8,1234.0 368.1,1234.0 384.4,1220.4 400.7,1206.8 417.0,1206.8 433.4,1206.8 449.7,1206.8 466.0,1206.8 482.3,1206.8 498.6,1206.8 515.0,1220.4 531.3,1220.4 547.6,1220.4 563.9,1220.4 580.2,1220.4 596.6,1220.4 612.9,1193.1 629.2,1179.5 645.5,1165.8 661.8,1165.8 678.2,1124.8 694.5,1083.9 710.8,1029.3 727.1,1002.0 743.4,1002.0 759.8,988.4 776.1,961.0 792.4,947.4 808.7,920.1 825.0,920.1"/>
<rect x="118" y="912.8" width="225" height="34.40000000000009" rx="3.5" fill="#fff" fill-opacity="0.8" stroke="#ccc" stroke-opacity="0.8" stroke-width="2.8"/>
<path d="M122.8 928.6H166" stroke="#0000ff" stroke-width="5.6"/>
<text x="180.0" y="936.3" font-size="20.6" textLength="154.4" lengthAdjust="spacing">Wind[max=150]</text>
<polyline clip-path="url(#clip3)" fill="none" stroke-linejoin="round" stroke="#008000" stroke-width="5.6" points="139.6,1636.0 155.9,1636.0 172.2,1636.0 188.6,1636.0 204.9,1636.0 221.2,1636.0 237.5,1636.0 253.8,1636.0 270.2,1636.0 286.5,1636.0 302.8,1636.0 319.1,1636.0 335.4,1636.0 351.8,1636.0 368.1,1636.0 384.4,1633.2 400.7,1629.5 417.0,1625.9 433.4,1622.3 449.7,1618.7 466.0,1615.1 482.3,1611.5 498.6,1607.9 515.0,1605.1 531.3,1602.2 547.6,1599.4 563.9,1596.5 580.2,1593.7 596.6,1590.8 612.9,1586.4 629.2,1581.0 645.5,1574.6 661.8,1568.2 678.2,1558.2 694.5,1543.8 710.8,1522.2 727.1,1496.6 743.4,1470.9 759.8,1443.1 776.1,1410.7 792.4,1375.8 808.7,1335.8 825.0,1295.7"/>
<rect x="118" y="1287.8" width="257.5" height="33.799999999999955" rx="3.5" fill="#fff" fill-opacity="0.8" stroke="#ccc" stroke-opacity="0.8" stroke-width="2.8"/>
<path d="M122.8 1303.6H166" stroke="#008000" stroke-width="5.6"/>
<text x="180.0" y="1311.2" font-size="20.6" textLength="188.0" lengthAdjust="spacing">ACE[max=19.1175]</text>
<polyline clip-path="url(#clip3)" fill="none" stroke-linejoin="round" stroke="#1f77b4" stroke-width="5.6" points="139.6,920.3 155.9,920.3 172.2,920.3 188.6,920.3 204.9,920.3 221.2,923.6 237.5,923.6 253.8,923.6 270.2,926.9 286.5,926.9 302.8,926.9 319.1,930.1 335.4,930.1 351.8,930.1 368.1,936.6 384.4,943.2 400.7,946.4 417.0,946.4 433.4,946.4 449.7,952.9 466.0,952.9 482.3,952.9 498.6,949.7 515.0,946.4 531.3,946.4 547.6,952.9 563.9,952.9 580.2,952.9 596.6,952.9 612.9,966.0 629.2,978.7 645.5,1001.2 661.8,1014.2 678.2,1034.4 694.5,1050.4 710.8,1105.5 727.1,1111.7 743.4,1138.1 759.8,1173.3 776.1,1203.3 792.4,1243.7 808.7,1262.6 825.0,1252.9"/>
<rect x="629.8" y="912.8" width="218.4000000000001" height="34.40000000000009" rx="3.5" fill="#fff" fill-opacity="0.8" stroke="#ccc" stroke-opacity="0.8" stroke-width="2.8"/>
<path d="M635 928.6H678" stroke="#1f77b4" stroke-width="5.6"/>
<text x="691.6" y="936.3" font-size="20.6" textLength="148.0" lengthAdjust="spacing">Pres.[min=906]</text>
</g>
<g id="p4">
<rect x="983.5" y="903.9" width="749" height="749.6" fill="#fff"/>
<path d="M985 907.3L1718.6 908.3L1731.1 1633.8L985 1631.8Z" fill="#555555"/>
<g transform="matrix(1 0 0.0172 1 -15.619 0)" shape-rendering="crispEdges">
<rect x="1362.60" y="908.10" width="28.82" height="14.80" fill="#888888"/>
<rect x="1505.20" y="908.10" width="14.56" height="14.80" fill="#888888"/>
<rect x="1576.50" y="908.10" width="57.34" height="14.80" fill="#888888"/>
<rect x="1391.12" y="922.60" width="14.56" height="14.80" fill="#888888"/>
<rect x="1419.64" y="922.60" width="14.56" height="14.80" fill="#888888"/>
<rect x="1576.50" y="922.60" width="14.56" height="14.80" fill="#888888"/>
<rect x="1633.54" y="922.60" width="28.82" height="14.80" fill="#888888"/>
<rect x="1376.86" y="937.10" width="14.56" height="14.80" fill="#888888"/>
<rect x="1405.38" y="937.10" width="71.60" height="14.80" fill="#888888"/>
<rect x="1490.94" y="937.10" width="57.34" height="14.80" fill="#888888"/>
<rect x="1376.86" y="951.60" width="199.94" height="14.80" fill="#888888"/>
<rect x="1391.12" y="966.10" width="171.42" height="14.80" fill="#888888"/>
<rect x="1334.08" y="980.60" width="28.82" height="14.80" fill="#888888"/>
<rect x="1376.86" y="980.60" width="214.20" height="14.80" fill="#888888"/>
<rect x="1334.08" y="995.10" width="142.90" height="14.80" fill="#888888"/>
<rect x="1476.68" y="995.10" width="28.82" height="14.80" fill="#ffffff"/>
<rect x="1505.20" y="995.10" width="85.86" height="14.80" fill="#888888"/>
<rect x="1334.08" y="1009.60" width="100.12" height="14.80" fill="#888888"/>
<rect x="1433.90" y="1009.60" width="142.90" height="14.80" fill="#ffffff"/>
<rect x="1576.50" y="1009.60" width="57.34" height="14.80" fill="#888888"/>
<rect x="1319.82" y="1024.10" width="85.86" height="14.80" fill="#888888"/>
<rect x="1405.38" y="1024.10" width="185.68" height="14.80" fill="#ffffff"/>
<rect x="1590.76" y="1024.10" width="57.34" height="14.80" fill="#888888"/>
<rect x="1319.82" y="1038.60" width="57.34" height="14.80" fill="#888888"/>
<rect x="1376.86" y="1038.60" width="57.34" height="14.80" fill="#ffffff"/>
<rect x="1433.90" y="1038.60" width="100.12" height="14.80" fill="#000000"/>
<rect x="1533.72" y="1038.60" width="71.60" height="14.80" fill="#ffffff"/>
<rect x="1605.02" y="1038.60" width="57.34" height="14.80" fill="#888888"/>
<rect x="1319.82" y="1053.10" width="57.34" height="14.80" fill="#888888"/>
<rect x="1376.86" y="1053.10" width="28.82" height="14.80" fill="#ffffff"/>
<rect x="1405.38" y="1053.10" width="43.08" height="14.80" fill="#000000"/>
<rect x="1448.16" y="1053.10" width="85.86" height="14.80" fill="#a0a0a0"/>
<rect x="1533.72" y="1053.10" width="28.82" height="14.80" fill="#000000"/>
<rect x="1562.24" y="1053.10" width="57.34" height="14.80" fill="#ffffff"/>
<rect x="1619.28" y="1053.10" width="57.34" height="14.80" fill="#888888"/>
<rect x="1319.82" y="1067.60" width="43.08" height="14.80" fill="#888888"/>
<rect x="1362.60" y="1067.60" width="28.82" height="14.80" fill="#ffffff"/>
<rect x="1391.12" y="1067.60" width="28.82" height="14.80" fill="#000000"/>
<rect x="1419.64" y="1067.60" width="43.08" height="14.80" fill="#a0a0a0"/>
<rect x="1462.42" y="1067.60" width="57.34" height="14.80" fill="#707070"/>
<rect x="1519.46" y="1067.60" width="28.82" height="14.80" fill="#a0a0a0"/>
<rect x="1547.98" y="1067.60" width="28.82" height="14.80" fill="#000000"/>
<rect x="1576.50" y="1067.60" width="57.34" height="14.80" fill="#ffffff"/>
<rect x="1633.54" y="1067.60" width="57.34" height="14.80" fill="#888888"/>
<rect x="1305.56" y="1082.10" width="43.08" height="14.80" fill="#888888"/>
<rect x="1348.34" y="1082.10" width="43.08" height="14.80" fill="#ffffff"/>
<rect x="1391.12" y="1082.10" width="14.56" height="14.80" fill="#000000"/>
<rect x="1405.38" y="1082.10" width="28.82" height="14.80" fill="#a0a0a0"/>
<rect x="1433.90" y="1082.10" width="43.08" height="14.80" fill="#707070"/>
<rect x="1476.68" y="1082.10" width="43.08" height="14.80" fill="#3c3c3c"/>
<rect x="1519.46" y="1082.10" width="28.82" height="14.80" fill="#707070"/>
<rect x="1547.98" y="1082.10" width="14.56" height="14.80" fill="#a0a0a0"/>
<rect x="1562.24" y="1082.10" width="28.82" height="14.80" fill="#000000"/>
<rect x="1590.76" y="1082.10" width="43.08" height="14.80" fill="#ffffff"/>
<rect x="1633.54" y="1082.10" width="71.60" height="14.80" fill="#888888"/>
<rect x="1305.56" y="1096.60" width="43.08" height="14.80" fill="#888888"/>
<rect x="1348.34" y="1096.60" width="28.82" height="14.80" fill="#ffffff"/>
<rect x="1376.86" y="1096.60" width="14.56" height="14.80" fill="#000000"/>
<rect x="1391.12" y="1096.60" width="28.82" height="14.80" fill="#a0a0a0"/>
<rect x="1419.64" y="1096.60" width="14.56" height="14.80" fill="#707070"/>
<rect x="1433.90" y="1096.60" width="28.82" height="14.80" fill="#3c3c3c"/>
<rect x="1462.42" y="1096.60" width="14.56" height="14.80" fill="#c4c4c4"/>
<rect x="1476.68" y="1096.60" width="14.56" height="14.80" fill="#bcbcbc"/>
<rect x="1490.94" y="1096.60" width="14.56" height="14.80" fill="#b4b4b4"/>
<rect x="1505.20" y="1096.60" width="14.56" height="14.80" fill="#b4b4b4"/>
<rect x="1519.46" y="1096.60" width="14.56" height="14.80" fill="#c0c0c0"/>
<rect x="1533.72" y="1096.60" width="14.56" height="14.80" fill="#3c3c3c"/>
<rect x="1547.98" y="1096.60" width="14.56" height="14.80" fill="#707070"/>
<rect x="1562.24" y="1096.60" width="14.56" height="14.80" fill="#a0a0a0"/>
<rect x="1576.50" y="1096.60" width="14.56" height="14.80" fill="#000000"/>
<rect x="1590.76" y="1096.60" width="43.08" height="14.80" fill="#ffffff"/>
<rect x="1633.54" y="1096.60" width="71.60" height="14.80" fill="#888888"/>
<rect x="1305.56" y="1111.10" width="28.82" height="14.80" fill="#888888"/>
<rect x="1334.08" y="1111.10" width="43.08" height="14.80" fill="#ffffff"/>
<rect x="1376.86" y="1111.10" width="14.56" height="14.80" fill="#000000"/>
<rect x="1391.12" y="1111.10" width="14.56" height="14.80" fill="#a0a0a0"/>
<rect x="1405.38" y="1111.10" width="14.56" height="14.80" fill="#707070"/>
<rect x="1419.64" y="1111.10" width="14.56" height="14.80" fill="#3c3c3c"/>
<rect x="1433.90" y="1111.10" width="14.56" height="14.80" fill="#c4c4c4"/>
<rect x="1448.16" y="1111.10" width="14.56" height="14.80" fill="#b0b0b0"/>
<rect x="1462.42" y="1111.10" width="14.56" height="14.80" fill="#a0a0a0"/>
<rect x="1476.68" y="1111.10" width="14.56" height="14.80" fill="#909090"/>
<rect x="1490.94" y="1111.10" width="14.56" height="14.80" fill="#8c8c8c"/>
<rect x="1505.20" y="1111.10" width="14.56" height="14.80" fill="#8c8c8c"/>
<rect x="1519.46" y="1111.10" width="14.56" height="14.80" fill="#989898"/>
<rect x="1533.72" y="1111.10" width="14.56" height="14.80" fill="#a8a8a8"/>
<rect x="1547.98" y="1111.10" width="14.56" height="14.80" fill="#3c3c3c"/>
<rect x="1562.24" y="1111.10" width="14.56" height="14.80" fill="#707070"/>
<rect x="1576.50" y="1111.10" width="14.56" height="14.80" fill="#a0a0a0"/>
<rect x="1590.76" y="1111.10" width="14.56" height="14.80" fill="#000000"/>
<rect x="1605.02" y="1111.10" width="28.82" height="14.80" fill="#ffffff"/>
<rect x="1633.54" y="1111.10" width="85.86" height="14.80" fill="#888888"/>
<rect x="1305.56" y="1125.60" width="28.82" height="14.80" fill="#888888"/>
<rect x="1334.08" y="1125.60" width="28.82" height="14.80" fill="#ffffff"/>
<rect x="1362.60" y="1125.60" width="28.82" height="14.80" fill="#000000"/>
<rect x="1391.12" y="1125.60" width="14.56" height="14.80" fill="#a0a0a0"/>
<rect x="1405.38" y="1125.60" width="14.56" height="14.80" fill="#3c3c3c"/>
<rect x="1419.64" y="1125.60" width="14.56" height="14.80" fill="#c4c4c4"/>
<rect x="1433.90" y="1125.60" width="14.56" height="14.80" fill="#b0b0b0"/>
<rect x="1448.16" y="1125.60" width="14.56" height="14.80" fill="#989898"/>
<rect x="1462.42" y="1125.60" width="14.56" height="14.80" fill="#8a8a8a"/>
<rect x="1476.68" y="1125.60" width="14.56" height="14.80" fill="#7c7c7c"/>
<rect x="1490.94" y="1125.60" width="14.56" height="14.80" fill="#787878"/>
<rect x="1505.20" y="1125.60" width="14.56" height="14.80" fill="#787878"/>
<rect x="1519.46" y="1125.60" width="14.56" height="14.80" fill="#808080"/>
<rect x="1533.72" y="1125.60" width="14.56" height="14.80" fill="#909090"/>
<rect x="1547.98" y="1125.60" width="14.56" height="14.80" fill="#acacac"/>
<rect x="1562.24" y="1125.60" width="14.56" height="14.80" fill="#3c3c3c"/>
<rect x="1576.50" y="1125.60" width="14.56" height="14.80" fill="#a0a0a0"/>
<rect x="1590.76" y="1125.60" width="14.56" height="14.80" fill="#000000"/>
<rect x="1605.02" y="1125.60" width="43.08" height="14.80" fill="#ffffff"/>
<rect x="1647.80" y="1125.60" width="71.60" height="14.80" fill="#888888"/>
<rect x="1291.30" y="1140.10" width="43.08" height="14.80" fill="#888888"/>
<rect x="1334.08" y="1140.10" width="28.82" height="14.80" fill="#ffffff"/>
<rect x="1362.60" y="1140.10" width="14.56" height="14.80" fill="#000000"/>
<rect x="1376.86" y="1140.10" width="14.56" height="14.80" fill="#a0a0a0"/>
<rect x="1391.12" y="1140.10" width="14.56" height="14.80" fill="#707070"/>
<rect x="1405.38" y="1140.10" width="14.56" height="14.80" fill="#3c3c3c"/>
<rect x="1419.64" y="1140.10" width="14.56" height="14.80" fill="#a8a8a8"/>
<rect x="1433.90" y="1140.10" width="14.56" height="14.80" fill="#909090"/>
<rect x="1448.16" y="1140.10" width="14.56" height="14.80" fill="#787878"/>
<rect x="1462.42" y="1140.10" width="14.56" height="14.80" fill="#dcdcdc"/>
<rect x="1476.68" y="1140.10" width="14.56" height="14.80" fill="#cccccc"/>
<rect x="1490.94" y="1140.10" width="14.56" height="14.80" fill="#dcdcdc"/>
<rect x="1505.20" y="1140.10" width="14.56" height="14.80" fill="#cccccc"/>
<rect x="1519.46" y="1140.10" width="14.56" height="14.80" fill="#d4d4d4"/>
<rect x="1533.72" y="1140.10" width="14.56" height="14.80" fill="#787878"/>
<rect x="1547.98" y="1140.10" width="14.56" height="14.80" fill="#8c8c8c"/>
<rect x="1562.24" y="1140.10" width="14.56" height="14.80" fill="#b8b8b8"/>
<rect x="1576.50" y="1140.10" width="14.56" height="14.80" fill="#707070"/>
<rect x="1590.76" y="1140.10" width="14.56" height="14.80" fill="#a0a0a0"/>
<rect x="1605.02" y="1140.10" width="14.56" height="14.80" fill="#000000"/>
<rect x="1619.28" y="1140.10" width="14.56" height="14.80" fill="#ffffff"/>
<rect x="1633.54" y="1140.10" width="85.86" height="14.80" fill="#888888"/>
<rect x="1291.30" y="1154.60" width="43.08" height="14.80" fill="#888888"/>
<rect x="1334.08" y="1154.60" width="28.82" height="14.80" fill="#ffffff"/>
<rect x="1362.60" y="1154.60" width="14.56" height="14.80" fill="#000000"/>
<rect x="1376.86" y="1154.60" width="14.56" height="14.80" fill="#a0a0a0"/>
<rect x="1391.12" y="1154.60" width="14.56" height="14.80" fill="#707070"/>
<rect x="1405.38" y="1154.60" width="14.56" height="14.80" fill="#c0c0c0"/>
<rect x="1419.64" y="1154.60" width="14.56" height="14.80" fill="#989898"/>
<rect x="1433.90" y="1154.60" width="14.56" height="14.80" fill="#7c7c7c"/>
<rect x="1448.16" y="1154.60" width="14.56" height="14.80" fill="#cccccc"/>
<rect x="1462.42" y="1154.60" width="14.56" height="14.80" fill="#8c8c8c"/>
<rect x="1476.68" y="1154.60" width="14.56" height="14.80" fill="#808080"/>
<rect x="1490.94" y="1154.60" width="14.56" height="14.80" fill="#b4b4b4"/>
<rect x="1505.20" y="1154.60" width="14.56" height="14.80" fill="#c4c4c4"/>
<rect x="1519.46" y="1154.60" width="14.56" height="14.80" fill="#a8a8a8"/>
<rect x="1533.72" y="1154.60" width="14.56" height="14.80" fill="#dcdcdc"/>
<rect x="1547.98" y="1154.60" width="14.56" height="14.80" fill="#808080"/>
<rect x="1562.24" y="1154.60" width="14.56" height="14.80" fill="#a8a8a8"/>
<rect x="1576.50" y="1154.60" width="14.56" height="14.80" fill="#707070"/>
<rect x="1590.76" y="1154.60" width="14.56" height="14.80" fill="#a0a0a0"/>
<rect x="1605.02" y="1154.60" width="14.56" height="14.80" fill="#000000"/>
<rect x="1619.28" y="1154.60" width="28.82" height="14.80" fill="#ffffff"/>
<rect x="1647.80" y="1154.60" width="71.60" height="14.80" fill="#888888"/>
<rect x="1291.30" y="1169.10" width="43.08" height="14.80" fill="#888888"/>
<rect x="1334.08" y="1169.10" width="28.82" height="14.80" fill="#ffffff"/>
<rect x="1362.60" y="1169.10" width="14.56" height="14.80" fill="#000000"/>
<rect x="1376.86" y="1169.10" width="14.56" height="14.80" fill="#a0a0a0"/>
<rect x="1391.12" y="1169.10" width="14.56" height="14.80" fill="#707070"/>
<rect x="1405.38" y="1169.10" width="14.56" height="14.80" fill="#bcbcbc"/>
<rect x="1419.64" y="1169.10" width="14.56" height="14.80" fill="#8c8c8c"/>
<rect x="1433.90" y="1169.10" width="14.56" height="14.80" fill="#707070"/>
<rect x="1448.16" y="1169.10" width="14.56" height="14.80" fill="#909090"/>
<rect x="1462.42" y="1169.10" width="14.56" height="14.80" fill="#707070"/>
<rect x="1476.68" y="1169.10" width="14.56" height="14.80" fill="#747474"/>
<rect x="1490.94" y="1169.10" width="14.56" height="14.80" fill="#a8a8a8"/>
<rect x="1505.20" y="1169.10" width="14.56" height="14.80" fill="#c0c0c0"/>
<rect x="1519.46" y="1169.10" width="14.56" height="14.80" fill="#949494"/>
<rect x="1533.72" y="1169.10" width="14.56" height="14.80" fill="#a8a8a8"/>
<rect x="1547.98" y="1169.10" width="14.56" height="14.80" fill="#747474"/>
<rect x="1562.24" y="1169.10" width="14.56" height="14.80" fill="#a8a8a8"/>
<rect x="1576.50" y="1169.10" width="14.56" height="14.80" fill="#707070"/>
<rect x="1590.76" y="1169.10" width="14.56" height="14.80" fill="#a0a0a0"/>
<rect x="1605.02" y="1169.10" width="14.56" height="14.80" fill="#000000"/>
<rect x="1619.28" y="1169.10" width="14.56" height="14.80" fill="#ffffff"/>
<rect x="1633.54" y="1169.10" width="85.86" height="14.80" fill="#888888"/>
<rect x="1291.30" y="1183.60" width="43.08" height="14.80" fill="#888888"/>
<rect x="1334.08" y="1183.60" width="43.08" height="14.80" fill="#ffffff"/>
<rect x="1376.86" y="1183.60" width="14.56" height="14.80" fill="#000000"/>
<rect x="1391.12" y="1183.60" width="14.56" height="14.80" fill="#a0a0a0"/>
<rect x="1405.38" y="1183.60" width="14.56" height="14.80" fill="#c8c8c8"/>
<rect x="1419.64" y="1183.60" width="14.56" height="14.80" fill="#888888"/>
<rect x="1433.90" y="1183.60" width="14.56" height="14.80" fill="#d8d8d8"/>
<rect x="1448.16" y="1183.60" width="14.56" height="14.80" fill="#888888"/>
<rect x="1462.42" y="1183.60" width="14.56" height="14.80" fill="#8c8c8c"/>
<rect x="1476.68" y="1183.60" width="14.56" height="14.80" fill="#a4a4a4"/>
<rect x="1490.94" y="1183.60" width="14.56" height="14.80" fill="#c0c0c0"/>
<rect x="1505.20" y="1183.60" width="14.56" height="14.80" fill="#c0c0c0"/>
<rect x="1519.46" y="1183.60" width="14.56" height="14.80" fill="#8c8c8c"/>
<rect x="1533.72" y="1183.60" width="14.56" height="14.80" fill="#8c8c8c"/>
<rect x="1547.98" y="1183.60" width="14.56" height="14.80" fill="#747474"/>
<rect x="1562.24" y="1183.60" width="14.56" height="14.80" fill="#b8b8b8"/>
<rect x="1576.50" y="1183.60" width="14.56" height="14.80" fill="#a0a0a0"/>
<rect x="1590.76" y="1183.60" width="28.82" height="14.80" fill="#000000"/>
<rect x="1619.28" y="1183.60" width="14.56" height="14.80" fill="#ffffff"/>
<rect x="1633.54" y="1183.60" width="85.86" height="14.80" fill="#888888"/>
<rect x="1305.56" y="1198.10" width="43.08" height="14.80" fill="#888888"/>
<rect x="1348.34" y="1198.10" width="28.82" height="14.80" fill="#ffffff"/>
<rect x="1376.86" y="1198.10" width="14.56" height="14.80" fill="#000000"/>
<rect x="1391.12" y="1198.10" width="14.56" height="14.80" fill="#a0a0a0"/>
<rect x="1405.38" y="1198.10" width="14.56" height="14.80" fill="#707070"/>
<rect x="1419.64" y="1198.10" width="14.56" height="14.80" fill="#989898"/>
<rect x="1433.90" y="1198.10" width="14.56" height="14.80" fill="#cccccc"/>
<rect x="1448.16" y="1198.10" width="14.56" height="14.80" fill="#acacac"/>
<rect x="1462.42" y="1198.10" width="14.56" height="14.80" fill="#c8c8c8"/>
<rect x="1476.68" y="1198.10" width="14.56" height="14.80" fill="#cccccc"/>
<rect x="1490.94" y="1198.10" width="14.56" height="14.80" fill="#c4c4c4"/>
<rect x="1505.20" y="1198.10" width="14.56" height="14.80" fill="#b4b4b4"/>
<rect x="1519.46" y="1198.10" width="14.56" height="14.80" fill="#848484"/>
<rect x="1533.72" y="1198.10" width="14.56" height="14.80" fill="#8c8c8c"/>
<rect x="1547.98" y="1198.10" width="14.56" height="14.80" fill="#7c7c7c"/>
<rect x="1562.24" y="1198.10" width="14.56" height="14.80" fill="#3c3c3c"/>
<rect x="1576.50" y="1198.10" width="14.56" height="14.80" fill="#a0a0a0"/>
<rect x="1590.76" y="1198.10" width="14.56" height="14.80" fill="#000000"/>
<rect x="1605.02" y="1198.10" width="28.82" height="14.80" fill="#ffffff"/>
<rect x="1633.54" y="1198.10" width="85.86" height="14.80" fill="#888888"/>
<rect x="1305.56" y="1212.60" width="43.08" height="14.80" fill="#888888"/>
<rect x="1348.34" y="1212.60" width="43.08" height="14.80" fill="#ffffff"/>
<rect x="1391.12" y="1212.60" width="14.56" height="14.80" fill="#000000"/>
<rect x="1405.38" y="1212.60" width="14.56" height="14.80" fill="#a0a0a0"/>
<rect x="1419.64" y="1212.60" width="14.56" height="14.80" fill="#3c3c3c"/>
<rect x="1433.90" y="1212.60" width="14.56" height="14.80" fill="#7c7c7c"/>
<rect x="1448.16" y="1212.60" width="14.56" height="14.80" fill="#c4c4c4"/>
<rect x="1462.42" y="1212.60" width="14.56" height="14.80" fill="#dcdcdc"/>
<rect x="1476.68" y="1212.60" width="14.56" height="14.80" fill="#dcdcdc"/>
<rect x="1490.94" y="1212.60" width="14.56" height="14.80" fill="#d4d4d4"/>
<rect x="1505.20" y="1212.60" width="14.56" height="14.80" fill="#acacac"/>
<rect x="1519.46" y="1212.60" width="14.56" height="14.80" fill="#848484"/>
<rect x="1533.72" y="1212.60" width="14.56" height="14.80" fill="#e4e4e4"/>
<rect x="1547.98" y="1212.60" width="14.56" height="14.80" fill="#a8a8a8"/>
<rect x="1562.24" y="1212.60" width="14.56" height="14.80" fill="#707070"/>
<rect x="1576.50" y="1212.60" width="28.82" height="14.80" fill="#000000"/>
<rect x="1605.02" y="1212.60" width="14.56" height="14.80" fill="#ffffff"/>
<rect x="1619.28" y="1212.60" width="100.12" height="14.80" fill="#888888"/>
<rect x="1305.56" y="1227.10" width="57.34" height="14.80" fill="#888888"/>
<rect x="1362.60" y="1227.10" width="28.82" height="14.80" fill="#ffffff"/>
<rect x="1391.12" y="1227.10" width="14.56" height="14.80" fill="#000000"/>
<rect x="1405.38" y="1227.10" width="28.82" height="14.80" fill="#a0a0a0"/>
<rect x="1433.90" y="1227.10" width="14.56" height="14.80" fill="#3c3c3c"/>
<rect x="1448.16" y="1227.10" width="14.56" height="14.80" fill="#a4a4a4"/>
<rect x="1462.42" y="1227.10" width="14.56" height="14.80" fill="#888888"/>
<rect x="1476.68" y="1227.10" width="14.56" height="14.80" fill="#808080"/>
<rect x="1490.94" y="1227.10" width="14.56" height="14.80" fill="#707070"/>
<rect x="1505.20" y="1227.10" width="14.56" height="14.80" fill="#d4d4d4"/>
<rect x="1519.46" y="1227.10" width="14.56" height="14.80" fill="#747474"/>
<rect x="1533.72" y="1227.10" width="14.56" height="14.80" fill="#a8a8a8"/>
<rect x="1547.98" y="1227.10" width="14.56" height="14.80" fill="#747474"/>
<rect x="1562.24" y="1227.10" width="14.56" height="14.80" fill="#a0a0a0"/>
<rect x="1576.50" y="1227.10" width="14.56" height="14.80" fill="#000000"/>
<rect x="1590.76" y="1227.10" width="28.82" height="14.80" fill="#ffffff"/>
<rect x="1619.28" y="1227.10" width="100.12" height="14.80" fill="#888888"/>
<rect x="1319.82" y="1241.60" width="57.34" height="14.80" fill="#888888"/>
<rect x="1376.86" y="1241.60" width="28.82" height="14.80" fill="#ffffff"/>
<rect x="1405.38" y="1241.60" width="28.82" height="14.80" fill="#000000"/>
<rect x="1433.90" y="1241.60" width="14.56" height="14.80" fill="#a0a0a0"/>
<rect x="1448.16" y="1241.60" width="14.56" height="14.80" fill="#707070"/>
<rect x="1462.42" y="1241.60" width="28.82" height="14.80" fill="#3c3c3c"/>
<rect x="1490.94" y="1241.60" width="14.56" height="14.80" fill="#c4c4c4"/>
<rect x="1505.20" y="1241.60" width="14.56" height="14.80" fill="#bcbcbc"/>
<rect x="1519.46" y="1241.60" width="14.56" height="14.80" fill="#3c3c3c"/>
<rect x="1533.72" y="1241.60" width="14.56" height="14.80" fill="#707070"/>
<rect x="1547.98" y="1241.60" width="14.56" height="14.80" fill="#a0a0a0"/>
<rect x="1562.24" y="1241.60" width="14.56" height="14.80" fill="#000000"/>
<rect x="1576.50" y="1241.60" width="28.82" height="14.80" fill="#ffffff"/>
<rect x="1605.02" y="1241.60" width="57.34" height="14.80" fill="#888888"/>
<rect x="1676.32" y="1241.60" width="43.08" height="14.80" fill="#888888"/>
<rect x="1319.82" y="1256.10" width="71.60" height="14.80" fill="#888888"/>
<rect x="1391.12" y="1256.10" width="28.82" height="14.80" fill="#ffffff"/>
<rect x="1419.64" y="1256.10" width="28.82" height="14.80" fill="#000000"/>
<rect x="1448.16" y="1256.10" width="100.12" height="14.80" fill="#a0a0a0"/>
<rect x="1547.98" y="1256.10" width="14.56" height="14.80" fill="#000000"/>
<rect x="1562.24" y="1256.10" width="28.82" height="14.80" fill="#ffffff"/>
<rect x="1590.76" y="1256.10" width="71.60" height="14.80" fill="#888888"/>
<rect x="1676.32" y="1256.10" width="43.08" height="14.80" fill="#888888"/>
<rect x="1319.82" y="1270.60" width="85.86" height="14.80" fill="#888888"/>
<rect x="1405.38" y="1270.60" width="43.08" height="14.80" fill="#ffffff"/>
<rect x="1448.16" y="1270.60" width="100.12" height="14.80" fill="#000000"/>
<rect x="1547.98" y="1270.60" width="28.82" height="14.80" fill="#ffffff"/>
<rect x="1576.50" y="1270.60" width="57.34" height="14.80" fill="#888888"/>
<rect x="1647.80" y="1270.60" width="14.56" height="14.80" fill="#888888"/>
<rect x="1676.32" y="1270.60" width="28.82" height="14.80" fill="#888888"/>
<rect x="1348.34" y="1285.10" width="71.60" height="14.80" fill="#888888"/>
<rect x="1419.64" y="1285.10" width="157.16" height="14.80" fill="#ffffff"/>
<rect x="1576.50" y="1285.10" width="57.34" height="14.80" fill="#888888"/>
<rect x="1647.80" y="1285.10" width="14.56" height="14.80" fill="#888888"/>
<rect x="1676.32" y="1285.10" width="14.56" height="14.80" fill="#888888"/>
<rect x="1362.60" y="1299.60" width="85.86" height="14.80" fill="#888888"/>
<rect x="1448.16" y="1299.60" width="71.60" height="14.80" fill="#ffffff"/>
<rect x="1519.46" y="1299.60" width="71.60" height="14.80" fill="#888888"/>
<rect x="1676.32" y="1299.60" width="14.56" height="14.80" fill="#888888"/>
<rect x="1391.12" y="1314.10" width="199.94" height="14.80" fill="#888888"/>
<rect x="1391.12" y="1328.60" width="185.68" height="14.80" fill="#888888"/>
<rect x="1405.38" y="1343.10" width="71.60" height="14.80" fill="#888888"/>
<rect x="1490.94" y="1343.10" width="57.34" height="14.80" fill="#888888"/>
<rect x="1490.94" y="1357.60" width="14.56" height="14.80" fill="#888888"/>
</g>
<rect x="995.5" y="917.5" width="194.5" height="31" rx="4" fill="#000"/>
<text x="1002.5" y="939.2" font-size="23" font-weight="bold" fill="#fff" textLength="181" lengthAdjust="spacing">WMG Count: 43</text>
<rect x="983.5" y="903.9" width="749" height="749.6" fill="none" stroke="#000" stroke-width="2.9"/>
</g>
</svg></body></html>
